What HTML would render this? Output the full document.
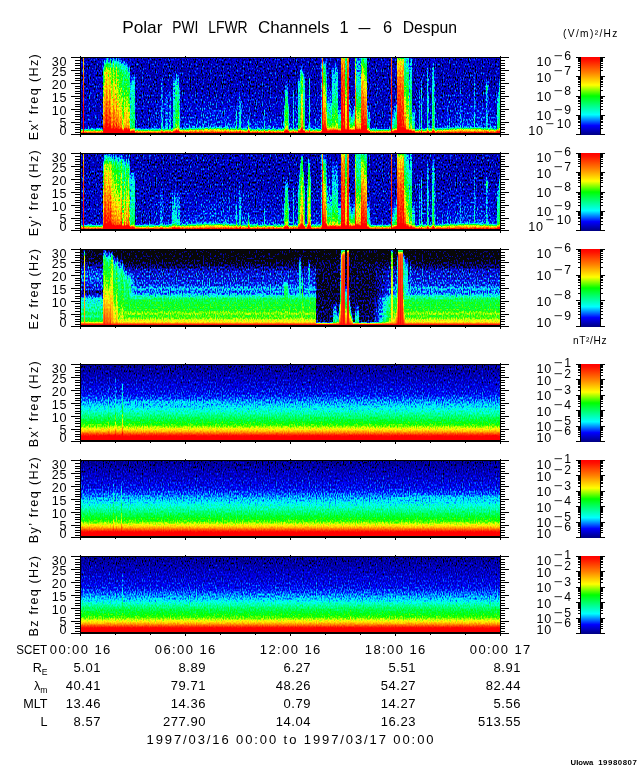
<!DOCTYPE html>
<html lang="en"><head><meta charset="utf-8">
<title>Polar PWI LFWR Channels 1 - 6 Despun</title>
<style>
html,body{margin:0;padding:0;background:#fff;}
body{width:640px;height:768px;overflow:hidden;position:relative;}
svg{display:block;position:absolute;left:0;top:0;font-family:"Liberation Sans", sans-serif;fill:#000;will-change:transform;}
.t13{font-size:12.6px;}
.sp{position:absolute;width:420px;height:77px;overflow:hidden;background:#000;}
.sp i{position:absolute;top:0;width:1px;height:77px;display:block;}
</style></head><body>
<div class="sp" style="left:80px;top:57px;filter:url(#f0)"><i style="left:0px;width:3px;background:linear-gradient(#3c3c3c 0px,#404040 69px,#484848 71px,#585858 72px,#c7c7c7 75px,#dfdfdf 76px)"></i><i style="left:3px;background:linear-gradient(#979797 0px,#9f9f9f 1px,#afafaf 2px,#b7b7b7 4px,#c7c7c7 14px,#dbdbdb 39px,#e7e7e7 68px,#ebebeb 70px,#fbfbfb 73px,#fbfbfb 76px)"></i><i style="left:4px;width:19px;background:linear-gradient(#3c3c3c 0px,#404040 69px,#484848 71px,#585858 72px,#c7c7c7 75px,#dfdfdf 76px)"></i><i style="left:23px;background:linear-gradient(#3c3c3c 0px,#3c3c3c 2px,#484848 6px,#7c7c7c 16px,#939393 30px,#c7c7c7 69px,#d3d3d3 71px,#f7f7f7 73px,#fbfbfb 76px)"></i><i style="left:24px;background:linear-gradient(#404040 0px,#545454 4px,#7c7c7c 9px,#979797 14px,#d3d3d3 66px,#e3e3e3 71px,#fbfbfb 73px,#fbfbfb 76px)"></i><i style="left:25px;background:linear-gradient(#444444 0px,#585858 4px,#8b8b8b 10px,#a3a3a3 15px,#dbdbdb 66px,#ebebeb 71px,#fbfbfb 73px,#fbfbfb 76px)"></i><i style="left:26px;background:linear-gradient(#484848 0px,#646464 4px,#a3a3a3 11px,#afafaf 14px,#e7e7e7 65px,#ebebeb 68px,#fbfbfb 72px,#fbfbfb 76px)"></i><i style="left:27px;background:linear-gradient(#545454 0px,#979797 9px,#9f9f9f 11px,#dfdfdf 68px,#fbfbfb 73px,#fbfbfb 76px)"></i><i style="left:28px;background:linear-gradient(#484848 0px,#505050 2px,#878787 9px,#9b9b9b 13px,#d7d7d7 66px,#e7e7e7 71px,#fbfbfb 73px,#fbfbfb 76px)"></i><i style="left:29px;background:linear-gradient(#444444 0px,#444444 1px,#505050 3px,#9b9b9b 12px,#ababab 16px,#d7d7d7 58px,#e3e3e3 67px,#e7e7e7 69px,#fbfbfb 73px,#fbfbfb 76px)"></i><i style="left:30px;background:linear-gradient(#545454 0px,#878787 7px,#9f9f9f 12px,#a3a3a3 19px,#dbdbdb 67px,#e3e3e3 70px,#fbfbfb 73px,#fbfbfb 76px)"></i><i style="left:31px;background:linear-gradient(#3c3c3c 0px,#4c4c4c 4px,#7c7c7c 11px,#8f8f8f 15px,#a7a7a7 41px,#c7c7c7 67px,#cfcfcf 70px,#d7d7d7 71px,#f7f7f7 73px,#fbfbfb 76px)"></i><i style="left:32px;background:linear-gradient(#484848 0px,#545454 3px,#7c7c7c 9px,#8b8b8b 13px,#a7a7a7 43px,#c3c3c3 66px,#d3d3d3 71px,#f7f7f7 73px,#fbfbfb 76px)"></i><i style="left:33px;background:linear-gradient(#5c5c5c 0px,#9b9b9b 9px,#d7d7d7 66px,#e7e7e7 71px,#fbfbfb 73px,#fbfbfb 76px)"></i><i style="left:34px;background:linear-gradient(#3c3c3c 0px,#4c4c4c 4px,#878787 12px,#979797 15px,#cfcfcf 67px,#d7d7d7 70px,#dfdfdf 71px,#fbfbfb 73px,#fbfbfb 76px)"></i><i style="left:35px;background:linear-gradient(#444444 0px,#4c4c4c 2px,#808080 10px,#8b8b8b 13px,#a3a3a3 39px,#c7c7c7 68px,#d3d3d3 71px,#f7f7f7 73px,#fbfbfb 76px)"></i><i style="left:36px;background:linear-gradient(#585858 0px,#8b8b8b 7px,#9f9f9f 11px,#bbbbbb 43px,#d7d7d7 66px,#e7e7e7 71px,#fbfbfb 73px,#fbfbfb 76px)"></i><i style="left:37px;background:linear-gradient(#404040 0px,#505050 4px,#878787 13px,#8f8f8f 17px,#a3a3a3 41px,#c7c7c7 67px,#cbcbcb 69px,#d7d7d7 71px,#f7f7f7 73px,#fbfbfb 76px)"></i><i style="left:38px;background:linear-gradient(#484848 0px,#5c5c5c 4px,#808080 9px,#8f8f8f 13px,#a3a3a3 37px,#c7c7c7 64px,#dbdbdb 71px,#fbfbfb 73px,#fbfbfb 76px)"></i><i style="left:39px;background:linear-gradient(#444444 0px,#545454 4px,#686868 7px,#808080 13px,#939393 36px,#bfbfbf 68px,#cfcfcf 71px,#f3f3f3 73px,#fbfbfb 74px,#fbfbfb 76px)"></i><i style="left:40px;background:linear-gradient(#484848 0px,#4c4c4c 2px,#7c7c7c 10px,#878787 14px,#8f8f8f 27px,#a3a3a3 45px,#c7c7c7 69px,#d3d3d3 71px,#f7f7f7 73px,#fbfbfb 76px)"></i><i style="left:41px;background:linear-gradient(#404040 0px,#4c4c4c 4px,#6c6c6c 9px,#878787 15px,#979797 35px,#bfbfbf 65px,#cbcbcb 70px,#d3d3d3 71px,#f3f3f3 73px,#fbfbfb 74px,#fbfbfb 76px)"></i><i style="left:42px;background:linear-gradient(#3c3c3c 0px,#484848 4px,#787878 12px,#7c7c7c 14px,#a7a7a7 69px,#afafaf 71px,#bfbfbf 72px,#dfdfdf 73px,#f3f3f3 74px,#fbfbfb 75px,#fbfbfb 76px)"></i><i style="left:43px;background:linear-gradient(#3c3c3c 0px,#3c3c3c 1px,#545454 7px,#6c6c6c 11px,#747474 14px,#9f9f9f 69px,#a7a7a7 71px,#b7b7b7 72px,#d7d7d7 73px,#efefef 74px,#fbfbfb 75px,#fbfbfb 76px)"></i><i style="left:44px;background:linear-gradient(#3c3c3c 0px,#4c4c4c 5px,#6c6c6c 10px,#7c7c7c 15px,#878787 28px,#bfbfbf 68px,#cbcbcb 71px,#f3f3f3 73px,#fbfbfb 74px,#fbfbfb 76px)"></i><i style="left:45px;background:linear-gradient(#3c3c3c 0px,#3c3c3c 2px,#4c4c4c 6px,#606060 9px,#787878 16px,#838383 29px,#b7b7b7 67px,#c7c7c7 71px,#d7d7d7 72px,#efefef 73px,#fbfbfb 74px,#fbfbfb 76px)"></i><i style="left:46px;background:linear-gradient(#3c3c3c 0px,#444444 4px,#6c6c6c 10px,#808080 15px,#9b9b9b 41px,#c3c3c3 68px,#cfcfcf 71px,#f3f3f3 73px,#fbfbfb 74px,#fbfbfb 76px)"></i><i style="left:47px;background:linear-gradient(#3c3c3c 0px,#3c3c3c 4px,#4c4c4c 8px,#787878 16px,#878787 32px,#bbbbbb 68px,#c7c7c7 71px,#efefef 73px,#fbfbfb 74px,#fbfbfb 76px)"></i><i style="left:48px;background:linear-gradient(#3c3c3c 0px,#3c3c3c 5px,#787878 18px,#b7b7b7 68px,#c7c7c7 71px,#d7d7d7 72px,#efefef 73px,#fbfbfb 74px,#fbfbfb 76px)"></i><i style="left:49px;background:linear-gradient(#3c3c3c 0px,#404040 6px,#686868 15px,#707070 19px,#7c7c7c 32px,#afafaf 68px,#bbbbbb 71px,#cfcfcf 72px,#ebebeb 73px,#fbfbfb 74px,#fbfbfb 76px)"></i><i style="left:50px;background:linear-gradient(#3c3c3c 0px,#3c3c3c 17px,#585858 27px,#707070 69px,#7c7c7c 71px,#8b8b8b 72px,#a7a7a7 73px,#ebebeb 75px,#fbfbfb 76px)"></i><i style="left:51px;width:2px;background:linear-gradient(#3c3c3c 0px,#3c3c3c 17px,#646464 25px,#808080 69px,#8b8b8b 71px,#9b9b9b 72px,#b7b7b7 73px,#dbdbdb 74px,#f3f3f3 75px,#fbfbfb 76px)"></i><i style="left:53px;background:linear-gradient(#3c3c3c 0px,#3c3c3c 17px,#646464 24px,#808080 68px,#8b8b8b 71px,#9b9b9b 72px,#dbdbdb 74px,#f3f3f3 75px,#fbfbfb 76px)"></i><i style="left:54px;background:linear-gradient(#3c3c3c 0px,#3c3c3c 17px,#545454 21px,#646464 25px,#7c7c7c 64px,#838383 70px,#8b8b8b 71px,#9b9b9b 72px,#b7b7b7 73px,#dbdbdb 74px,#f3f3f3 75px,#fbfbfb 76px)"></i><i style="left:55px;width:16px;background:linear-gradient(#3c3c3c 0px,#404040 69px,#484848 71px,#585858 72px,#c7c7c7 75px,#dfdfdf 76px)"></i><i style="left:71px;width:10px;background:linear-gradient(#3c3c3c 0px,#3c3c3c 41px,#404040 42px,#444444 69px,#4c4c4c 71px,#5c5c5c 72px,#7c7c7c 73px,#c7c7c7 75px,#e3e3e3 76px)"></i><i style="left:81px;background:linear-gradient(#3c3c3c 0px,#3c3c3c 19px,#4c4c4c 25px,#545454 31px,#585858 50px,#646464 69px,#6c6c6c 71px,#7c7c7c 72px,#e3e3e3 75px,#fbfbfb 76px)"></i><i style="left:82px;background:linear-gradient(#3c3c3c 0px,#3c3c3c 19px,#505050 29px,#505050 38px,#606060 69px,#6c6c6c 71px,#7c7c7c 72px,#979797 73px,#e3e3e3 75px,#f7f7f7 76px)"></i><i style="left:83px;width:2px;background:linear-gradient(#3c3c3c 0px,#3c3c3c 41px,#404040 42px,#444444 69px,#4c4c4c 71px,#5c5c5c 72px,#7c7c7c 73px,#c7c7c7 75px,#e3e3e3 76px)"></i><i style="left:85px;background:linear-gradient(#3c3c3c 0px,#3c3c3c 32px,#4c4c4c 42px,#545454 68px,#606060 71px,#707070 72px,#8b8b8b 73px,#d7d7d7 75px,#f3f3f3 76px)"></i><i style="left:86px;background:linear-gradient(#3c3c3c 0px,#3c3c3c 32px,#505050 42px,#585858 68px,#646464 71px,#747474 72px,#8f8f8f 73px,#dbdbdb 75px,#f7f7f7 76px)"></i><i style="left:87px;background:linear-gradient(#3c3c3c 0px,#3c3c3c 32px,#505050 44px,#585858 69px,#646464 71px,#747474 72px,#8f8f8f 73px,#dbdbdb 75px,#f3f3f3 76px)"></i><i style="left:88px;background:linear-gradient(#3c3c3c 0px,#3c3c3c 41px,#404040 42px,#444444 69px,#4c4c4c 71px,#646464 72px,#ababab 74px,#e3e3e3 76px)"></i><i style="left:89px;background:linear-gradient(#3c3c3c 0px,#3c3c3c 25px,#4c4c4c 32px,#505050 37px,#505050 47px,#5c5c5c 69px,#646464 71px,#747474 72px,#b3b3b3 74px,#dbdbdb 75px,#f7f7f7 76px)"></i><i style="left:90px;background:linear-gradient(#3c3c3c 0px,#3c3c3c 25px,#505050 34px,#585858 62px,#606060 70px,#686868 71px,#787878 72px,#939393 73px,#dfdfdf 75px,#f7f7f7 76px)"></i><i style="left:91px;width:2px;background:linear-gradient(#3c3c3c 0px,#3c3c3c 37px,#404040 38px,#404040 55px,#484848 69px,#505050 71px,#646464 72px,#ababab 74px,#ebebeb 76px)"></i><i style="left:93px;background:linear-gradient(#3c3c3c 0px,#3c3c3c 16px,#5c5c5c 25px,#6c6c6c 55px,#7c7c7c 70px,#838383 71px,#939393 72px,#efefef 75px,#fbfbfb 76px)"></i><i style="left:94px;background:linear-gradient(#3c3c3c 0px,#3c3c3c 16px,#545454 24px,#585858 27px,#585858 33px,#747474 69px,#808080 71px,#8f8f8f 72px,#ebebeb 75px,#fbfbfb 76px)"></i><i style="left:95px;background:linear-gradient(#3c3c3c 0px,#3c3c3c 14px,#484848 19px,#646464 26px,#6c6c6c 30px,#8b8b8b 68px,#979797 71px,#ababab 72px,#c7c7c7 73px,#ebebeb 74px,#fbfbfb 75px,#fbfbfb 76px)"></i><i style="left:96px;background:linear-gradient(#3c3c3c 0px,#3c3c3c 14px,#646464 25px,#707070 30px,#8f8f8f 68px,#9b9b9b 71px,#afafaf 72px,#ebebeb 74px,#fbfbfb 75px,#fbfbfb 76px)"></i><i style="left:97px;background:linear-gradient(#3c3c3c 0px,#3c3c3c 14px,#484848 19px,#686868 28px,#8b8b8b 68px,#979797 71px,#a7a7a7 72px,#ebebeb 74px,#fbfbfb 75px,#fbfbfb 76px)"></i><i style="left:98px;background:linear-gradient(#3c3c3c 0px,#3c3c3c 13px,#484848 18px,#5c5c5c 22px,#747474 29px,#979797 69px,#a3a3a3 71px,#b3b3b3 72px,#efefef 74px,#fbfbfb 75px,#fbfbfb 76px)"></i><i style="left:99px;background:linear-gradient(#3c3c3c 0px,#3c3c3c 25px,#585858 33px,#707070 69px,#7c7c7c 71px,#8b8b8b 72px,#a7a7a7 73px,#ebebeb 75px,#fbfbfb 76px)"></i><i style="left:100px;width:5px;background:linear-gradient(#3c3c3c 0px,#3c3c3c 37px,#404040 38px,#404040 55px,#484848 69px,#545454 71px,#6c6c6c 72px,#979797 73px,#afafaf 74px,#ebebeb 76px)"></i><i style="left:105px;width:3px;background:linear-gradient(#3c3c3c 0px,#3c3c3c 35px,#404040 36px,#444444 60px,#4c4c4c 69px,#545454 71px,#6c6c6c 72px,#979797 73px,#cbcbcb 75px,#efefef 76px)"></i><i style="left:108px;width:8px;background:linear-gradient(#3c3c3c 0px,#3c3c3c 35px,#404040 36px,#444444 60px,#4c4c4c 69px,#505050 70px,#5c5c5c 71px,#7c7c7c 72px,#a3a3a3 73px,#cbcbcb 75px,#efefef 76px)"></i><i style="left:116px;width:3px;background:linear-gradient(#3c3c3c 0px,#3c3c3c 35px,#404040 36px,#444444 60px,#4c4c4c 69px,#505050 70px,#646464 71px,#ababab 73px,#b7b7b7 74px,#cbcbcb 75px,#efefef 76px)"></i><i style="left:119px;width:6px;background:linear-gradient(#3c3c3c 0px,#3c3c3c 33px,#4c4c4c 68px,#545454 70px,#646464 71px,#ababab 73px,#b7b7b7 74px,#efefef 76px)"></i><i style="left:125px;width:15px;background:linear-gradient(#3c3c3c 0px,#3c3c3c 33px,#4c4c4c 68px,#545454 70px,#6c6c6c 71px,#979797 72px,#afafaf 73px,#b7b7b7 74px,#efefef 76px)"></i><i style="left:140px;width:5px;background:linear-gradient(#3c3c3c 0px,#3c3c3c 33px,#4c4c4c 68px,#545454 70px,#646464 71px,#ababab 73px,#b7b7b7 74px,#efefef 76px)"></i><i style="left:145px;background:linear-gradient(#3c3c3c 0px,#3c3c3c 33px,#404040 34px,#444444 56px,#4c4c4c 63px,#646464 69px,#747474 71px,#8b8b8b 72px,#ebebeb 75px,#fbfbfb 76px)"></i><i style="left:146px;width:3px;background:linear-gradient(#3c3c3c 0px,#3c3c3c 33px,#4c4c4c 68px,#545454 70px,#646464 71px,#ababab 73px,#b7b7b7 74px,#efefef 76px)"></i><i style="left:149px;width:3px;background:linear-gradient(#3c3c3c 0px,#3c3c3c 33px,#4c4c4c 68px,#5c5c5c 71px,#7c7c7c 72px,#a3a3a3 73px,#b7b7b7 74px,#efefef 76px)"></i><i style="left:152px;width:4px;background:linear-gradient(#3c3c3c 0px,#3c3c3c 35px,#404040 36px,#444444 60px,#4c4c4c 69px,#505050 70px,#5c5c5c 71px,#7c7c7c 72px,#a3a3a3 73px,#cbcbcb 75px,#efefef 76px)"></i><i style="left:156px;background:linear-gradient(#3c3c3c 0px,#404040 46px,#484848 49px,#6c6c6c 57px,#747474 61px,#787878 68px,#838383 71px,#979797 72px,#b3b3b3 73px,#d7d7d7 74px,#efefef 75px,#fbfbfb 76px)"></i><i style="left:157px;width:2px;background:linear-gradient(#3c3c3c 0px,#3c3c3c 35px,#404040 36px,#444444 60px,#4c4c4c 69px,#545454 71px,#6c6c6c 72px,#979797 73px,#cbcbcb 75px,#efefef 76px)"></i><i style="left:159px;background:linear-gradient(#3c3c3c 0px,#3c3c3c 25px,#545454 38px,#585858 51px,#686868 69px,#747474 71px,#838383 72px,#9f9f9f 73px,#e7e7e7 75px,#fbfbfb 76px)"></i><i style="left:160px;background:linear-gradient(#3c3c3c 0px,#3c3c3c 34px,#404040 38px,#606060 48px,#707070 68px,#7c7c7c 71px,#8b8b8b 72px,#cfcfcf 74px,#ebebeb 75px,#fbfbfb 76px)"></i><i style="left:161px;width:4px;background:linear-gradient(#3c3c3c 0px,#3c3c3c 35px,#404040 36px,#444444 60px,#4c4c4c 69px,#545454 71px,#6c6c6c 72px,#979797 73px,#cbcbcb 75px,#efefef 76px)"></i><i style="left:165px;width:3px;background:linear-gradient(#3c3c3c 0px,#3c3c3c 35px,#404040 36px,#444444 60px,#4c4c4c 69px,#545454 71px,#686868 72px,#efefef 76px)"></i><i style="left:168px;background:linear-gradient(#3c3c3c 0px,#3c3c3c 37px,#404040 38px,#444444 58px,#5c5c5c 63px,#979797 71px,#ababab 72px,#c7c7c7 73px,#ebebeb 74px,#fbfbfb 75px,#fbfbfb 76px)"></i><i style="left:169px;background:linear-gradient(#3c3c3c 0px,#3c3c3c 37px,#404040 38px,#404040 55px,#484848 64px,#606060 69px,#747474 71px,#878787 72px,#efefef 75px,#fbfbfb 76px)"></i><i style="left:170px;width:7px;background:linear-gradient(#3c3c3c 0px,#3c3c3c 37px,#404040 38px,#404040 55px,#484848 69px,#505050 71px,#646464 72px,#ababab 74px,#ebebeb 76px)"></i><i style="left:177px;background:linear-gradient(#3c3c3c 0px,#3c3c3c 37px,#404040 38px,#404040 55px,#484848 64px,#5c5c5c 69px,#6c6c6c 71px,#808080 72px,#e7e7e7 75px,#fbfbfb 76px)"></i><i style="left:178px;width:6px;background:linear-gradient(#3c3c3c 0px,#3c3c3c 37px,#404040 38px,#404040 55px,#484848 69px,#505050 71px,#606060 72px,#ebebeb 76px)"></i><i style="left:184px;background:linear-gradient(#3c3c3c 0px,#404040 48px,#606060 61px,#646464 69px,#707070 71px,#808080 72px,#9b9b9b 73px,#e3e3e3 75px,#fbfbfb 76px)"></i><i style="left:185px;width:4px;background:linear-gradient(#3c3c3c 0px,#3c3c3c 37px,#404040 38px,#404040 55px,#484848 69px,#505050 71px,#606060 72px,#ebebeb 76px)"></i><i style="left:189px;background:linear-gradient(#3c3c3c 0px,#3c3c3c 37px,#404040 38px,#404040 55px,#484848 67px,#505050 69px,#606060 71px,#747474 72px,#e3e3e3 75px,#fbfbfb 76px)"></i><i style="left:190px;width:3px;background:linear-gradient(#3c3c3c 0px,#3c3c3c 37px,#404040 38px,#404040 55px,#484848 69px,#505050 71px,#606060 72px,#ebebeb 76px)"></i><i style="left:193px;background:linear-gradient(#3c3c3c 0px,#3c3c3c 37px,#404040 38px,#404040 55px,#484848 67px,#505050 69px,#606060 71px,#747474 72px,#e3e3e3 75px,#fbfbfb 76px)"></i><i style="left:194px;width:10px;background:linear-gradient(#3c3c3c 0px,#3c3c3c 37px,#404040 38px,#404040 55px,#484848 69px,#505050 71px,#606060 72px,#ebebeb 76px)"></i><i style="left:204px;background:linear-gradient(#3c3c3c 0px,#3c3c3c 37px,#484848 44px,#6c6c6c 54px,#787878 69px,#808080 71px,#939393 72px,#efefef 75px,#fbfbfb 76px)"></i><i style="left:205px;background:linear-gradient(#3c3c3c 0px,#3c3c3c 22px,#444444 26px,#787878 40px,#979797 68px,#a3a3a3 71px,#b7b7b7 72px,#efefef 74px,#fbfbfb 75px,#fbfbfb 76px)"></i><i style="left:206px;background:linear-gradient(#3c3c3c 0px,#3c3c3c 22px,#444444 26px,#787878 40px,#979797 68px,#a3a3a3 71px,#b3b3b3 72px,#efefef 74px,#fbfbfb 75px,#fbfbfb 76px)"></i><i style="left:207px;background:linear-gradient(#3c3c3c 0px,#3c3c3c 22px,#4c4c4c 29px,#787878 41px,#939393 68px,#a3a3a3 71px,#b3b3b3 72px,#efefef 74px,#fbfbfb 75px,#fbfbfb 76px)"></i><i style="left:208px;background:linear-gradient(#3c3c3c 0px,#3c3c3c 37px,#484848 44px,#6c6c6c 54px,#787878 69px,#808080 71px,#939393 72px,#efefef 75px,#fbfbfb 76px)"></i><i style="left:209px;width:4px;background:linear-gradient(#3c3c3c 0px,#3c3c3c 37px,#404040 38px,#404040 55px,#484848 69px,#505050 71px,#606060 72px,#ebebeb 76px)"></i><i style="left:213px;background:linear-gradient(#3c3c3c 0px,#3c3c3c 25px,#585858 37px,#6c6c6c 68px,#787878 71px,#878787 72px,#ebebeb 75px,#fbfbfb 76px)"></i><i style="left:214px;background:linear-gradient(#3c3c3c 0px,#3c3c3c 37px,#404040 38px,#404040 55px,#484848 69px,#505050 71px,#606060 72px,#ebebeb 76px)"></i><i style="left:215px;width:3px;background:linear-gradient(#3c3c3c 0px,#3c3c3c 35px,#404040 36px,#444444 60px,#4c4c4c 69px,#545454 71px,#646464 72px,#efefef 76px)"></i><i style="left:218px;background:linear-gradient(#3c3c3c 0px,#3c3c3c 17px,#5c5c5c 24px,#646464 27px,#6c6c6c 43px,#838383 68px,#8f8f8f 71px,#9f9f9f 72px,#e3e3e3 74px,#f7f7f7 75px,#fbfbfb 76px)"></i><i style="left:219px;background:linear-gradient(#3c3c3c 0px,#3c3c3c 17px,#606060 28px,#646464 39px,#808080 69px,#8b8b8b 71px,#9b9b9b 72px,#dfdfdf 74px,#f3f3f3 75px,#fbfbfb 76px)"></i><i style="left:220px;background:linear-gradient(#3c3c3c 0px,#3c3c3c 9px,#6c6c6c 19px,#7c7c7c 40px,#9b9b9b 69px,#a7a7a7 71px,#b7b7b7 72px,#d7d7d7 73px,#efefef 74px,#fbfbfb 75px,#fbfbfb 76px)"></i><i style="left:221px;background:linear-gradient(#3c3c3c 0px,#3c3c3c 8px,#4c4c4c 11px,#838383 18px,#8b8b8b 20px,#a7a7a7 46px,#c7c7c7 69px,#d3d3d3 71px,#f7f7f7 73px,#fbfbfb 76px)"></i><i style="left:222px;background:linear-gradient(#3c3c3c 0px,#3c3c3c 8px,#4c4c4c 11px,#808080 17px,#8f8f8f 21px,#939393 28px,#c3c3c3 68px,#cfcfcf 71px,#f3f3f3 73px,#fbfbfb 74px,#fbfbfb 76px)"></i><i style="left:223px;background:linear-gradient(#3c3c3c 0px,#3c3c3c 13px,#646464 22px,#686868 25px,#707070 41px,#878787 68px,#939393 71px,#a3a3a3 72px,#e7e7e7 74px,#f7f7f7 75px,#fbfbfb 76px)"></i><i style="left:224px;background:linear-gradient(#3c3c3c 0px,#3c3c3c 13px,#404040 15px,#646464 23px,#6c6c6c 38px,#878787 69px,#939393 71px,#a3a3a3 72px,#bfbfbf 73px,#e3e3e3 74px,#f7f7f7 75px,#fbfbfb 76px)"></i><i style="left:225px;width:4px;background:linear-gradient(#3c3c3c 0px,#3c3c3c 37px,#404040 38px,#404040 55px,#484848 69px,#505050 71px,#606060 72px,#ebebeb 76px)"></i><i style="left:229px;background:linear-gradient(#3c3c3c 0px,#3c3c3c 13px,#5c5c5c 23px,#686868 49px,#787878 69px,#838383 71px,#939393 72px,#efefef 75px,#fbfbfb 76px)"></i><i style="left:230px;width:11px;background:linear-gradient(#3c3c3c 0px,#3c3c3c 37px,#404040 38px,#404040 55px,#484848 69px,#505050 71px,#606060 72px,#ebebeb 76px)"></i><i style="left:241px;background:linear-gradient(#545454 0px,#646464 52px,#707070 70px,#787878 71px,#878787 72px,#a3a3a3 73px,#e7e7e7 75px,#fbfbfb 76px)"></i><i style="left:242px;background:linear-gradient(#b3b3b3 0px,#b7b7b7 1px,#c3c3c3 2px,#d3d3d3 14px,#ebebeb 68px,#fbfbfb 72px,#fbfbfb 76px)"></i><i style="left:243px;background:linear-gradient(#3c3c3c 0px,#404040 3px,#4c4c4c 5px,#707070 9px,#808080 12px,#d3d3d3 65px,#dfdfdf 70px,#fbfbfb 73px,#fbfbfb 76px)"></i><i style="left:244px;background:linear-gradient(#3c3c3c 0px,#404040 3px,#747474 10px,#7c7c7c 12px,#d3d3d3 64px,#e3e3e3 70px,#fbfbfb 73px,#fbfbfb 76px)"></i><i style="left:245px;background:linear-gradient(#3c3c3c 0px,#3c3c3c 2px,#444444 4px,#747474 11px,#d7d7d7 67px,#e3e3e3 70px,#fbfbfb 73px,#fbfbfb 76px)"></i><i style="left:246px;background:linear-gradient(#4c4c4c 0px,#4c4c4c 11px,#585858 21px,#787878 39px,#a7a7a7 61px,#bbbbbb 69px,#cbcbcb 71px,#efefef 73px,#fbfbfb 74px,#fbfbfb 76px)"></i><i style="left:247px;background:linear-gradient(#3c3c3c 0px,#3c3c3c 20px,#444444 29px,#5c5c5c 45px,#878787 66px,#9f9f9f 71px,#afafaf 72px,#efefef 74px,#fbfbfb 75px,#fbfbfb 76px)"></i><i style="left:248px;background:linear-gradient(#3c3c3c 0px,#404040 28px,#505050 40px,#838383 65px,#8f8f8f 69px,#9f9f9f 71px,#afafaf 72px,#efefef 74px,#fbfbfb 75px,#fbfbfb 76px)"></i><i style="left:249px;background:linear-gradient(#3c3c3c 0px,#404040 29px,#545454 43px,#838383 65px,#8f8f8f 69px,#9f9f9f 71px,#afafaf 72px,#efefef 74px,#fbfbfb 75px,#fbfbfb 76px)"></i><i style="left:250px;background:linear-gradient(#3c3c3c 0px,#3c3c3c 25px,#444444 34px,#4c4c4c 40px,#808080 64px,#8f8f8f 69px,#9f9f9f 71px,#afafaf 72px,#efefef 74px,#fbfbfb 75px,#fbfbfb 76px)"></i><i style="left:251px;background:linear-gradient(#3c3c3c 0px,#404040 2px,#404040 31px,#505050 43px,#787878 61px,#8b8b8b 68px,#9f9f9f 71px,#afafaf 72px,#d3d3d3 73px,#efefef 74px,#fbfbfb 75px,#fbfbfb 76px)"></i><i style="left:252px;background:linear-gradient(#3c3c3c 0px,#3c3c3c 5px,#606060 17px,#646464 26px,#787878 45px,#9b9b9b 69px,#a7a7a7 71px,#b7b7b7 72px,#f3f3f3 74px,#fbfbfb 75px,#fbfbfb 76px)"></i><i style="left:253px;background:linear-gradient(#3c3c3c 0px,#3c3c3c 5px,#5c5c5c 17px,#747474 44px,#979797 68px,#a3a3a3 71px,#b7b7b7 72px,#d7d7d7 73px,#efefef 74px,#fbfbfb 75px,#fbfbfb 76px)"></i><i style="left:254px;background:linear-gradient(#3c3c3c 0px,#3c3c3c 5px,#5c5c5c 17px,#686868 34px,#939393 67px,#a3a3a3 71px,#b7b7b7 72px,#efefef 74px,#fbfbfb 75px,#fbfbfb 76px)"></i><i style="left:255px;background:linear-gradient(#3c3c3c 0px,#3c3c3c 5px,#5c5c5c 15px,#787878 45px,#9b9b9b 69px,#a7a7a7 71px,#b7b7b7 72px,#f3f3f3 74px,#fbfbfb 75px,#fbfbfb 76px)"></i><i style="left:256px;background:linear-gradient(#3c3c3c 0px,#3c3c3c 5px,#585858 13px,#606060 17px,#787878 44px,#9b9b9b 68px,#a7a7a7 71px,#bbbbbb 72px,#f3f3f3 74px,#fbfbfb 75px,#fbfbfb 76px)"></i><i style="left:257px;background:linear-gradient(#3c3c3c 0px,#3c3c3c 5px,#5c5c5c 16px,#787878 46px,#979797 68px,#a7a7a7 71px,#b7b7b7 72px,#f3f3f3 74px,#fbfbfb 75px,#fbfbfb 76px)"></i><i style="left:258px;width:3px;background:linear-gradient(#3c3c3c 0px,#404040 44px,#4c4c4c 50px,#707070 63px,#808080 68px,#8b8b8b 70px,#939393 71px,#a7a7a7 72px,#ebebeb 74px,#fbfbfb 75px,#fbfbfb 76px)"></i><i style="left:261px;background:linear-gradient(#979797 0px,#a3a3a3 1px,#b7b7b7 2px,#bfbfbf 4px,#cfcfcf 14px,#e3e3e3 42px,#ebebeb 67px,#fbfbfb 72px,#fbfbfb 76px)"></i><i style="left:262px;background:linear-gradient(#9b9b9b 0px,#b7b7b7 2px,#c3c3c3 5px,#d3d3d3 15px,#e3e3e3 37px,#efefef 68px,#fbfbfb 72px,#fbfbfb 76px)"></i><i style="left:263px;background:linear-gradient(#878787 0px,#a7a7a7 2px,#bbbbbb 9px,#cfcfcf 30px,#dfdfdf 68px,#e3e3e3 70px,#fbfbfb 73px,#fbfbfb 76px)"></i><i style="left:264px;background:linear-gradient(#979797 0px,#b7b7b7 2px,#c3c3c3 5px,#d3d3d3 16px,#e3e3e3 39px,#ebebeb 64px,#efefef 69px,#fbfbfb 72px,#fbfbfb 76px)"></i><i style="left:265px;background:linear-gradient(#707070 0px,#8b8b8b 21px,#b3b3b3 67px,#bfbfbf 71px,#ebebeb 73px,#fbfbfb 74px,#fbfbfb 76px)"></i><i style="left:266px;background:linear-gradient(#747474 0px,#838383 12px,#b7b7b7 68px,#bbbbbb 70px,#c3c3c3 71px,#fbfbfb 74px,#fbfbfb 76px)"></i><i style="left:267px;width:2px;background:linear-gradient(#b3b3b3 0px,#b7b7b7 1px,#c3c3c3 2px,#d3d3d3 14px,#e3e3e3 47px,#e7e7e7 68px,#fbfbfb 73px,#fbfbfb 76px)"></i><i style="left:269px;background:linear-gradient(#3c3c3c 0px,#3c3c3c 36px,#505050 47px,#747474 59px,#9b9b9b 69px,#ababab 71px,#bfbfbf 72px,#e3e3e3 73px,#f7f7f7 74px,#fbfbfb 76px)"></i><i style="left:270px;background:linear-gradient(#3c3c3c 0px,#3c3c3c 43px,#444444 48px,#585858 55px,#808080 65px,#9b9b9b 70px,#a7a7a7 71px,#bbbbbb 72px,#dfdfdf 73px,#f7f7f7 74px,#fbfbfb 76px)"></i><i style="left:271px;width:2px;background:linear-gradient(#3c3c3c 0px,#404040 53px,#505050 58px,#6c6c6c 64px,#939393 70px,#9f9f9f 71px,#b3b3b3 72px,#d7d7d7 73px,#f3f3f3 74px,#fbfbfb 75px,#fbfbfb 76px)"></i><i style="left:273px;background:linear-gradient(#3c3c3c 0px,#3c3c3c 44px,#484848 51px,#545454 55px,#8b8b8b 68px,#a7a7a7 71px,#bbbbbb 72px,#dfdfdf 73px,#f7f7f7 74px,#fbfbfb 76px)"></i><i style="left:274px;background:linear-gradient(#3c3c3c 0px,#3c3c3c 39px,#4c4c4c 48px,#646464 56px,#9f9f9f 70px,#ababab 71px,#bfbfbf 72px,#dfdfdf 73px,#f7f7f7 74px,#fbfbfb 76px)"></i><i style="left:275px;background:linear-gradient(#7c7c7c 0px,#939393 4px,#afafaf 17px,#cfcfcf 43px,#e3e3e3 68px,#fbfbfb 73px,#fbfbfb 76px)"></i><i style="left:276px;background:linear-gradient(#5c5c5c 0px,#5c5c5c 8px,#6c6c6c 25px,#838383 42px,#b3b3b3 67px,#c7c7c7 71px,#d7d7d7 72px,#efefef 73px,#fbfbfb 74px,#fbfbfb 76px)"></i><i style="left:277px;background:linear-gradient(#585858 0px,#5c5c5c 10px,#6c6c6c 26px,#878787 45px,#ababab 64px,#b7b7b7 69px,#c7c7c7 71px,#d7d7d7 72px,#efefef 73px,#fbfbfb 74px,#fbfbfb 76px)"></i><i style="left:278px;background:linear-gradient(#505050 0px,#606060 23px,#747474 38px,#a3a3a3 64px,#b7b7b7 70px,#bfbfbf 71px,#cfcfcf 72px,#ebebeb 73px,#fbfbfb 74px,#fbfbfb 76px)"></i><i style="left:279px;background:linear-gradient(#585858 0px,#5c5c5c 11px,#707070 30px,#8b8b8b 48px,#b3b3b3 68px,#c3c3c3 71px,#efefef 73px,#fbfbfb 74px,#fbfbfb 76px)"></i><i style="left:280px;background:linear-gradient(#505050 0px,#545454 12px,#707070 36px,#ababab 68px,#bbbbbb 71px,#cfcfcf 72px,#ebebeb 73px,#fbfbfb 74px,#fbfbfb 76px)"></i><i style="left:281px;background:linear-gradient(#686868 0px,#7c7c7c 2px,#878787 4px,#ababab 19px,#cbcbcb 43px,#e3e3e3 69px,#fbfbfb 73px,#fbfbfb 76px)"></i><i style="left:282px;background:linear-gradient(#6c6c6c 0px,#838383 2px,#979797 7px,#b3b3b3 20px,#dbdbdb 52px,#e7e7e7 68px,#fbfbfb 73px,#fbfbfb 76px)"></i><i style="left:283px;background:linear-gradient(#686868 0px,#838383 3px,#a3a3a3 14px,#cbcbcb 42px,#e3e3e3 68px,#e7e7e7 70px,#fbfbfb 73px,#fbfbfb 76px)"></i><i style="left:284px;width:2px;background:linear-gradient(#585858 0px,#5c5c5c 1px,#686868 2px,#808080 8px,#8f8f8f 14px,#bbbbbb 38px,#dfdfdf 67px,#e7e7e7 70px,#fbfbfb 73px,#fbfbfb 76px)"></i><i style="left:286px;background:linear-gradient(#686868 0px,#787878 5px,#979797 21px,#dbdbdb 66px,#ebebeb 71px,#f7f7f7 72px,#fbfbfb 73px,#fbfbfb 76px)"></i><i style="left:287px;background:linear-gradient(#3c3c3c 0px,#3c3c3c 45px,#707070 61px,#808080 68px,#8f8f8f 71px,#a3a3a3 72px,#e7e7e7 74px,#fbfbfb 75px,#fbfbfb 76px)"></i><i style="left:288px;background:linear-gradient(#3c3c3c 0px,#3c3c3c 45px,#545454 53px,#707070 67px,#838383 71px,#939393 72px,#d7d7d7 74px,#f3f3f3 75px,#fbfbfb 76px)"></i><i style="left:289px;background:linear-gradient(#3c3c3c 0px,#3c3c3c 45px,#585858 58px,#686868 69px,#747474 71px,#838383 72px,#e7e7e7 75px,#fbfbfb 76px)"></i><i style="left:290px;width:21px;background:linear-gradient(#3c3c3c 0px,#404040 69px,#484848 71px,#585858 72px,#c7c7c7 75px,#dfdfdf 76px)"></i><i style="left:311px;background:linear-gradient(#bbbbbb 0px,#cbcbcb 3px,#d3d3d3 9px,#e3e3e3 43px,#e7e7e7 68px,#fbfbfb 73px,#fbfbfb 76px)"></i><i style="left:312px;background:linear-gradient(#3c3c3c 0px,#3c3c3c 47px,#404040 54px,#505050 59px,#585858 64px,#707070 71px,#838383 72px,#e7e7e7 75px,#fbfbfb 76px)"></i><i style="left:313px;background:linear-gradient(#3c3c3c 0px,#3c3c3c 47px,#404040 51px,#606060 62px,#686868 67px,#747474 70px,#7c7c7c 71px,#8b8b8b 72px,#efefef 75px,#fbfbfb 76px)"></i><i style="left:314px;background:linear-gradient(#3c3c3c 0px,#3c3c3c 47px,#545454 54px,#787878 69px,#878787 71px,#979797 72px,#dbdbdb 74px,#f3f3f3 75px,#fbfbfb 76px)"></i><i style="left:315px;background:linear-gradient(#3c3c3c 0px,#3c3c3c 44px,#404040 46px,#545454 51px,#7c7c7c 67px,#878787 70px,#8f8f8f 71px,#a3a3a3 72px,#e7e7e7 74px,#f7f7f7 75px,#fbfbfb 76px)"></i><i style="left:316px;background:linear-gradient(#3c3c3c 0px,#3c3c3c 41px,#404040 43px,#6c6c6c 56px,#8b8b8b 69px,#9b9b9b 71px,#ababab 72px,#ebebeb 74px,#fbfbfb 75px,#fbfbfb 76px)"></i><i style="left:317px;background:linear-gradient(#808080 0px,#9b9b9b 2px,#ababab 6px,#b7b7b7 12px,#cfcfcf 32px,#e7e7e7 68px,#ebebeb 70px,#fbfbfb 73px,#fbfbfb 76px)"></i><i style="left:318px;background:linear-gradient(#838383 0px,#9b9b9b 2px,#afafaf 7px,#bbbbbb 13px,#d7d7d7 39px,#e7e7e7 67px,#fbfbfb 73px,#fbfbfb 76px)"></i><i style="left:319px;background:linear-gradient(#838383 0px,#9f9f9f 2px,#b3b3b3 8px,#bfbfbf 15px,#d3d3d3 33px,#e7e7e7 59px,#e7e7e7 65px,#ebebeb 69px,#fbfbfb 72px,#fbfbfb 76px)"></i><i style="left:320px;background:linear-gradient(#787878 0px,#a3a3a3 2px,#b7b7b7 7px,#bfbfbf 11px,#d7d7d7 32px,#ebebeb 68px,#efefef 70px,#fbfbfb 72px,#fbfbfb 76px)"></i><i style="left:321px;background:linear-gradient(#6c6c6c 0px,#939393 2px,#9b9b9b 3px,#a7a7a7 6px,#b7b7b7 14px,#cfcfcf 39px,#dfdfdf 69px,#fbfbfb 73px,#fbfbfb 76px)"></i><i style="left:322px;background:linear-gradient(#747474 0px,#838383 1px,#9b9b9b 2px,#a3a3a3 3px,#bbbbbb 12px,#d7d7d7 40px,#e3e3e3 66px,#e7e7e7 69px,#fbfbfb 73px,#fbfbfb 76px)"></i><i style="left:323px;background:linear-gradient(#747474 0px,#9b9b9b 2px,#a3a3a3 3px,#afafaf 6px,#bfbfbf 14px,#d7d7d7 39px,#e3e3e3 65px,#e7e7e7 69px,#fbfbfb 73px,#fbfbfb 76px)"></i><i style="left:324px;background:linear-gradient(#6c6c6c 0px,#787878 16px,#8f8f8f 34px,#c3c3c3 64px,#d3d3d3 70px,#dbdbdb 71px,#fbfbfb 73px,#fbfbfb 76px)"></i><i style="left:325px;background:linear-gradient(#747474 0px,#7c7c7c 15px,#979797 36px,#bbbbbb 57px,#cfcfcf 67px,#dfdfdf 71px,#fbfbfb 73px,#fbfbfb 76px)"></i><i style="left:326px;background:linear-gradient(#585858 0px,#7c7c7c 24px,#ababab 69px,#b7b7b7 71px,#c7c7c7 72px,#e3e3e3 73px,#f7f7f7 74px,#fbfbfb 76px)"></i><i style="left:327px;background:linear-gradient(#5c5c5c 0px,#787878 18px,#ababab 68px,#b7b7b7 71px,#fbfbfb 74px,#fbfbfb 76px)"></i><i style="left:328px;background:linear-gradient(#606060 0px,#7c7c7c 20px,#afafaf 69px,#bbbbbb 71px,#cbcbcb 72px,#e7e7e7 73px,#fbfbfb 74px,#fbfbfb 76px)"></i><i style="left:329px;background:linear-gradient(#404040 0px,#505050 11px,#808080 69px,#8b8b8b 71px,#9b9b9b 72px,#b7b7b7 73px,#dbdbdb 74px,#f3f3f3 75px,#fbfbfb 76px)"></i><i style="left:330px;background:linear-gradient(#545454 0px,#979797 70px,#9f9f9f 71px,#afafaf 72px,#ebebeb 74px,#fbfbfb 75px,#fbfbfb 76px)"></i><i style="left:331px;background:linear-gradient(#545454 0px,#747474 29px,#939393 68px,#9f9f9f 71px,#afafaf 72px,#ebebeb 74px,#fbfbfb 75px,#fbfbfb 76px)"></i><i style="left:332px;width:3px;background:linear-gradient(#3c3c3c 0px,#3c3c3c 47px,#505050 53px,#707070 68px,#787878 70px,#808080 71px,#8f8f8f 72px,#d3d3d3 74px,#efefef 75px,#fbfbfb 76px)"></i><i style="left:335px;width:4px;background:linear-gradient(#3c3c3c 0px,#404040 69px,#484848 71px,#585858 72px,#c7c7c7 75px,#dfdfdf 76px)"></i><i style="left:339px;background:linear-gradient(#3c3c3c 0px,#3c3c3c 22px,#545454 34px,#5c5c5c 68px,#686868 71px,#787878 72px,#939393 73px,#dfdfdf 75px,#f7f7f7 76px)"></i><i style="left:340px;background:linear-gradient(#3c3c3c 0px,#3c3c3c 41px,#404040 42px,#444444 69px,#4c4c4c 71px,#5c5c5c 72px,#7c7c7c 73px,#c7c7c7 75px,#e3e3e3 76px)"></i><i style="left:341px;background:linear-gradient(#3c3c3c 0px,#3c3c3c 18px,#5c5c5c 31px,#6c6c6c 68px,#787878 71px,#878787 72px,#e7e7e7 75px,#fbfbfb 76px)"></i><i style="left:342px;width:3px;background:linear-gradient(#3c3c3c 0px,#3c3c3c 41px,#404040 42px,#444444 69px,#4c4c4c 71px,#5c5c5c 72px,#7c7c7c 73px,#c7c7c7 75px,#e3e3e3 76px)"></i><i style="left:345px;width:2px;background:linear-gradient(#3c3c3c 0px,#3c3c3c 41px,#404040 42px,#444444 69px,#4c4c4c 71px,#646464 72px,#ababab 74px,#e3e3e3 76px)"></i><i style="left:347px;background:linear-gradient(#3c3c3c 0px,#3c3c3c 3px,#5c5c5c 16px,#787878 68px,#838383 71px,#939393 72px,#d7d7d7 74px,#efefef 75px,#fbfbfb 76px)"></i><i style="left:348px;background:linear-gradient(#3c3c3c 0px,#3c3c3c 12px,#4c4c4c 21px,#585858 62px,#606060 70px,#686868 71px,#787878 72px,#939393 73px,#dfdfdf 75px,#f7f7f7 76px)"></i><i style="left:349px;width:3px;background:linear-gradient(#3c3c3c 0px,#3c3c3c 41px,#404040 42px,#444444 69px,#4c4c4c 71px,#646464 72px,#ababab 74px,#e3e3e3 76px)"></i><i style="left:352px;background:linear-gradient(#3c3c3c 0px,#3c3c3c 3px,#5c5c5c 16px,#787878 68px,#838383 71px,#939393 72px,#d7d7d7 74px,#efefef 75px,#fbfbfb 76px)"></i><i style="left:353px;background:linear-gradient(#3c3c3c 0px,#404040 3px,#606060 11px,#686868 16px,#8f8f8f 69px,#9b9b9b 71px,#ababab 72px,#c7c7c7 73px,#ebebeb 74px,#fbfbfb 75px,#fbfbfb 76px)"></i><i style="left:354px;background:linear-gradient(#3c3c3c 0px,#3c3c3c 11px,#545454 25px,#545454 35px,#686868 70px,#707070 71px,#808080 72px,#9b9b9b 73px,#e3e3e3 75px,#fbfbfb 76px)"></i><i style="left:355px;background:linear-gradient(#3c3c3c 0px,#3c3c3c 41px,#404040 42px,#444444 69px,#4c4c4c 71px,#646464 72px,#ababab 74px,#e3e3e3 76px)"></i><i style="left:356px;background:linear-gradient(#3c3c3c 0px,#3c3c3c 37px,#404040 38px,#404040 55px,#484848 69px,#505050 71px,#646464 72px,#ababab 74px,#ebebeb 76px)"></i><i style="left:357px;width:7px;background:linear-gradient(#3c3c3c 0px,#3c3c3c 37px,#404040 38px,#404040 55px,#484848 69px,#545454 71px,#6c6c6c 72px,#979797 73px,#afafaf 74px,#ebebeb 76px)"></i><i style="left:364px;width:3px;background:linear-gradient(#3c3c3c 0px,#3c3c3c 37px,#404040 38px,#404040 55px,#484848 69px,#4c4c4c 70px,#5c5c5c 71px,#7c7c7c 72px,#a3a3a3 73px,#cbcbcb 75px,#ebebeb 76px)"></i><i style="left:367px;background:linear-gradient(#3c3c3c 0px,#3c3c3c 35px,#404040 43px,#505050 55px,#545454 68px,#606060 71px,#7c7c7c 72px,#a3a3a3 73px,#f3f3f3 76px)"></i><i style="left:368px;width:2px;background:linear-gradient(#3c3c3c 0px,#3c3c3c 35px,#404040 36px,#444444 60px,#4c4c4c 69px,#505050 70px,#5c5c5c 71px,#7c7c7c 72px,#a3a3a3 73px,#cbcbcb 75px,#efefef 76px)"></i><i style="left:370px;width:7px;background:linear-gradient(#3c3c3c 0px,#3c3c3c 35px,#404040 36px,#444444 60px,#4c4c4c 69px,#505050 70px,#646464 71px,#ababab 73px,#b7b7b7 74px,#cbcbcb 75px,#efefef 76px)"></i><i style="left:377px;background:linear-gradient(#3c3c3c 0px,#3c3c3c 35px,#404040 36px,#444444 60px,#4c4c4c 69px,#545454 70px,#6c6c6c 71px,#979797 72px,#afafaf 73px,#b7b7b7 74px,#cbcbcb 75px,#efefef 76px)"></i><i style="left:378px;width:2px;background:linear-gradient(#3c3c3c 0px,#3c3c3c 33px,#4c4c4c 68px,#545454 70px,#6c6c6c 71px,#979797 72px,#afafaf 73px,#b7b7b7 74px,#efefef 76px)"></i><i style="left:380px;background:linear-gradient(#3c3c3c 0px,#3c3c3c 16px,#4c4c4c 27px,#505050 48px,#606060 69px,#646464 70px,#747474 71px,#979797 72px,#c3c3c3 74px,#e3e3e3 75px,#fbfbfb 76px)"></i><i style="left:381px;width:13px;background:linear-gradient(#3c3c3c 0px,#3c3c3c 33px,#4c4c4c 68px,#545454 70px,#6c6c6c 71px,#979797 72px,#afafaf 73px,#b7b7b7 74px,#efefef 76px)"></i><i style="left:394px;background:linear-gradient(#3c3c3c 0px,#3c3c3c 13px,#545454 24px,#5c5c5c 51px,#6c6c6c 69px,#707070 70px,#7c7c7c 71px,#c7c7c7 74px,#ebebeb 75px,#fbfbfb 76px)"></i><i style="left:395px;width:5px;background:linear-gradient(#3c3c3c 0px,#3c3c3c 33px,#4c4c4c 68px,#545454 70px,#6c6c6c 71px,#979797 72px,#afafaf 73px,#b7b7b7 74px,#efefef 76px)"></i><i style="left:400px;width:3px;background:linear-gradient(#3c3c3c 0px,#3c3c3c 33px,#4c4c4c 68px,#545454 70px,#646464 71px,#ababab 73px,#b7b7b7 74px,#efefef 76px)"></i><i style="left:403px;background:linear-gradient(#3c3c3c 0px,#3c3c3c 35px,#404040 36px,#444444 60px,#4c4c4c 69px,#505050 70px,#646464 71px,#ababab 73px,#b7b7b7 74px,#cbcbcb 75px,#efefef 76px)"></i><i style="left:404px;background:linear-gradient(#3c3c3c 0px,#404040 50px,#4c4c4c 69px,#505050 70px,#646464 71px,#ababab 73px,#b7b7b7 74px,#cbcbcb 75px,#efefef 76px)"></i><i style="left:405px;background:linear-gradient(#3c3c3c 0px,#3c3c3c 25px,#505050 31px,#4c4c4c 34px,#404040 37px,#404040 50px,#4c4c4c 69px,#505050 70px,#646464 71px,#ababab 73px,#b7b7b7 74px,#cbcbcb 75px,#efefef 76px)"></i><i style="left:406px;background:linear-gradient(#3c3c3c 0px,#3c3c3c 18px,#444444 22px,#505050 25px,#606060 27px,#8b8b8b 31px,#8b8b8b 32px,#606060 37px,#585858 39px,#686868 69px,#747474 71px,#878787 72px,#ababab 73px,#e7e7e7 75px,#fbfbfb 76px)"></i><i style="left:407px;background:linear-gradient(#3c3c3c 0px,#3c3c3c 22px,#484848 26px,#6c6c6c 30px,#747474 32px,#585858 36px,#505050 38px,#505050 50px,#5c5c5c 69px,#686868 71px,#7c7c7c 72px,#a3a3a3 73px,#dfdfdf 75px,#f7f7f7 76px)"></i><i style="left:408px;background:linear-gradient(#3c3c3c 0px,#3c3c3c 26px,#444444 29px,#404040 50px,#4c4c4c 69px,#505050 70px,#5c5c5c 71px,#7c7c7c 72px,#a3a3a3 73px,#cbcbcb 75px,#efefef 76px)"></i><i style="left:409px;background:linear-gradient(#3c3c3c 0px,#3c3c3c 33px,#404040 34px,#444444 60px,#4c4c4c 69px,#505050 70px,#5c5c5c 71px,#7c7c7c 72px,#a3a3a3 73px,#cbcbcb 75px,#efefef 76px)"></i><i style="left:410px;width:3px;background:linear-gradient(#3c3c3c 0px,#3c3c3c 35px,#404040 36px,#444444 60px,#4c4c4c 69px,#505050 70px,#5c5c5c 71px,#7c7c7c 72px,#a3a3a3 73px,#cbcbcb 75px,#efefef 76px)"></i><i style="left:413px;background:linear-gradient(#3c3c3c 0px,#3c3c3c 35px,#404040 36px,#444444 60px,#4c4c4c 69px,#545454 71px,#6c6c6c 72px,#979797 73px,#cbcbcb 75px,#efefef 76px)"></i><i style="left:414px;width:3px;background:linear-gradient(#3c3c3c 0px,#3c3c3c 37px,#404040 38px,#404040 55px,#484848 69px,#545454 71px,#6c6c6c 72px,#979797 73px,#afafaf 74px,#ebebeb 76px)"></i><i style="left:417px;width:2px;background:linear-gradient(#3c3c3c 0px,#3c3c3c 28px,#404040 31px,#606060 41px,#787878 69px,#808080 71px,#939393 72px,#efefef 75px,#fbfbfb 76px)"></i><i style="left:419px;background:linear-gradient(#3c3c3c 0px,#3c3c3c 17px,#484848 22px,#545454 24px,#686868 30px,#787878 54px,#878787 69px,#939393 71px,#a3a3a3 72px,#bfbfbf 73px,#e3e3e3 74px,#f7f7f7 75px,#fbfbfb 76px)"></i></div>
<div class="sp" style="left:80px;top:153px;filter:url(#f1)"><i style="left:0px;width:3px;background:linear-gradient(#3c3c3c 0px,#404040 69px,#484848 71px,#585858 72px,#c7c7c7 75px,#dfdfdf 76px)"></i><i style="left:3px;background:linear-gradient(#979797 0px,#9f9f9f 1px,#afafaf 2px,#b7b7b7 4px,#c7c7c7 14px,#dbdbdb 39px,#e7e7e7 68px,#ebebeb 70px,#fbfbfb 73px,#fbfbfb 76px)"></i><i style="left:4px;width:19px;background:linear-gradient(#3c3c3c 0px,#404040 69px,#484848 71px,#585858 72px,#c7c7c7 75px,#dfdfdf 76px)"></i><i style="left:23px;background:linear-gradient(#3c3c3c 0px,#3c3c3c 2px,#484848 6px,#7c7c7c 16px,#939393 30px,#c7c7c7 69px,#d3d3d3 71px,#f7f7f7 73px,#fbfbfb 76px)"></i><i style="left:24px;background:linear-gradient(#404040 0px,#404040 1px,#4c4c4c 3px,#a3a3a3 13px,#afafaf 16px,#e3e3e3 64px,#ebebeb 69px,#fbfbfb 72px,#fbfbfb 76px)"></i><i style="left:25px;background:linear-gradient(#484848 0px,#4c4c4c 1px,#787878 6px,#ababab 13px,#e3e3e3 64px,#ebebeb 69px,#fbfbfb 72px,#fbfbfb 76px)"></i><i style="left:26px;background:linear-gradient(#545454 0px,#808080 6px,#9b9b9b 12px,#b3b3b3 37px,#dbdbdb 69px,#dfdfdf 70px,#fbfbfb 73px,#fbfbfb 76px)"></i><i style="left:27px;background:linear-gradient(#4c4c4c 0px,#545454 2px,#939393 10px,#9f9f9f 13px,#dbdbdb 66px,#ebebeb 71px,#fbfbfb 73px,#fbfbfb 76px)"></i><i style="left:28px;background:linear-gradient(#484848 0px,#9f9f9f 12px,#dfdfdf 67px,#e7e7e7 70px,#fbfbfb 73px,#fbfbfb 76px)"></i><i style="left:29px;background:linear-gradient(#484848 0px,#505050 2px,#8b8b8b 9px,#a3a3a3 13px,#dfdfdf 67px,#e7e7e7 70px,#fbfbfb 73px,#fbfbfb 76px)"></i><i style="left:30px;background:linear-gradient(#444444 0px,#4c4c4c 2px,#9f9f9f 12px,#ababab 15px,#dfdfdf 63px,#e7e7e7 68px,#fbfbfb 73px,#fbfbfb 76px)"></i><i style="left:31px;background:linear-gradient(#4c4c4c 0px,#4c4c4c 1px,#878787 9px,#979797 13px,#ababab 36px,#cfcfcf 66px,#dfdfdf 71px,#fbfbfb 73px,#fbfbfb 76px)"></i><i style="left:32px;background:linear-gradient(#3c3c3c 0px,#444444 3px,#808080 12px,#939393 17px,#a7a7a7 41px,#c7c7c7 67px,#cfcfcf 70px,#d7d7d7 71px,#f7f7f7 73px,#fbfbfb 76px)"></i><i style="left:33px;background:linear-gradient(#505050 0px,#585858 2px,#7c7c7c 7px,#8f8f8f 12px,#a7a7a7 40px,#c7c7c7 66px,#d7d7d7 71px,#f7f7f7 73px,#fbfbfb 76px)"></i><i style="left:34px;background:linear-gradient(#3c3c3c 0px,#4c4c4c 5px,#686868 9px,#878787 15px,#bfbfbf 66px,#cfcfcf 71px,#f3f3f3 73px,#fbfbfb 74px,#fbfbfb 76px)"></i><i style="left:35px;background:linear-gradient(#4c4c4c 0px,#4c4c4c 1px,#838383 10px,#8b8b8b 13px,#9f9f9f 38px,#c3c3c3 68px,#d3d3d3 71px,#f3f3f3 73px,#fbfbfb 74px,#fbfbfb 76px)"></i><i style="left:36px;background:linear-gradient(#4c4c4c 0px,#808080 9px,#878787 12px,#a3a3a3 43px,#c3c3c3 68px,#cfcfcf 71px,#f3f3f3 73px,#fbfbfb 74px,#fbfbfb 76px)"></i><i style="left:37px;background:linear-gradient(#3c3c3c 0px,#505050 5px,#7c7c7c 12px,#878787 15px,#9f9f9f 41px,#c3c3c3 67px,#c7c7c7 69px,#d3d3d3 71px,#f7f7f7 73px,#fbfbfb 76px)"></i><i style="left:38px;background:linear-gradient(#3c3c3c 0px,#4c4c4c 5px,#787878 12px,#878787 16px,#9b9b9b 39px,#c3c3c3 68px,#d3d3d3 71px,#f3f3f3 73px,#fbfbfb 74px,#fbfbfb 76px)"></i><i style="left:39px;background:linear-gradient(#484848 0px,#484848 1px,#686868 7px,#7c7c7c 13px,#808080 22px,#939393 41px,#bbbbbb 68px,#c7c7c7 71px,#efefef 73px,#fbfbfb 74px,#fbfbfb 76px)"></i><i style="left:40px;background:linear-gradient(#404040 0px,#484848 3px,#747474 10px,#878787 15px,#9b9b9b 38px,#c3c3c3 67px,#c7c7c7 69px,#d3d3d3 71px,#f7f7f7 73px,#fbfbfb 76px)"></i><i style="left:41px;background:linear-gradient(#505050 0px,#585858 2px,#8b8b8b 9px,#979797 12px,#ababab 36px,#cbcbcb 61px,#d7d7d7 68px,#e3e3e3 71px,#f3f3f3 72px,#fbfbfb 73px,#fbfbfb 76px)"></i><i style="left:42px;background:linear-gradient(#3c3c3c 0px,#3c3c3c 1px,#505050 6px,#646464 9px,#787878 15px,#a3a3a3 70px,#ababab 71px,#bbbbbb 72px,#f3f3f3 74px,#fbfbfb 75px,#fbfbfb 76px)"></i><i style="left:43px;background:linear-gradient(#3c3c3c 0px,#3c3c3c 1px,#747474 14px,#9b9b9b 68px,#a7a7a7 71px,#b7b7b7 72px,#d7d7d7 73px,#efefef 74px,#fbfbfb 75px,#fbfbfb 76px)"></i><i style="left:44px;background:linear-gradient(#3c3c3c 0px,#3c3c3c 3px,#484848 6px,#747474 12px,#838383 15px,#c7c7c7 68px,#d7d7d7 71px,#f7f7f7 73px,#fbfbfb 76px)"></i><i style="left:45px;background:linear-gradient(#3c3c3c 0px,#3c3c3c 4px,#484848 8px,#5c5c5c 12px,#686868 17px,#6c6c6c 23px,#a7a7a7 67px,#b7b7b7 71px,#c7c7c7 72px,#e7e7e7 73px,#fbfbfb 74px,#fbfbfb 76px)"></i><i style="left:46px;background:linear-gradient(#404040 0px,#4c4c4c 3px,#747474 9px,#838383 13px,#939393 30px,#c7c7c7 68px,#d7d7d7 71px,#f7f7f7 73px,#fbfbfb 76px)"></i><i style="left:47px;background:linear-gradient(#3c3c3c 0px,#3c3c3c 4px,#505050 9px,#646464 12px,#7c7c7c 19px,#878787 32px,#bbbbbb 68px,#c7c7c7 71px,#d7d7d7 72px,#efefef 73px,#fbfbfb 74px,#fbfbfb 76px)"></i><i style="left:48px;background:linear-gradient(#3c3c3c 0px,#3c3c3c 2px,#4c4c4c 6px,#7c7c7c 12px,#8b8b8b 15px,#cfcfcf 68px,#dfdfdf 71px,#fbfbfb 73px,#fbfbfb 76px)"></i><i style="left:49px;background:linear-gradient(#3c3c3c 0px,#3c3c3c 3px,#646464 15px,#6c6c6c 24px,#ababab 69px,#b7b7b7 71px,#c7c7c7 72px,#e7e7e7 73px,#fbfbfb 74px,#fbfbfb 76px)"></i><i style="left:50px;background:linear-gradient(#3c3c3c 0px,#3c3c3c 17px,#585858 27px,#707070 69px,#7c7c7c 71px,#8b8b8b 72px,#a7a7a7 73px,#ebebeb 75px,#fbfbfb 76px)"></i><i style="left:51px;background:linear-gradient(#3c3c3c 0px,#3c3c3c 17px,#5c5c5c 23px,#606060 25px,#7c7c7c 68px,#878787 71px,#979797 72px,#b3b3b3 73px,#d7d7d7 74px,#efefef 75px,#fbfbfb 76px)"></i><i style="left:52px;background:linear-gradient(#3c3c3c 0px,#3c3c3c 17px,#646464 24px,#808080 68px,#8b8b8b 71px,#9b9b9b 72px,#dbdbdb 74px,#f3f3f3 75px,#fbfbfb 76px)"></i><i style="left:53px;background:linear-gradient(#3c3c3c 0px,#3c3c3c 17px,#606060 24px,#7c7c7c 68px,#878787 71px,#979797 72px,#d7d7d7 74px,#efefef 75px,#fbfbfb 76px)"></i><i style="left:54px;background:linear-gradient(#3c3c3c 0px,#3c3c3c 17px,#5c5c5c 23px,#606060 25px,#787878 64px,#808080 70px,#878787 71px,#979797 72px,#b3b3b3 73px,#d7d7d7 74px,#efefef 75px,#fbfbfb 76px)"></i><i style="left:55px;width:16px;background:linear-gradient(#3c3c3c 0px,#404040 69px,#484848 71px,#585858 72px,#c7c7c7 75px,#dfdfdf 76px)"></i><i style="left:71px;width:9px;background:linear-gradient(#3c3c3c 0px,#3c3c3c 41px,#404040 42px,#444444 69px,#4c4c4c 71px,#5c5c5c 72px,#7c7c7c 73px,#c7c7c7 75px,#e3e3e3 76px)"></i><i style="left:80px;background:linear-gradient(#3c3c3c 0px,#3c3c3c 32px,#4c4c4c 41px,#585858 69px,#606060 71px,#707070 72px,#afafaf 74px,#d7d7d7 75px,#f3f3f3 76px)"></i><i style="left:81px;background:linear-gradient(#3c3c3c 0px,#3c3c3c 32px,#4c4c4c 40px,#585858 69px,#606060 71px,#707070 72px,#d7d7d7 75px,#f3f3f3 76px)"></i><i style="left:82px;background:linear-gradient(#3c3c3c 0px,#3c3c3c 32px,#4c4c4c 42px,#545454 68px,#606060 71px,#707070 72px,#8b8b8b 73px,#d7d7d7 75px,#f3f3f3 76px)"></i><i style="left:83px;width:4px;background:linear-gradient(#3c3c3c 0px,#3c3c3c 41px,#404040 42px,#444444 69px,#4c4c4c 71px,#5c5c5c 72px,#7c7c7c 73px,#c7c7c7 75px,#e3e3e3 76px)"></i><i style="left:87px;width:4px;background:linear-gradient(#3c3c3c 0px,#3c3c3c 41px,#404040 42px,#444444 69px,#4c4c4c 71px,#646464 72px,#ababab 74px,#e3e3e3 76px)"></i><i style="left:91px;background:linear-gradient(#3c3c3c 0px,#3c3c3c 37px,#404040 38px,#404040 55px,#484848 69px,#505050 71px,#646464 72px,#ababab 74px,#ebebeb 76px)"></i><i style="left:92px;background:linear-gradient(#3c3c3c 0px,#3c3c3c 30px,#585858 45px,#686868 69px,#707070 71px,#838383 72px,#9f9f9f 73px,#e7e7e7 75px,#fbfbfb 76px)"></i><i style="left:93px;background:linear-gradient(#3c3c3c 0px,#3c3c3c 37px,#404040 42px,#606060 55px,#686868 68px,#747474 71px,#838383 72px,#e7e7e7 75px,#fbfbfb 76px)"></i><i style="left:94px;background:linear-gradient(#3c3c3c 0px,#3c3c3c 32px,#606060 50px,#6c6c6c 69px,#787878 71px,#878787 72px,#a3a3a3 73px,#e7e7e7 75px,#fbfbfb 76px)"></i><i style="left:95px;background:linear-gradient(#3c3c3c 0px,#3c3c3c 35px,#5c5c5c 52px,#686868 69px,#747474 71px,#838383 72px,#9f9f9f 73px,#e7e7e7 75px,#fbfbfb 76px)"></i><i style="left:96px;background:linear-gradient(#3c3c3c 0px,#3c3c3c 33px,#585858 48px,#686868 69px,#707070 71px,#808080 72px,#e7e7e7 75px,#fbfbfb 76px)"></i><i style="left:97px;background:linear-gradient(#3c3c3c 0px,#3c3c3c 30px,#505050 43px,#585858 59px,#646464 70px,#6c6c6c 71px,#7c7c7c 72px,#bbbbbb 74px,#e3e3e3 75px,#fbfbfb 76px)"></i><i style="left:98px;background:linear-gradient(#3c3c3c 0px,#3c3c3c 33px,#585858 49px,#646464 68px,#707070 71px,#808080 72px,#e7e7e7 75px,#fbfbfb 76px)"></i><i style="left:99px;background:linear-gradient(#3c3c3c 0px,#3c3c3c 34px,#585858 51px,#646464 69px,#6c6c6c 71px,#808080 72px,#9b9b9b 73px,#e3e3e3 75px,#fbfbfb 76px)"></i><i style="left:100px;width:5px;background:linear-gradient(#3c3c3c 0px,#3c3c3c 37px,#404040 38px,#404040 55px,#484848 69px,#545454 71px,#6c6c6c 72px,#979797 73px,#afafaf 74px,#ebebeb 76px)"></i><i style="left:105px;width:3px;background:linear-gradient(#3c3c3c 0px,#3c3c3c 35px,#404040 36px,#444444 60px,#4c4c4c 69px,#545454 71px,#6c6c6c 72px,#979797 73px,#cbcbcb 75px,#efefef 76px)"></i><i style="left:108px;width:8px;background:linear-gradient(#3c3c3c 0px,#3c3c3c 35px,#404040 36px,#444444 60px,#4c4c4c 69px,#505050 70px,#5c5c5c 71px,#7c7c7c 72px,#a3a3a3 73px,#cbcbcb 75px,#efefef 76px)"></i><i style="left:116px;width:3px;background:linear-gradient(#3c3c3c 0px,#3c3c3c 35px,#404040 36px,#444444 60px,#4c4c4c 69px,#505050 70px,#646464 71px,#ababab 73px,#b7b7b7 74px,#cbcbcb 75px,#efefef 76px)"></i><i style="left:119px;width:6px;background:linear-gradient(#3c3c3c 0px,#3c3c3c 33px,#4c4c4c 68px,#545454 70px,#646464 71px,#ababab 73px,#b7b7b7 74px,#efefef 76px)"></i><i style="left:125px;width:15px;background:linear-gradient(#3c3c3c 0px,#3c3c3c 33px,#4c4c4c 68px,#545454 70px,#6c6c6c 71px,#979797 72px,#afafaf 73px,#b7b7b7 74px,#efefef 76px)"></i><i style="left:140px;width:5px;background:linear-gradient(#3c3c3c 0px,#3c3c3c 33px,#4c4c4c 68px,#545454 70px,#646464 71px,#ababab 73px,#b7b7b7 74px,#efefef 76px)"></i><i style="left:145px;background:linear-gradient(#3c3c3c 0px,#3c3c3c 33px,#404040 34px,#444444 56px,#4c4c4c 63px,#646464 69px,#747474 71px,#8b8b8b 72px,#ebebeb 75px,#fbfbfb 76px)"></i><i style="left:146px;width:3px;background:linear-gradient(#3c3c3c 0px,#3c3c3c 33px,#4c4c4c 68px,#545454 70px,#646464 71px,#ababab 73px,#b7b7b7 74px,#efefef 76px)"></i><i style="left:149px;width:3px;background:linear-gradient(#3c3c3c 0px,#3c3c3c 33px,#4c4c4c 68px,#5c5c5c 71px,#7c7c7c 72px,#a3a3a3 73px,#b7b7b7 74px,#efefef 76px)"></i><i style="left:152px;width:4px;background:linear-gradient(#3c3c3c 0px,#3c3c3c 35px,#404040 36px,#444444 60px,#4c4c4c 69px,#505050 70px,#5c5c5c 71px,#7c7c7c 72px,#a3a3a3 73px,#cbcbcb 75px,#efefef 76px)"></i><i style="left:156px;background:linear-gradient(#3c3c3c 0px,#404040 46px,#484848 49px,#6c6c6c 57px,#747474 61px,#787878 68px,#838383 71px,#979797 72px,#b3b3b3 73px,#d7d7d7 74px,#efefef 75px,#fbfbfb 76px)"></i><i style="left:157px;width:2px;background:linear-gradient(#3c3c3c 0px,#3c3c3c 35px,#404040 36px,#444444 60px,#4c4c4c 69px,#545454 71px,#6c6c6c 72px,#979797 73px,#cbcbcb 75px,#efefef 76px)"></i><i style="left:159px;background:linear-gradient(#3c3c3c 0px,#3c3c3c 25px,#545454 38px,#585858 51px,#686868 69px,#747474 71px,#838383 72px,#9f9f9f 73px,#e7e7e7 75px,#fbfbfb 76px)"></i><i style="left:160px;background:linear-gradient(#3c3c3c 0px,#3c3c3c 34px,#404040 38px,#606060 48px,#707070 68px,#7c7c7c 71px,#8b8b8b 72px,#cfcfcf 74px,#ebebeb 75px,#fbfbfb 76px)"></i><i style="left:161px;width:4px;background:linear-gradient(#3c3c3c 0px,#3c3c3c 35px,#404040 36px,#444444 60px,#4c4c4c 69px,#545454 71px,#6c6c6c 72px,#979797 73px,#cbcbcb 75px,#efefef 76px)"></i><i style="left:165px;width:3px;background:linear-gradient(#3c3c3c 0px,#3c3c3c 35px,#404040 36px,#444444 60px,#4c4c4c 69px,#545454 71px,#686868 72px,#efefef 76px)"></i><i style="left:168px;background:linear-gradient(#3c3c3c 0px,#3c3c3c 37px,#404040 38px,#444444 58px,#5c5c5c 63px,#979797 71px,#ababab 72px,#c7c7c7 73px,#ebebeb 74px,#fbfbfb 75px,#fbfbfb 76px)"></i><i style="left:169px;background:linear-gradient(#3c3c3c 0px,#3c3c3c 37px,#404040 38px,#404040 55px,#484848 64px,#606060 69px,#747474 71px,#878787 72px,#efefef 75px,#fbfbfb 76px)"></i><i style="left:170px;width:7px;background:linear-gradient(#3c3c3c 0px,#3c3c3c 37px,#404040 38px,#404040 55px,#484848 69px,#505050 71px,#646464 72px,#ababab 74px,#ebebeb 76px)"></i><i style="left:177px;background:linear-gradient(#3c3c3c 0px,#3c3c3c 37px,#404040 38px,#404040 55px,#484848 64px,#5c5c5c 69px,#6c6c6c 71px,#808080 72px,#e7e7e7 75px,#fbfbfb 76px)"></i><i style="left:178px;width:6px;background:linear-gradient(#3c3c3c 0px,#3c3c3c 37px,#404040 38px,#404040 55px,#484848 69px,#505050 71px,#606060 72px,#ebebeb 76px)"></i><i style="left:184px;background:linear-gradient(#3c3c3c 0px,#404040 48px,#606060 61px,#646464 69px,#707070 71px,#808080 72px,#9b9b9b 73px,#e3e3e3 75px,#fbfbfb 76px)"></i><i style="left:185px;width:4px;background:linear-gradient(#3c3c3c 0px,#3c3c3c 37px,#404040 38px,#404040 55px,#484848 69px,#505050 71px,#606060 72px,#ebebeb 76px)"></i><i style="left:189px;background:linear-gradient(#3c3c3c 0px,#3c3c3c 37px,#404040 38px,#404040 55px,#484848 67px,#505050 69px,#606060 71px,#747474 72px,#e3e3e3 75px,#fbfbfb 76px)"></i><i style="left:190px;width:3px;background:linear-gradient(#3c3c3c 0px,#3c3c3c 37px,#404040 38px,#404040 55px,#484848 69px,#505050 71px,#606060 72px,#ebebeb 76px)"></i><i style="left:193px;background:linear-gradient(#3c3c3c 0px,#3c3c3c 37px,#404040 38px,#404040 55px,#484848 67px,#505050 69px,#606060 71px,#747474 72px,#e3e3e3 75px,#fbfbfb 76px)"></i><i style="left:194px;width:10px;background:linear-gradient(#3c3c3c 0px,#3c3c3c 37px,#404040 38px,#404040 55px,#484848 69px,#505050 71px,#606060 72px,#ebebeb 76px)"></i><i style="left:204px;background:linear-gradient(#3c3c3c 0px,#3c3c3c 37px,#484848 44px,#6c6c6c 54px,#787878 69px,#808080 71px,#939393 72px,#efefef 75px,#fbfbfb 76px)"></i><i style="left:205px;background:linear-gradient(#3c3c3c 0px,#3c3c3c 22px,#4c4c4c 29px,#707070 38px,#787878 42px,#939393 68px,#9f9f9f 71px,#b3b3b3 72px,#efefef 74px,#fbfbfb 75px,#fbfbfb 76px)"></i><i style="left:206px;background:linear-gradient(#3c3c3c 0px,#3c3c3c 22px,#444444 26px,#787878 40px,#979797 68px,#a3a3a3 71px,#b3b3b3 72px,#efefef 74px,#fbfbfb 75px,#fbfbfb 76px)"></i><i style="left:207px;background:linear-gradient(#3c3c3c 0px,#3c3c3c 22px,#505050 30px,#787878 41px,#979797 69px,#a3a3a3 71px,#b3b3b3 72px,#efefef 74px,#fbfbfb 75px,#fbfbfb 76px)"></i><i style="left:208px;background:linear-gradient(#3c3c3c 0px,#3c3c3c 37px,#484848 44px,#6c6c6c 54px,#787878 69px,#808080 71px,#939393 72px,#efefef 75px,#fbfbfb 76px)"></i><i style="left:209px;width:4px;background:linear-gradient(#3c3c3c 0px,#3c3c3c 37px,#404040 38px,#404040 55px,#484848 69px,#505050 71px,#606060 72px,#ebebeb 76px)"></i><i style="left:213px;background:linear-gradient(#3c3c3c 0px,#3c3c3c 25px,#585858 37px,#6c6c6c 68px,#787878 71px,#878787 72px,#ebebeb 75px,#fbfbfb 76px)"></i><i style="left:214px;background:linear-gradient(#3c3c3c 0px,#3c3c3c 37px,#404040 38px,#404040 55px,#484848 69px,#505050 71px,#606060 72px,#ebebeb 76px)"></i><i style="left:215px;width:3px;background:linear-gradient(#3c3c3c 0px,#3c3c3c 35px,#404040 36px,#444444 60px,#4c4c4c 69px,#545454 71px,#646464 72px,#efefef 76px)"></i><i style="left:218px;background:linear-gradient(#3c3c3c 0px,#3c3c3c 28px,#707070 42px,#878787 68px,#979797 71px,#a7a7a7 72px,#c3c3c3 73px,#e7e7e7 74px,#fbfbfb 75px,#fbfbfb 76px)"></i><i style="left:219px;background:linear-gradient(#3c3c3c 0px,#3c3c3c 16px,#5c5c5c 23px,#747474 30px,#878787 54px,#9b9b9b 69px,#a7a7a7 71px,#b7b7b7 72px,#d7d7d7 73px,#efefef 74px,#fbfbfb 75px,#fbfbfb 76px)"></i><i style="left:220px;background:linear-gradient(#3c3c3c 0px,#3c3c3c 5px,#484848 8px,#6c6c6c 13px,#787878 16px,#939393 45px,#b3b3b3 69px,#bfbfbf 71px,#cfcfcf 72px,#ebebeb 73px,#fbfbfb 74px,#fbfbfb 76px)"></i><i style="left:221px;background:linear-gradient(#404040 0px,#545454 3px,#6c6c6c 5px,#7c7c7c 7px,#838383 9px,#afafaf 48px,#cbcbcb 68px,#dbdbdb 71px,#f7f7f7 73px,#fbfbfb 76px)"></i><i style="left:222px;background:linear-gradient(#404040 0px,#444444 1px,#747474 6px,#808080 8px,#c3c3c3 66px,#d3d3d3 71px,#f7f7f7 73px,#fbfbfb 76px)"></i><i style="left:223px;background:linear-gradient(#3c3c3c 0px,#3c3c3c 11px,#505050 16px,#747474 22px,#7c7c7c 25px,#a7a7a7 69px,#b3b3b3 71px,#c3c3c3 72px,#e3e3e3 73px,#f7f7f7 74px,#fbfbfb 76px)"></i><i style="left:224px;background:linear-gradient(#3c3c3c 0px,#3c3c3c 28px,#707070 42px,#878787 69px,#939393 71px,#a3a3a3 72px,#bfbfbf 73px,#e3e3e3 74px,#f7f7f7 75px,#fbfbfb 76px)"></i><i style="left:225px;width:2px;background:linear-gradient(#3c3c3c 0px,#3c3c3c 37px,#404040 38px,#404040 55px,#484848 69px,#505050 71px,#606060 72px,#ebebeb 76px)"></i><i style="left:227px;background:linear-gradient(#3c3c3c 0px,#3c3c3c 25px,#6c6c6c 38px,#878787 69px,#939393 71px,#a3a3a3 72px,#bfbfbf 73px,#e3e3e3 74px,#f7f7f7 75px,#fbfbfb 76px)"></i><i style="left:228px;background:linear-gradient(#3c3c3c 0px,#404040 5px,#4c4c4c 7px,#787878 12px,#838383 16px,#9f9f9f 44px,#bfbfbf 69px,#cbcbcb 71px,#dbdbdb 72px,#f3f3f3 73px,#fbfbfb 74px,#fbfbfb 76px)"></i><i style="left:229px;background:linear-gradient(#3c3c3c 0px,#404040 5px,#4c4c4c 7px,#707070 11px,#808080 14px,#bbbbbb 68px,#cbcbcb 71px,#efefef 73px,#fbfbfb 74px,#fbfbfb 76px)"></i><i style="left:230px;background:linear-gradient(#3c3c3c 0px,#3c3c3c 17px,#404040 19px,#646464 26px,#747474 31px,#979797 69px,#a3a3a3 71px,#b3b3b3 72px,#efefef 74px,#fbfbfb 75px,#fbfbfb 76px)"></i><i style="left:231px;width:10px;background:linear-gradient(#3c3c3c 0px,#3c3c3c 37px,#404040 38px,#404040 55px,#484848 69px,#505050 71px,#606060 72px,#ebebeb 76px)"></i><i style="left:241px;background:linear-gradient(#545454 0px,#646464 52px,#707070 70px,#787878 71px,#878787 72px,#a3a3a3 73px,#e7e7e7 75px,#fbfbfb 76px)"></i><i style="left:242px;background:linear-gradient(#b3b3b3 0px,#b7b7b7 1px,#c3c3c3 2px,#d3d3d3 14px,#ebebeb 68px,#fbfbfb 72px,#fbfbfb 76px)"></i><i style="left:243px;background:linear-gradient(#3c3c3c 0px,#3c3c3c 2px,#484848 4px,#808080 10px,#8b8b8b 13px,#dbdbdb 64px,#e3e3e3 68px,#fbfbfb 73px,#fbfbfb 76px)"></i><i style="left:244px;background:linear-gradient(#3c3c3c 0px,#3c3c3c 2px,#444444 4px,#787878 11px,#dbdbdb 69px,#e7e7e7 71px,#fbfbfb 73px,#fbfbfb 76px)"></i><i style="left:245px;background:linear-gradient(#3c3c3c 0px,#3c3c3c 2px,#444444 4px,#747474 11px,#d7d7d7 67px,#e7e7e7 71px,#fbfbfb 73px,#fbfbfb 76px)"></i><i style="left:246px;background:linear-gradient(#4c4c4c 0px,#4c4c4c 11px,#585858 21px,#787878 39px,#a7a7a7 61px,#bbbbbb 69px,#cbcbcb 71px,#efefef 73px,#fbfbfb 74px,#fbfbfb 76px)"></i><i style="left:247px;background:linear-gradient(#3c3c3c 0px,#3c3c3c 18px,#444444 28px,#646464 49px,#8b8b8b 67px,#9f9f9f 71px,#b3b3b3 72px,#efefef 74px,#fbfbfb 75px,#fbfbfb 76px)"></i><i style="left:248px;background:linear-gradient(#3c3c3c 0px,#3c3c3c 20px,#444444 30px,#606060 48px,#878787 66px,#9f9f9f 71px,#b3b3b3 72px,#efefef 74px,#fbfbfb 75px,#fbfbfb 76px)"></i><i style="left:249px;background:linear-gradient(#3c3c3c 0px,#3c3c3c 14px,#444444 31px,#606060 49px,#808080 63px,#878787 66px,#9f9f9f 71px,#b3b3b3 72px,#efefef 74px,#fbfbfb 75px,#fbfbfb 76px)"></i><i style="left:250px;background:linear-gradient(#404040 0px,#404040 28px,#505050 41px,#787878 60px,#878787 66px,#9f9f9f 71px,#b3b3b3 72px,#efefef 74px,#fbfbfb 75px,#fbfbfb 76px)"></i><i style="left:251px;background:linear-gradient(#3c3c3c 0px,#404040 32px,#4c4c4c 41px,#747474 60px,#878787 67px,#9b9b9b 71px,#afafaf 72px,#efefef 74px,#fbfbfb 75px,#fbfbfb 76px)"></i><i style="left:252px;background:linear-gradient(#3c3c3c 0px,#3c3c3c 5px,#545454 15px,#646464 33px,#838383 56px,#9b9b9b 69px,#a7a7a7 71px,#bbbbbb 72px,#f3f3f3 74px,#fbfbfb 75px,#fbfbfb 76px)"></i><i style="left:253px;background:linear-gradient(#3c3c3c 0px,#3c3c3c 6px,#545454 16px,#686868 38px,#979797 68px,#a7a7a7 71px,#b7b7b7 72px,#f3f3f3 74px,#fbfbfb 75px,#fbfbfb 76px)"></i><i style="left:254px;background:linear-gradient(#3c3c3c 0px,#3c3c3c 7px,#505050 18px,#5c5c5c 33px,#7c7c7c 56px,#939393 69px,#9f9f9f 71px,#b3b3b3 72px,#efefef 74px,#fbfbfb 75px,#fbfbfb 76px)"></i><i style="left:255px;background:linear-gradient(#3c3c3c 0px,#3c3c3c 6px,#545454 17px,#545454 21px,#686868 39px,#939393 67px,#a3a3a3 71px,#b7b7b7 72px,#d7d7d7 73px,#efefef 74px,#fbfbfb 75px,#fbfbfb 76px)"></i><i style="left:256px;background:linear-gradient(#3c3c3c 0px,#3c3c3c 6px,#505050 15px,#606060 33px,#808080 56px,#979797 69px,#a3a3a3 71px,#b7b7b7 72px,#efefef 74px,#fbfbfb 75px,#fbfbfb 76px)"></i><i style="left:257px;background:linear-gradient(#3c3c3c 0px,#3c3c3c 6px,#545454 16px,#606060 31px,#7c7c7c 52px,#979797 68px,#a7a7a7 71px,#b7b7b7 72px,#f3f3f3 74px,#fbfbfb 75px,#fbfbfb 76px)"></i><i style="left:258px;width:3px;background:linear-gradient(#3c3c3c 0px,#404040 44px,#4c4c4c 50px,#707070 63px,#808080 68px,#8b8b8b 70px,#939393 71px,#a7a7a7 72px,#ebebeb 74px,#fbfbfb 75px,#fbfbfb 76px)"></i><i style="left:261px;background:linear-gradient(#979797 0px,#a3a3a3 1px,#b7b7b7 2px,#cbcbcb 10px,#dfdfdf 34px,#ebebeb 67px,#fbfbfb 72px,#fbfbfb 76px)"></i><i style="left:262px;background:linear-gradient(#8f8f8f 0px,#ababab 2px,#b3b3b3 3px,#bfbfbf 8px,#d3d3d3 29px,#e3e3e3 68px,#fbfbfb 73px,#fbfbfb 76px)"></i><i style="left:263px;background:linear-gradient(#8b8b8b 0px,#979797 1px,#ababab 2px,#bfbfbf 10px,#cfcfcf 27px,#dfdfdf 57px,#dfdfdf 66px,#e3e3e3 69px,#ebebeb 71px,#fbfbfb 73px,#fbfbfb 76px)"></i><i style="left:264px;background:linear-gradient(#939393 0px,#b3b3b3 2px,#c3c3c3 7px,#d7d7d7 26px,#ebebeb 69px,#fbfbfb 73px,#fbfbfb 76px)"></i><i style="left:265px;background:linear-gradient(#707070 0px,#808080 12px,#b3b3b3 68px,#b7b7b7 70px,#bfbfbf 71px,#cfcfcf 72px,#ebebeb 73px,#fbfbfb 74px,#fbfbfb 76px)"></i><i style="left:266px;background:linear-gradient(#787878 0px,#9f9f9f 37px,#b7b7b7 67px,#bbbbbb 69px,#c7c7c7 71px,#d7d7d7 72px,#efefef 73px,#fbfbfb 74px,#fbfbfb 76px)"></i><i style="left:267px;width:2px;background:linear-gradient(#b3b3b3 0px,#b7b7b7 1px,#c3c3c3 2px,#d3d3d3 14px,#e3e3e3 47px,#e7e7e7 68px,#fbfbfb 73px,#fbfbfb 76px)"></i><i style="left:269px;background:linear-gradient(#3c3c3c 0px,#3c3c3c 36px,#505050 47px,#747474 59px,#9b9b9b 69px,#ababab 71px,#bfbfbf 72px,#e3e3e3 73px,#f7f7f7 74px,#fbfbfb 76px)"></i><i style="left:270px;background:linear-gradient(#3c3c3c 0px,#3c3c3c 43px,#444444 48px,#585858 55px,#808080 65px,#9b9b9b 70px,#a7a7a7 71px,#bbbbbb 72px,#dfdfdf 73px,#f7f7f7 74px,#fbfbfb 76px)"></i><i style="left:271px;width:2px;background:linear-gradient(#3c3c3c 0px,#404040 53px,#505050 58px,#6c6c6c 64px,#939393 70px,#9f9f9f 71px,#b3b3b3 72px,#d7d7d7 73px,#f3f3f3 74px,#fbfbfb 75px,#fbfbfb 76px)"></i><i style="left:273px;background:linear-gradient(#3c3c3c 0px,#3c3c3c 44px,#484848 51px,#545454 55px,#8b8b8b 68px,#a7a7a7 71px,#bbbbbb 72px,#dfdfdf 73px,#f7f7f7 74px,#fbfbfb 76px)"></i><i style="left:274px;background:linear-gradient(#3c3c3c 0px,#3c3c3c 39px,#4c4c4c 48px,#646464 56px,#9f9f9f 70px,#ababab 71px,#bfbfbf 72px,#dfdfdf 73px,#f7f7f7 74px,#fbfbfb 76px)"></i><i style="left:275px;background:linear-gradient(#7c7c7c 0px,#939393 4px,#afafaf 17px,#cfcfcf 43px,#e3e3e3 68px,#fbfbfb 73px,#fbfbfb 76px)"></i><i style="left:276px;background:linear-gradient(#686868 0px,#787878 26px,#ababab 63px,#b7b7b7 69px,#c3c3c3 71px,#efefef 73px,#fbfbfb 74px,#fbfbfb 76px)"></i><i style="left:277px;background:linear-gradient(#707070 0px,#747474 13px,#808080 27px,#b7b7b7 66px,#c3c3c3 70px,#cbcbcb 71px,#dbdbdb 72px,#f3f3f3 73px,#fbfbfb 74px,#fbfbfb 76px)"></i><i style="left:278px;background:linear-gradient(#707070 0px,#707070 7px,#808080 27px,#9b9b9b 49px,#b7b7b7 66px,#c3c3c3 70px,#cbcbcb 71px,#dbdbdb 72px,#f3f3f3 73px,#fbfbfb 74px,#fbfbfb 76px)"></i><i style="left:279px;background:linear-gradient(#646464 0px,#747474 26px,#a7a7a7 63px,#b3b3b3 69px,#bfbfbf 71px,#ebebeb 73px,#fbfbfb 74px,#fbfbfb 76px)"></i><i style="left:280px;background:linear-gradient(#6c6c6c 0px,#808080 29px,#b7b7b7 67px,#c7c7c7 71px,#efefef 73px,#fbfbfb 74px,#fbfbfb 76px)"></i><i style="left:281px;background:linear-gradient(#6c6c6c 0px,#838383 2px,#979797 7px,#b3b3b3 20px,#dbdbdb 52px,#e7e7e7 68px,#fbfbfb 73px,#fbfbfb 76px)"></i><i style="left:282px;background:linear-gradient(#646464 0px,#6c6c6c 1px,#7c7c7c 2px,#979797 10px,#bbbbbb 31px,#d7d7d7 56px,#dfdfdf 68px,#ebebeb 71px,#fbfbfb 73px,#fbfbfb 76px)"></i><i style="left:283px;background:linear-gradient(#6c6c6c 0px,#808080 2px,#8f8f8f 5px,#afafaf 19px,#cfcfcf 43px,#e7e7e7 69px,#fbfbfb 73px,#fbfbfb 76px)"></i><i style="left:284px;width:2px;background:linear-gradient(#585858 0px,#5c5c5c 1px,#686868 2px,#808080 8px,#8f8f8f 14px,#bbbbbb 38px,#dfdfdf 67px,#e7e7e7 70px,#fbfbfb 73px,#fbfbfb 76px)"></i><i style="left:286px;background:linear-gradient(#686868 0px,#787878 5px,#979797 21px,#dbdbdb 66px,#ebebeb 71px,#f7f7f7 72px,#fbfbfb 73px,#fbfbfb 76px)"></i><i style="left:287px;background:linear-gradient(#3c3c3c 0px,#3c3c3c 45px,#707070 61px,#808080 68px,#8f8f8f 71px,#a3a3a3 72px,#e7e7e7 74px,#fbfbfb 75px,#fbfbfb 76px)"></i><i style="left:288px;background:linear-gradient(#3c3c3c 0px,#3c3c3c 45px,#545454 53px,#707070 67px,#838383 71px,#939393 72px,#d7d7d7 74px,#f3f3f3 75px,#fbfbfb 76px)"></i><i style="left:289px;background:linear-gradient(#3c3c3c 0px,#3c3c3c 45px,#585858 58px,#686868 69px,#747474 71px,#838383 72px,#e7e7e7 75px,#fbfbfb 76px)"></i><i style="left:290px;width:21px;background:linear-gradient(#3c3c3c 0px,#404040 69px,#484848 71px,#585858 72px,#c7c7c7 75px,#dfdfdf 76px)"></i><i style="left:311px;background:linear-gradient(#bbbbbb 0px,#cbcbcb 3px,#d3d3d3 9px,#e3e3e3 43px,#e7e7e7 68px,#fbfbfb 73px,#fbfbfb 76px)"></i><i style="left:312px;background:linear-gradient(#3c3c3c 0px,#3c3c3c 47px,#404040 54px,#505050 59px,#585858 64px,#707070 71px,#838383 72px,#e7e7e7 75px,#fbfbfb 76px)"></i><i style="left:313px;background:linear-gradient(#3c3c3c 0px,#3c3c3c 47px,#404040 51px,#606060 62px,#686868 67px,#747474 70px,#7c7c7c 71px,#8b8b8b 72px,#efefef 75px,#fbfbfb 76px)"></i><i style="left:314px;background:linear-gradient(#3c3c3c 0px,#3c3c3c 47px,#545454 54px,#787878 69px,#878787 71px,#979797 72px,#dbdbdb 74px,#f3f3f3 75px,#fbfbfb 76px)"></i><i style="left:315px;background:linear-gradient(#3c3c3c 0px,#3c3c3c 44px,#404040 46px,#545454 51px,#7c7c7c 67px,#878787 70px,#8f8f8f 71px,#a3a3a3 72px,#e7e7e7 74px,#f7f7f7 75px,#fbfbfb 76px)"></i><i style="left:316px;background:linear-gradient(#3c3c3c 0px,#3c3c3c 41px,#404040 43px,#6c6c6c 56px,#8b8b8b 69px,#9b9b9b 71px,#ababab 72px,#ebebeb 74px,#fbfbfb 75px,#fbfbfb 76px)"></i><i style="left:317px;background:linear-gradient(#878787 0px,#8f8f8f 1px,#9f9f9f 2px,#b3b3b3 7px,#c3c3c3 16px,#e3e3e3 50px,#ebebeb 68px,#fbfbfb 72px,#fbfbfb 76px)"></i><i style="left:318px;background:linear-gradient(#838383 0px,#a3a3a3 3px,#bbbbbb 13px,#d3d3d3 34px,#e7e7e7 61px,#e7e7e7 67px,#fbfbfb 73px,#fbfbfb 76px)"></i><i style="left:319px;background:linear-gradient(#787878 0px,#939393 2px,#ababab 9px,#cbcbcb 35px,#dfdfdf 68px,#ebebeb 71px,#fbfbfb 73px,#fbfbfb 76px)"></i><i style="left:320px;background:linear-gradient(#747474 0px,#9f9f9f 2px,#bbbbbb 11px,#d7d7d7 38px,#e7e7e7 69px,#fbfbfb 73px,#fbfbfb 76px)"></i><i style="left:321px;background:linear-gradient(#747474 0px,#9b9b9b 2px,#a3a3a3 3px,#afafaf 6px,#bfbfbf 14px,#d7d7d7 39px,#e3e3e3 65px,#e7e7e7 69px,#fbfbfb 73px,#fbfbfb 76px)"></i><i style="left:322px;background:linear-gradient(#6c6c6c 0px,#939393 2px,#9b9b9b 3px,#a7a7a7 6px,#b7b7b7 14px,#cfcfcf 39px,#dfdfdf 69px,#fbfbfb 73px,#fbfbfb 76px)"></i><i style="left:323px;background:linear-gradient(#7c7c7c 0px,#a7a7a7 2px,#bbbbbb 7px,#c3c3c3 11px,#dbdbdb 32px,#ebebeb 56px,#ebebeb 63px,#efefef 68px,#fbfbfb 72px,#fbfbfb 76px)"></i><i style="left:324px;background:linear-gradient(#787878 0px,#787878 7px,#878787 22px,#b7b7b7 53px,#d7d7d7 69px,#e3e3e3 71px,#f3f3f3 72px,#fbfbfb 73px,#fbfbfb 76px)"></i><i style="left:325px;background:linear-gradient(#707070 0px,#707070 6px,#7c7c7c 18px,#8f8f8f 33px,#bfbfbf 61px,#cbcbcb 67px,#d7d7d7 70px,#dfdfdf 71px,#fbfbfb 73px,#fbfbfb 76px)"></i><i style="left:326px;background:linear-gradient(#585858 0px,#7c7c7c 24px,#ababab 69px,#b7b7b7 71px,#c7c7c7 72px,#e3e3e3 73px,#f7f7f7 74px,#fbfbfb 76px)"></i><i style="left:327px;background:linear-gradient(#585858 0px,#747474 19px,#a7a7a7 68px,#b3b3b3 71px,#c3c3c3 72px,#e3e3e3 73px,#f7f7f7 74px,#fbfbfb 76px)"></i><i style="left:328px;background:linear-gradient(#545454 0px,#707070 17px,#a7a7a7 69px,#b3b3b3 71px,#c3c3c3 72px,#e3e3e3 73px,#f7f7f7 74px,#fbfbfb 76px)"></i><i style="left:329px;background:linear-gradient(#404040 0px,#505050 11px,#808080 69px,#8b8b8b 71px,#9b9b9b 72px,#b7b7b7 73px,#dbdbdb 74px,#f3f3f3 75px,#fbfbfb 76px)"></i><i style="left:330px;background:linear-gradient(#585858 0px,#9b9b9b 70px,#a3a3a3 71px,#b3b3b3 72px,#efefef 74px,#fbfbfb 75px,#fbfbfb 76px)"></i><i style="left:331px;background:linear-gradient(#585858 0px,#747474 25px,#979797 68px,#a3a3a3 71px,#b3b3b3 72px,#efefef 74px,#fbfbfb 75px,#fbfbfb 76px)"></i><i style="left:332px;width:3px;background:linear-gradient(#3c3c3c 0px,#3c3c3c 47px,#505050 53px,#707070 68px,#787878 70px,#808080 71px,#8f8f8f 72px,#d3d3d3 74px,#efefef 75px,#fbfbfb 76px)"></i><i style="left:335px;width:4px;background:linear-gradient(#3c3c3c 0px,#404040 69px,#484848 71px,#585858 72px,#c7c7c7 75px,#dfdfdf 76px)"></i><i style="left:339px;background:linear-gradient(#3c3c3c 0px,#3c3c3c 22px,#545454 34px,#5c5c5c 68px,#686868 71px,#787878 72px,#939393 73px,#dfdfdf 75px,#f7f7f7 76px)"></i><i style="left:340px;background:linear-gradient(#3c3c3c 0px,#3c3c3c 41px,#404040 42px,#444444 69px,#4c4c4c 71px,#5c5c5c 72px,#7c7c7c 73px,#c7c7c7 75px,#e3e3e3 76px)"></i><i style="left:341px;background:linear-gradient(#3c3c3c 0px,#3c3c3c 18px,#5c5c5c 31px,#6c6c6c 68px,#787878 71px,#878787 72px,#e7e7e7 75px,#fbfbfb 76px)"></i><i style="left:342px;width:3px;background:linear-gradient(#3c3c3c 0px,#3c3c3c 41px,#404040 42px,#444444 69px,#4c4c4c 71px,#5c5c5c 72px,#7c7c7c 73px,#c7c7c7 75px,#e3e3e3 76px)"></i><i style="left:345px;width:2px;background:linear-gradient(#3c3c3c 0px,#3c3c3c 41px,#404040 42px,#444444 69px,#4c4c4c 71px,#646464 72px,#ababab 74px,#e3e3e3 76px)"></i><i style="left:347px;background:linear-gradient(#3c3c3c 0px,#3c3c3c 3px,#5c5c5c 16px,#787878 68px,#838383 71px,#939393 72px,#d7d7d7 74px,#efefef 75px,#fbfbfb 76px)"></i><i style="left:348px;background:linear-gradient(#3c3c3c 0px,#3c3c3c 12px,#4c4c4c 21px,#585858 62px,#606060 70px,#686868 71px,#787878 72px,#939393 73px,#dfdfdf 75px,#f7f7f7 76px)"></i><i style="left:349px;width:3px;background:linear-gradient(#3c3c3c 0px,#3c3c3c 41px,#404040 42px,#444444 69px,#4c4c4c 71px,#646464 72px,#ababab 74px,#e3e3e3 76px)"></i><i style="left:352px;background:linear-gradient(#3c3c3c 0px,#3c3c3c 3px,#5c5c5c 16px,#787878 68px,#838383 71px,#939393 72px,#d7d7d7 74px,#efefef 75px,#fbfbfb 76px)"></i><i style="left:353px;background:linear-gradient(#3c3c3c 0px,#404040 3px,#606060 11px,#686868 16px,#8f8f8f 69px,#9b9b9b 71px,#ababab 72px,#c7c7c7 73px,#ebebeb 74px,#fbfbfb 75px,#fbfbfb 76px)"></i><i style="left:354px;background:linear-gradient(#3c3c3c 0px,#3c3c3c 11px,#545454 25px,#545454 35px,#686868 70px,#707070 71px,#808080 72px,#9b9b9b 73px,#e3e3e3 75px,#fbfbfb 76px)"></i><i style="left:355px;background:linear-gradient(#3c3c3c 0px,#3c3c3c 41px,#404040 42px,#444444 69px,#4c4c4c 71px,#646464 72px,#ababab 74px,#e3e3e3 76px)"></i><i style="left:356px;background:linear-gradient(#3c3c3c 0px,#3c3c3c 37px,#404040 38px,#404040 55px,#484848 69px,#505050 71px,#646464 72px,#ababab 74px,#ebebeb 76px)"></i><i style="left:357px;width:7px;background:linear-gradient(#3c3c3c 0px,#3c3c3c 37px,#404040 38px,#404040 55px,#484848 69px,#545454 71px,#6c6c6c 72px,#979797 73px,#afafaf 74px,#ebebeb 76px)"></i><i style="left:364px;width:3px;background:linear-gradient(#3c3c3c 0px,#3c3c3c 37px,#404040 38px,#404040 55px,#484848 69px,#4c4c4c 70px,#5c5c5c 71px,#7c7c7c 72px,#a3a3a3 73px,#cbcbcb 75px,#ebebeb 76px)"></i><i style="left:367px;background:linear-gradient(#3c3c3c 0px,#3c3c3c 35px,#404040 43px,#505050 55px,#545454 68px,#606060 71px,#7c7c7c 72px,#a3a3a3 73px,#f3f3f3 76px)"></i><i style="left:368px;width:2px;background:linear-gradient(#3c3c3c 0px,#3c3c3c 35px,#404040 36px,#444444 60px,#4c4c4c 69px,#505050 70px,#5c5c5c 71px,#7c7c7c 72px,#a3a3a3 73px,#cbcbcb 75px,#efefef 76px)"></i><i style="left:370px;width:7px;background:linear-gradient(#3c3c3c 0px,#3c3c3c 35px,#404040 36px,#444444 60px,#4c4c4c 69px,#505050 70px,#646464 71px,#ababab 73px,#b7b7b7 74px,#cbcbcb 75px,#efefef 76px)"></i><i style="left:377px;background:linear-gradient(#3c3c3c 0px,#3c3c3c 35px,#404040 36px,#444444 60px,#4c4c4c 69px,#545454 70px,#6c6c6c 71px,#979797 72px,#afafaf 73px,#b7b7b7 74px,#cbcbcb 75px,#efefef 76px)"></i><i style="left:378px;width:2px;background:linear-gradient(#3c3c3c 0px,#3c3c3c 33px,#4c4c4c 68px,#545454 70px,#6c6c6c 71px,#979797 72px,#afafaf 73px,#b7b7b7 74px,#efefef 76px)"></i><i style="left:380px;background:linear-gradient(#3c3c3c 0px,#3c3c3c 16px,#4c4c4c 27px,#505050 48px,#606060 69px,#646464 70px,#747474 71px,#979797 72px,#c3c3c3 74px,#e3e3e3 75px,#fbfbfb 76px)"></i><i style="left:381px;width:13px;background:linear-gradient(#3c3c3c 0px,#3c3c3c 33px,#4c4c4c 68px,#545454 70px,#6c6c6c 71px,#979797 72px,#afafaf 73px,#b7b7b7 74px,#efefef 76px)"></i><i style="left:394px;background:linear-gradient(#3c3c3c 0px,#3c3c3c 13px,#545454 24px,#5c5c5c 51px,#6c6c6c 69px,#707070 70px,#7c7c7c 71px,#c7c7c7 74px,#ebebeb 75px,#fbfbfb 76px)"></i><i style="left:395px;width:5px;background:linear-gradient(#3c3c3c 0px,#3c3c3c 33px,#4c4c4c 68px,#545454 70px,#6c6c6c 71px,#979797 72px,#afafaf 73px,#b7b7b7 74px,#efefef 76px)"></i><i style="left:400px;width:3px;background:linear-gradient(#3c3c3c 0px,#3c3c3c 33px,#4c4c4c 68px,#545454 70px,#646464 71px,#ababab 73px,#b7b7b7 74px,#efefef 76px)"></i><i style="left:403px;background:linear-gradient(#3c3c3c 0px,#3c3c3c 35px,#404040 36px,#444444 60px,#4c4c4c 69px,#505050 70px,#646464 71px,#ababab 73px,#b7b7b7 74px,#cbcbcb 75px,#efefef 76px)"></i><i style="left:404px;background:linear-gradient(#3c3c3c 0px,#404040 50px,#4c4c4c 69px,#505050 70px,#646464 71px,#ababab 73px,#b7b7b7 74px,#cbcbcb 75px,#efefef 76px)"></i><i style="left:405px;background:linear-gradient(#3c3c3c 0px,#3c3c3c 25px,#505050 31px,#4c4c4c 34px,#404040 37px,#404040 50px,#4c4c4c 69px,#505050 70px,#646464 71px,#ababab 73px,#b7b7b7 74px,#cbcbcb 75px,#efefef 76px)"></i><i style="left:406px;background:linear-gradient(#3c3c3c 0px,#3c3c3c 18px,#444444 22px,#505050 25px,#606060 27px,#8b8b8b 31px,#8b8b8b 32px,#606060 37px,#585858 39px,#686868 69px,#747474 71px,#878787 72px,#ababab 73px,#e7e7e7 75px,#fbfbfb 76px)"></i><i style="left:407px;background:linear-gradient(#3c3c3c 0px,#3c3c3c 22px,#484848 26px,#6c6c6c 30px,#747474 32px,#585858 36px,#505050 38px,#505050 50px,#5c5c5c 69px,#686868 71px,#7c7c7c 72px,#a3a3a3 73px,#dfdfdf 75px,#f7f7f7 76px)"></i><i style="left:408px;background:linear-gradient(#3c3c3c 0px,#3c3c3c 26px,#444444 29px,#404040 50px,#4c4c4c 69px,#505050 70px,#5c5c5c 71px,#7c7c7c 72px,#a3a3a3 73px,#cbcbcb 75px,#efefef 76px)"></i><i style="left:409px;background:linear-gradient(#3c3c3c 0px,#3c3c3c 33px,#404040 34px,#444444 60px,#4c4c4c 69px,#505050 70px,#5c5c5c 71px,#7c7c7c 72px,#a3a3a3 73px,#cbcbcb 75px,#efefef 76px)"></i><i style="left:410px;width:3px;background:linear-gradient(#3c3c3c 0px,#3c3c3c 35px,#404040 36px,#444444 60px,#4c4c4c 69px,#505050 70px,#5c5c5c 71px,#7c7c7c 72px,#a3a3a3 73px,#cbcbcb 75px,#efefef 76px)"></i><i style="left:413px;background:linear-gradient(#3c3c3c 0px,#3c3c3c 35px,#404040 36px,#444444 60px,#4c4c4c 69px,#545454 71px,#6c6c6c 72px,#979797 73px,#cbcbcb 75px,#efefef 76px)"></i><i style="left:414px;width:3px;background:linear-gradient(#3c3c3c 0px,#3c3c3c 37px,#404040 38px,#404040 55px,#484848 69px,#545454 71px,#6c6c6c 72px,#979797 73px,#afafaf 74px,#ebebeb 76px)"></i><i style="left:417px;width:2px;background:linear-gradient(#3c3c3c 0px,#3c3c3c 28px,#404040 31px,#606060 41px,#787878 69px,#808080 71px,#939393 72px,#efefef 75px,#fbfbfb 76px)"></i><i style="left:419px;background:linear-gradient(#3c3c3c 0px,#3c3c3c 17px,#484848 22px,#545454 24px,#686868 30px,#787878 54px,#878787 69px,#939393 71px,#a3a3a3 72px,#bfbfbf 73px,#e3e3e3 74px,#f7f7f7 75px,#fbfbfb 76px)"></i></div>
<div class="sp" style="left:80px;top:249px;filter:url(#f2)"><i style="left:0px;width:4px;background:linear-gradient(#202020 0px,#242424 11px,#484848 22px,#505050 30px,#444444 36px,#484848 40px,#343434 42px,#343434 44px,#606060 50px,#686868 53px,#707070 62px,#808080 64px,#747474 67px,#7c7c7c 70px,#878787 71px,#878787 72px,#979797 73px,#d3d3d3 75px,#e7e7e7 76px)"></i><i style="left:4px;background:linear-gradient(#404040 0px,#545454 2px,#838383 5px,#a3a3a3 8px,#bbbbbb 73px,#bfbfbf 74px,#e7e7e7 76px)"></i><i style="left:5px;width:18px;background:linear-gradient(#202020 0px,#242424 11px,#484848 22px,#505050 30px,#444444 36px,#484848 40px,#343434 42px,#343434 44px,#606060 50px,#686868 53px,#707070 62px,#808080 64px,#747474 67px,#7c7c7c 70px,#878787 71px,#878787 72px,#979797 73px,#d3d3d3 75px,#e7e7e7 76px)"></i><i style="left:23px;background:linear-gradient(#383838 0px,#3c3c3c 2px,#585858 6px,#787878 12px,#939393 39px,#c3c3c3 72px,#c7c7c7 74px,#e7e7e7 76px)"></i><i style="left:24px;background:linear-gradient(#404040 0px,#484848 2px,#808080 9px,#878787 11px,#9f9f9f 35px,#bbbbbb 56px,#d7d7d7 74px,#e7e7e7 76px)"></i><i style="left:25px;background:linear-gradient(#3c3c3c 0px,#444444 2px,#686868 7px,#7c7c7c 11px,#979797 39px,#c7c7c7 72px,#cbcbcb 74px,#e7e7e7 76px)"></i><i style="left:26px;background:linear-gradient(#181818 0px,#181818 1px,#3c3c3c 3px,#4c4c4c 6px,#6c6c6c 10px,#808080 14px,#979797 37px,#cbcbcb 73px,#d7d7d7 75px,#e7e7e7 76px)"></i><i style="left:27px;background:linear-gradient(#181818 0px,#383838 2px,#484848 5px,#686868 9px,#808080 14px,#979797 37px,#cbcbcb 73px,#d7d7d7 75px,#e7e7e7 76px)"></i><i style="left:28px;background:linear-gradient(#181818 0px,#181818 2px,#3c3c3c 4px,#444444 6px,#686868 11px,#7c7c7c 15px,#8b8b8b 32px,#c7c7c7 74px,#e7e7e7 76px)"></i><i style="left:29px;background:linear-gradient(#383838 0px,#404040 2px,#787878 11px,#8f8f8f 34px,#c7c7c7 73px,#cbcbcb 74px,#e7e7e7 76px)"></i><i style="left:30px;background:linear-gradient(#181818 0px,#181818 2px,#3c3c3c 4px,#838383 14px,#979797 33px,#cbcbcb 70px,#d3d3d3 74px,#e7e7e7 76px)"></i><i style="left:31px;background:linear-gradient(#181818 0px,#181818 1px,#282828 2px,#404040 3px,#838383 9px,#939393 12px,#b7b7b7 73px,#bfbfbf 74px,#e7e7e7 76px)"></i><i style="left:32px;background:linear-gradient(#181818 0px,#181818 1px,#282828 2px,#404040 3px,#484848 4px,#7c7c7c 8px,#8f8f8f 10px,#979797 12px,#bbbbbb 73px,#bfbfbf 74px,#e7e7e7 76px)"></i><i style="left:33px;background:linear-gradient(#181818 0px,#181818 5px,#3c3c3c 7px,#707070 15px,#7c7c7c 18px,#838383 30px,#afafaf 71px,#b3b3b3 73px,#bbbbbb 74px,#e7e7e7 76px)"></i><i style="left:34px;background:linear-gradient(#181818 0px,#181818 7px,#3c3c3c 9px,#484848 12px,#646464 16px,#747474 20px,#878787 43px,#ababab 73px,#b7b7b7 74px,#d3d3d3 75px,#e7e7e7 76px)"></i><i style="left:35px;background:linear-gradient(#181818 0px,#1c1c1c 8px,#282828 9px,#3c3c3c 10px,#484848 13px,#686868 18px,#747474 22px,#8b8b8b 50px,#a7a7a7 73px,#b7b7b7 74px,#d3d3d3 75px,#e7e7e7 76px)"></i><i style="left:36px;background:linear-gradient(#181818 0px,#181818 7px,#3c3c3c 9px,#4c4c4c 12px,#6c6c6c 16px,#808080 20px,#b3b3b3 71px,#b7b7b7 73px,#bfbfbf 74px,#e7e7e7 76px)"></i><i style="left:37px;background:linear-gradient(#181818 0px,#181818 4px,#3c3c3c 6px,#747474 16px,#808080 32px,#ababab 72px,#afafaf 73px,#bbbbbb 74px,#e7e7e7 76px)"></i><i style="left:38px;background:linear-gradient(#181818 0px,#1c1c1c 9px,#383838 11px,#606060 19px,#6c6c6c 24px,#6c6c6c 29px,#808080 51px,#8b8b8b 58px,#8b8b8b 62px,#979797 64px,#939393 69px,#979797 70px,#a3a3a3 71px,#a3a3a3 73px,#e7e7e7 76px)"></i><i style="left:39px;background:linear-gradient(#181818 0px,#1c1c1c 11px,#3c3c3c 13px,#6c6c6c 24px,#8b8b8b 62px,#979797 64px,#939393 69px,#979797 70px,#a3a3a3 71px,#a3a3a3 73px,#e7e7e7 76px)"></i><i style="left:40px;background:linear-gradient(#181818 0px,#1c1c1c 9px,#3c3c3c 11px,#585858 16px,#707070 22px,#838383 49px,#8f8f8f 61px,#979797 63px,#979797 69px,#a3a3a3 71px,#a3a3a3 73px,#e7e7e7 76px)"></i><i style="left:41px;background:linear-gradient(#181818 0px,#1c1c1c 11px,#242424 13px,#3c3c3c 15px,#444444 17px,#6c6c6c 23px,#787878 26px,#939393 59px,#9b9b9b 63px,#9f9f9f 70px,#a7a7a7 73px,#b7b7b7 74px,#d3d3d3 75px,#e7e7e7 76px)"></i><i style="left:42px;background:linear-gradient(#181818 0px,#1c1c1c 9px,#3c3c3c 11px,#444444 13px,#6c6c6c 19px,#787878 23px,#878787 45px,#a7a7a7 73px,#b7b7b7 74px,#d3d3d3 75px,#e7e7e7 76px)"></i><i style="left:43px;background:linear-gradient(#181818 0px,#1c1c1c 11px,#202020 12px,#383838 14px,#6c6c6c 23px,#747474 26px,#979797 67px,#9b9b9b 70px,#a3a3a3 71px,#a3a3a3 73px,#e7e7e7 76px)"></i><i style="left:44px;background:linear-gradient(#181818 0px,#181818 7px,#242424 14px,#606060 26px,#686868 29px,#707070 48px,#7c7c7c 50px,#838383 53px,#878787 60px,#8b8b8b 62px,#979797 64px,#979797 65px,#8b8b8b 67px,#979797 70px,#a3a3a3 71px,#a3a3a3 73px,#e7e7e7 76px)"></i><i style="left:45px;background:linear-gradient(#181818 0px,#1c1c1c 11px,#2c2c2c 17px,#484848 23px,#646464 27px,#787878 33px,#7c7c7c 48px,#878787 56px,#838383 57px,#8b8b8b 62px,#979797 64px,#979797 65px,#8b8b8b 67px,#979797 70px,#a3a3a3 71px,#a3a3a3 73px,#e7e7e7 76px)"></i><i style="left:46px;background:linear-gradient(#181818 0px,#1c1c1c 11px,#2c2c2c 17px,#6c6c6c 27px,#787878 30px,#808080 51px,#878787 55px,#838383 57px,#8b8b8b 62px,#979797 64px,#979797 65px,#8b8b8b 67px,#979797 70px,#a3a3a3 71px,#a3a3a3 73px,#e7e7e7 76px)"></i><i style="left:47px;background:linear-gradient(#181818 0px,#1c1c1c 11px,#2c2c2c 17px,#404040 22px,#404040 24px,#484848 26px,#707070 32px,#787878 35px,#7c7c7c 47px,#878787 55px,#838383 57px,#8b8b8b 62px,#979797 64px,#979797 65px,#8b8b8b 67px,#979797 70px,#a3a3a3 71px,#a3a3a3 73px,#e7e7e7 76px)"></i><i style="left:48px;background:linear-gradient(#181818 0px,#1c1c1c 11px,#2c2c2c 17px,#404040 22px,#404040 24px,#4c4c4c 27px,#686868 31px,#787878 35px,#7c7c7c 49px,#878787 56px,#838383 57px,#8b8b8b 62px,#979797 64px,#979797 65px,#8b8b8b 67px,#979797 70px,#a3a3a3 71px,#a3a3a3 73px,#e7e7e7 76px)"></i><i style="left:49px;background:linear-gradient(#181818 0px,#1c1c1c 11px,#2c2c2c 17px,#646464 26px,#747474 31px,#787878 47px,#878787 56px,#838383 57px,#878787 60px,#8b8b8b 62px,#979797 64px,#979797 65px,#8b8b8b 67px,#979797 70px,#a3a3a3 71px,#a3a3a3 73px,#e7e7e7 76px)"></i><i style="left:50px;background:linear-gradient(#181818 0px,#1c1c1c 11px,#2c2c2c 17px,#404040 22px,#404040 24px,#5c5c5c 30px,#686868 34px,#707070 48px,#7c7c7c 50px,#838383 53px,#878787 60px,#8b8b8b 62px,#979797 64px,#979797 65px,#8b8b8b 67px,#979797 70px,#a3a3a3 71px,#a3a3a3 73px,#e7e7e7 76px)"></i><i style="left:51px;background:linear-gradient(#181818 0px,#1c1c1c 11px,#545454 30px,#545454 35px,#5c5c5c 40px,#585858 44px,#5c5c5c 46px,#707070 48px,#7c7c7c 50px,#878787 56px,#838383 57px,#878787 60px,#8b8b8b 62px,#979797 64px,#979797 65px,#8b8b8b 67px,#979797 70px,#a3a3a3 71px,#a3a3a3 73px,#e7e7e7 76px)"></i><i style="left:52px;background:linear-gradient(#181818 0px,#1c1c1c 11px,#2c2c2c 17px,#404040 22px,#404040 24px,#585858 30px,#5c5c5c 46px,#707070 48px,#7c7c7c 50px,#878787 56px,#838383 57px,#878787 60px,#8b8b8b 62px,#979797 64px,#979797 65px,#8b8b8b 67px,#979797 70px,#a3a3a3 71px,#a3a3a3 73px,#e7e7e7 76px)"></i><i style="left:53px;background:linear-gradient(#181818 0px,#1c1c1c 11px,#2c2c2c 17px,#404040 22px,#404040 24px,#545454 29px,#5c5c5c 39px,#585858 44px,#5c5c5c 46px,#707070 48px,#7c7c7c 50px,#878787 56px,#838383 57px,#878787 60px,#8b8b8b 62px,#979797 64px,#979797 65px,#8b8b8b 67px,#979797 70px,#a3a3a3 71px,#a3a3a3 73px,#e7e7e7 76px)"></i><i style="left:54px;width:150px;background:linear-gradient(#181818 0px,#1c1c1c 11px,#2c2c2c 17px,#404040 22px,#484848 36px,#5c5c5c 40px,#505050 42px,#505050 44px,#7c7c7c 50px,#838383 53px,#878787 60px,#8b8b8b 62px,#979797 64px,#979797 65px,#8b8b8b 67px,#979797 70px,#a3a3a3 71px,#a3a3a3 73px,#e7e7e7 76px)"></i><i style="left:204px;background:linear-gradient(#181818 0px,#1c1c1c 11px,#2c2c2c 17px,#404040 22px,#444444 30px,#4c4c4c 32px,#747474 37px,#787878 39px,#8b8b8b 62px,#979797 64px,#939393 69px,#979797 70px,#a3a3a3 71px,#a3a3a3 73px,#e7e7e7 76px)"></i><i style="left:205px;background:linear-gradient(#181818 0px,#1c1c1c 11px,#2c2c2c 17px,#404040 22px,#444444 30px,#4c4c4c 32px,#707070 36px,#7c7c7c 40px,#8b8b8b 60px,#979797 64px,#939393 69px,#a3a3a3 71px,#a3a3a3 73px,#e7e7e7 76px)"></i><i style="left:206px;background:linear-gradient(#181818 0px,#1c1c1c 11px,#2c2c2c 17px,#404040 22px,#444444 30px,#4c4c4c 32px,#6c6c6c 36px,#787878 40px,#808080 51px,#8b8b8b 58px,#8b8b8b 62px,#979797 64px,#8f8f8f 67px,#939393 69px,#979797 70px,#a3a3a3 71px,#a3a3a3 73px,#e7e7e7 76px)"></i><i style="left:207px;background:linear-gradient(#181818 0px,#1c1c1c 11px,#2c2c2c 17px,#404040 22px,#444444 30px,#4c4c4c 32px,#686868 35px,#747474 37px,#7c7c7c 40px,#8b8b8b 60px,#979797 64px,#939393 69px,#979797 70px,#a3a3a3 71px,#a3a3a3 73px,#e7e7e7 76px)"></i><i style="left:208px;width:11px;background:linear-gradient(#181818 0px,#1c1c1c 11px,#2c2c2c 17px,#404040 22px,#484848 36px,#5c5c5c 40px,#505050 42px,#505050 44px,#7c7c7c 50px,#838383 53px,#878787 60px,#8b8b8b 62px,#979797 64px,#979797 65px,#8b8b8b 67px,#979797 70px,#a3a3a3 71px,#a3a3a3 73px,#e7e7e7 76px)"></i><i style="left:219px;background:linear-gradient(#181818 0px,#181818 5px,#383838 7px,#646464 17px,#707070 48px,#7c7c7c 50px,#838383 53px,#878787 60px,#8b8b8b 62px,#979797 64px,#979797 65px,#8b8b8b 67px,#979797 70px,#a3a3a3 71px,#a3a3a3 73px,#e7e7e7 76px)"></i><i style="left:220px;background:linear-gradient(#181818 0px,#181818 5px,#383838 7px,#505050 12px,#646464 18px,#707070 48px,#7c7c7c 50px,#838383 53px,#878787 60px,#8b8b8b 62px,#979797 64px,#979797 65px,#8b8b8b 67px,#979797 70px,#a3a3a3 71px,#a3a3a3 73px,#e7e7e7 76px)"></i><i style="left:221px;background:linear-gradient(#181818 0px,#1c1c1c 11px,#2c2c2c 17px,#404040 22px,#484848 36px,#5c5c5c 40px,#505050 42px,#505050 44px,#7c7c7c 50px,#838383 53px,#878787 60px,#8b8b8b 62px,#979797 64px,#979797 65px,#8b8b8b 67px,#979797 70px,#a3a3a3 71px,#a3a3a3 73px,#e7e7e7 76px)"></i><i style="left:222px;background:linear-gradient(#181818 0px,#1c1c1c 11px,#2c2c2c 17px,#404040 22px,#404040 26px,#747474 33px,#7c7c7c 35px,#9b9b9b 69px,#a3a3a3 71px,#a3a3a3 73px,#e7e7e7 76px)"></i><i style="left:223px;width:5px;background:linear-gradient(#181818 0px,#1c1c1c 11px,#2c2c2c 17px,#404040 22px,#484848 36px,#5c5c5c 40px,#505050 42px,#505050 44px,#7c7c7c 50px,#838383 53px,#878787 60px,#8b8b8b 62px,#979797 64px,#979797 65px,#8b8b8b 67px,#979797 70px,#a3a3a3 71px,#a3a3a3 73px,#e7e7e7 76px)"></i><i style="left:228px;background:linear-gradient(#181818 0px,#1c1c1c 10px,#383838 12px,#585858 21px,#5c5c5c 44px,#606060 46px,#7c7c7c 50px,#838383 53px,#878787 60px,#8b8b8b 62px,#979797 64px,#979797 65px,#8b8b8b 67px,#979797 70px,#a3a3a3 71px,#a3a3a3 73px,#e7e7e7 76px)"></i><i style="left:229px;background:linear-gradient(#181818 0px,#1c1c1c 10px,#383838 12px,#5c5c5c 21px,#606060 44px,#646464 46px,#7c7c7c 50px,#838383 53px,#878787 60px,#8b8b8b 62px,#979797 64px,#979797 65px,#8b8b8b 67px,#979797 70px,#a3a3a3 71px,#a3a3a3 73px,#e7e7e7 76px)"></i><i style="left:230px;width:6px;background:linear-gradient(#181818 0px,#1c1c1c 11px,#2c2c2c 17px,#404040 22px,#484848 36px,#5c5c5c 40px,#505050 42px,#505050 44px,#7c7c7c 50px,#838383 53px,#878787 60px,#8b8b8b 62px,#979797 64px,#979797 65px,#8b8b8b 67px,#979797 70px,#a3a3a3 71px,#a3a3a3 73px,#e7e7e7 76px)"></i><i style="left:236px;width:17px;background:linear-gradient(#181818 0px,#1c1c1c 11px,#282828 15px,#242424 45px,#282828 46px,#2c2c2c 72px,#303030 73px,#787878 74px,#d3d3d3 75px,#e7e7e7 76px)"></i><i style="left:253px;background:linear-gradient(#181818 0px,#1c1c1c 11px,#282828 15px,#282828 40px,#242424 41px,#282828 53px,#3c3c3c 55px,#484848 58px,#747474 73px,#9b9b9b 74px,#d3d3d3 75px,#e7e7e7 76px)"></i><i style="left:254px;background:linear-gradient(#181818 0px,#1c1c1c 11px,#282828 15px,#282828 40px,#242424 41px,#282828 53px,#3c3c3c 55px,#505050 60px,#747474 73px,#9b9b9b 74px,#d3d3d3 75px,#e7e7e7 76px)"></i><i style="left:255px;background:linear-gradient(#181818 0px,#1c1c1c 11px,#282828 15px,#282828 40px,#242424 41px,#282828 53px,#3c3c3c 55px,#484848 58px,#747474 73px,#9b9b9b 74px,#d3d3d3 75px,#e7e7e7 76px)"></i><i style="left:256px;background:linear-gradient(#181818 0px,#1c1c1c 11px,#282828 15px,#282828 40px,#242424 41px,#282828 53px,#3c3c3c 55px,#545454 61px,#747474 73px,#9b9b9b 74px,#d3d3d3 75px,#e7e7e7 76px)"></i><i style="left:257px;width:2px;background:linear-gradient(#181818 0px,#1c1c1c 11px,#282828 15px,#242424 45px,#2c2c2c 62px,#404040 64px,#838383 73px,#a7a7a7 74px,#d3d3d3 75px,#e7e7e7 76px)"></i><i style="left:259px;background:linear-gradient(#181818 0px,#1c1c1c 11px,#282828 15px,#282828 40px,#242424 41px,#282828 53px,#444444 55px,#8b8b8b 64px,#bfbfbf 72px,#cfcfcf 74px,#e7e7e7 76px)"></i><i style="left:260px;background:linear-gradient(#181818 0px,#181818 3px,#383838 5px,#505050 11px,#545454 28px,#646464 36px,#8b8b8b 51px,#c3c3c3 69px,#dbdbdb 75px,#e7e7e7 76px)"></i><i style="left:261px;background:linear-gradient(#484848 0px,#505050 1px,#9f9f9f 6px,#afafaf 8px,#c7c7c7 33px,#dbdbdb 74px,#e7e7e7 76px)"></i><i style="left:262px;background:linear-gradient(#545454 0px,#646464 1px,#939393 3px,#bbbbbb 5px,#c3c3c3 6px,#cbcbcb 9px,#cfcfcf 30px,#d3d3d3 31px,#d3d3d3 49px,#d7d7d7 50px,#d7d7d7 74px,#e7e7e7 76px)"></i><i style="left:263px;background:linear-gradient(#585858 0px,#646464 1px,#808080 2px,#c3c3c3 5px,#cfcfcf 6px,#d3d3d3 7px,#dbdbdb 26px,#dbdbdb 42px,#dfdfdf 43px,#dfdfdf 66px,#e7e7e7 76px)"></i><i style="left:264px;background:linear-gradient(#585858 0px,#646464 1px,#ababab 4px,#c7c7c7 6px,#cbcbcb 7px,#d3d3d3 22px,#d3d3d3 36px,#d7d7d7 37px,#dbdbdb 74px,#e7e7e7 76px)"></i><i style="left:265px;width:2px;background:linear-gradient(#181818 0px,#1c1c1c 11px,#282828 15px,#282828 34px,#404040 37px,#6c6c6c 48px,#c3c3c3 74px,#e7e7e7 76px)"></i><i style="left:267px;width:2px;background:linear-gradient(#606060 0px,#747474 1px,#9b9b9b 2px,#bbbbbb 3px,#cbcbcb 4px,#d3d3d3 7px,#d7d7d7 37px,#dbdbdb 38px,#dbdbdb 70px,#dfdfdf 75px,#e7e7e7 76px)"></i><i style="left:269px;background:linear-gradient(#181818 0px,#1c1c1c 11px,#282828 15px,#242424 43px,#3c3c3c 45px,#5c5c5c 53px,#c7c7c7 73px,#e7e7e7 76px)"></i><i style="left:270px;background:linear-gradient(#181818 0px,#1c1c1c 11px,#282828 15px,#282828 40px,#242424 41px,#282828 56px,#505050 59px,#cbcbcb 74px,#e7e7e7 76px)"></i><i style="left:271px;background:linear-gradient(#181818 0px,#1c1c1c 11px,#282828 15px,#242424 45px,#2c2c2c 61px,#343434 62px,#545454 64px,#9b9b9b 70px,#c3c3c3 74px,#e7e7e7 76px)"></i><i style="left:272px;background:linear-gradient(#181818 0px,#1c1c1c 11px,#282828 15px,#242424 45px,#282828 46px,#2c2c2c 66px,#303030 67px,#707070 70px,#b7b7b7 74px,#d3d3d3 75px,#e7e7e7 76px)"></i><i style="left:273px;width:2px;background:linear-gradient(#181818 0px,#1c1c1c 11px,#282828 15px,#242424 45px,#282828 46px,#2c2c2c 72px,#303030 73px,#787878 74px,#d3d3d3 75px,#e7e7e7 76px)"></i><i style="left:275px;background:linear-gradient(#181818 0px,#1c1c1c 11px,#282828 15px,#282828 40px,#242424 41px,#282828 55px,#3c3c3c 57px,#585858 64px,#707070 73px,#9b9b9b 74px,#d3d3d3 75px,#e7e7e7 76px)"></i><i style="left:276px;background:linear-gradient(#181818 0px,#1c1c1c 11px,#282828 15px,#282828 40px,#242424 41px,#282828 55px,#3c3c3c 57px,#545454 63px,#707070 73px,#9b9b9b 74px,#d3d3d3 75px,#e7e7e7 76px)"></i><i style="left:277px;background:linear-gradient(#181818 0px,#1c1c1c 11px,#282828 15px,#282828 40px,#242424 41px,#282828 55px,#444444 58px,#747474 73px,#9b9b9b 74px,#d3d3d3 75px,#e7e7e7 76px)"></i><i style="left:278px;background:linear-gradient(#181818 0px,#1c1c1c 11px,#282828 15px,#282828 40px,#242424 41px,#282828 54px,#404040 57px,#747474 73px,#9b9b9b 74px,#d3d3d3 75px,#e7e7e7 76px)"></i><i style="left:279px;width:15px;background:linear-gradient(#181818 0px,#1c1c1c 11px,#282828 15px,#242424 45px,#282828 46px,#2c2c2c 72px,#303030 73px,#787878 74px,#d3d3d3 75px,#e7e7e7 76px)"></i><i style="left:294px;background:linear-gradient(#181818 0px,#1c1c1c 11px,#2c2c2c 17px,#2c2c2c 38px,#303030 39px,#282828 41px,#282828 44px,#343434 56px,#383838 73px,#808080 74px,#d3d3d3 75px,#e7e7e7 76px)"></i><i style="left:295px;width:3px;background:linear-gradient(#181818 0px,#1c1c1c 11px,#2c2c2c 17px,#303030 22px,#303030 38px,#343434 39px,#2c2c2c 41px,#2c2c2c 44px,#3c3c3c 53px,#444444 73px,#878787 74px,#d3d3d3 75px,#e7e7e7 76px)"></i><i style="left:298px;background:linear-gradient(#181818 0px,#1c1c1c 11px,#303030 20px,#303030 29px,#383838 39px,#303030 44px,#444444 53px,#4c4c4c 63px,#484848 67px,#505050 73px,#8b8b8b 74px,#d3d3d3 75px,#e7e7e7 76px)"></i><i style="left:299px;background:linear-gradient(#181818 0px,#1c1c1c 11px,#242424 13px,#343434 22px,#343434 33px,#383838 34px,#343434 36px,#3c3c3c 39px,#343434 44px,#444444 48px,#4c4c4c 52px,#505050 62px,#585858 64px,#545454 68px,#5c5c5c 73px,#939393 74px,#d3d3d3 75px,#e7e7e7 76px)"></i><i style="left:300px;background:linear-gradient(#181818 0px,#1c1c1c 11px,#242424 13px,#343434 22px,#343434 33px,#383838 34px,#343434 36px,#3c3c3c 39px,#343434 44px,#444444 48px,#4c4c4c 52px,#505050 62px,#585858 64px,#545454 68px,#5c5c5c 72px,#606060 73px,#d3d3d3 75px,#e7e7e7 76px)"></i><i style="left:301px;background:linear-gradient(#181818 0px,#1c1c1c 11px,#242424 13px,#343434 22px,#343434 33px,#383838 34px,#343434 36px,#3c3c3c 39px,#343434 44px,#444444 48px,#4c4c4c 52px,#505050 62px,#585858 64px,#545454 66px,#585858 70px,#606060 72px,#6c6c6c 73px,#9b9b9b 74px,#d3d3d3 75px,#e7e7e7 76px)"></i><i style="left:302px;background:linear-gradient(#181818 0px,#1c1c1c 11px,#343434 21px,#383838 36px,#404040 39px,#383838 44px,#4c4c4c 48px,#585858 53px,#545454 54px,#585858 60px,#646464 64px,#5c5c5c 68px,#747474 73px,#9f9f9f 74px,#d3d3d3 75px,#e7e7e7 76px)"></i><i style="left:303px;background:linear-gradient(#181818 0px,#1c1c1c 11px,#383838 22px,#3c3c3c 37px,#484848 40px,#404040 41px,#3c3c3c 44px,#545454 48px,#606060 53px,#646464 62px,#6c6c6c 64px,#686868 68px,#7c7c7c 73px,#a3a3a3 74px,#d3d3d3 75px,#e7e7e7 76px)"></i><i style="left:304px;background:linear-gradient(#181818 0px,#1c1c1c 11px,#383838 22px,#3c3c3c 37px,#484848 40px,#404040 41px,#3c3c3c 44px,#545454 48px,#606060 53px,#646464 62px,#6c6c6c 64px,#686868 68px,#808080 73px,#a3a3a3 74px,#d3d3d3 75px,#e7e7e7 76px)"></i><i style="left:305px;background:linear-gradient(#181818 0px,#1c1c1c 11px,#383838 22px,#3c3c3c 37px,#484848 40px,#404040 41px,#3c3c3c 44px,#545454 48px,#606060 53px,#646464 62px,#6c6c6c 64px,#686868 68px,#747474 71px,#878787 73px,#a7a7a7 74px,#d3d3d3 75px,#e7e7e7 76px)"></i><i style="left:306px;background:linear-gradient(#181818 0px,#1c1c1c 11px,#383838 21px,#404040 37px,#4c4c4c 40px,#444444 41px,#444444 44px,#646464 51px,#6c6c6c 60px,#787878 64px,#707070 68px,#8b8b8b 73px,#ababab 74px,#d3d3d3 75px,#e7e7e7 76px)"></i><i style="left:307px;background:linear-gradient(#181818 0px,#1c1c1c 11px,#3c3c3c 22px,#444444 34px,#404040 36px,#505050 40px,#484848 42px,#484848 44px,#505050 46px,#606060 48px,#6c6c6c 52px,#747474 53px,#707070 54px,#787878 58px,#747474 60px,#787878 62px,#838383 64px,#7c7c7c 68px,#939393 73px,#afafaf 74px,#d3d3d3 75px,#e7e7e7 76px)"></i><i style="left:308px;background:linear-gradient(#181818 0px,#1c1c1c 11px,#3c3c3c 22px,#444444 34px,#404040 36px,#505050 40px,#484848 42px,#484848 44px,#505050 46px,#606060 48px,#6c6c6c 52px,#747474 53px,#707070 54px,#787878 58px,#747474 60px,#787878 62px,#838383 64px,#7c7c7c 68px,#979797 73px,#afafaf 74px,#d3d3d3 75px,#e7e7e7 76px)"></i><i style="left:309px;background:linear-gradient(#181818 0px,#1c1c1c 11px,#3c3c3c 22px,#444444 34px,#404040 36px,#505050 40px,#484848 42px,#484848 44px,#505050 46px,#606060 48px,#6c6c6c 52px,#747474 53px,#707070 54px,#787878 58px,#747474 60px,#787878 62px,#838383 64px,#7c7c7c 68px,#9f9f9f 73px,#b3b3b3 74px,#d3d3d3 75px,#e7e7e7 76px)"></i><i style="left:310px;background:linear-gradient(#181818 0px,#1c1c1c 11px,#3c3c3c 21px,#484848 35px,#444444 36px,#585858 40px,#4c4c4c 42px,#4c4c4c 44px,#747474 50px,#7c7c7c 53px,#787878 54px,#838383 61px,#808080 62px,#8f8f8f 64px,#838383 68px,#a3a3a3 73px,#e7e7e7 76px)"></i><i style="left:311px;width:2px;background:linear-gradient(#3c3c3c 0px,#444444 1px,#878787 5px,#939393 7px,#ababab 73px,#b7b7b7 74px,#d3d3d3 75px,#e7e7e7 76px)"></i><i style="left:313px;background:linear-gradient(#181818 0px,#1c1c1c 11px,#2c2c2c 17px,#404040 22px,#484848 36px,#5c5c5c 40px,#505050 42px,#505050 44px,#7c7c7c 50px,#838383 53px,#878787 60px,#8b8b8b 62px,#979797 64px,#979797 65px,#8b8b8b 67px,#979797 70px,#a3a3a3 71px,#a7a7a7 73px,#b7b7b7 74px,#d3d3d3 75px,#e7e7e7 76px)"></i><i style="left:314px;background:linear-gradient(#181818 0px,#1c1c1c 11px,#2c2c2c 17px,#404040 22px,#484848 36px,#5c5c5c 40px,#505050 42px,#505050 44px,#7c7c7c 50px,#878787 56px,#838383 57px,#878787 60px,#8b8b8b 62px,#979797 64px,#939393 66px,#979797 68px,#ababab 72px,#bbbbbb 74px,#e7e7e7 76px)"></i><i style="left:315px;background:linear-gradient(#181818 0px,#1c1c1c 11px,#2c2c2c 17px,#404040 22px,#484848 36px,#5c5c5c 40px,#505050 42px,#505050 44px,#7c7c7c 50px,#838383 53px,#8b8b8b 62px,#939393 63px,#979797 65px,#bbbbbb 73px,#c3c3c3 74px,#e7e7e7 76px)"></i><i style="left:316px;background:linear-gradient(#181818 0px,#1c1c1c 11px,#2c2c2c 17px,#404040 22px,#484848 36px,#5c5c5c 40px,#505050 42px,#505050 44px,#7c7c7c 50px,#878787 56px,#838383 57px,#cbcbcb 74px,#e7e7e7 76px)"></i><i style="left:317px;background:linear-gradient(#181818 0px,#181818 4px,#3c3c3c 6px,#606060 13px,#606060 23px,#686868 28px,#cbcbcb 70px,#d7d7d7 74px,#e7e7e7 76px)"></i><i style="left:318px;background:linear-gradient(#585858 0px,#686868 1px,#b3b3b3 4px,#cfcfcf 6px,#d3d3d3 7px,#dbdbdb 19px,#e3e3e3 75px,#e7e7e7 76px)"></i><i style="left:319px;background:linear-gradient(#545454 0px,#606060 1px,#7c7c7c 2px,#a7a7a7 4px,#c3c3c3 6px,#c7c7c7 7px,#d3d3d3 34px,#d7d7d7 74px,#dbdbdb 75px,#e7e7e7 76px)"></i><i style="left:320px;background:linear-gradient(#585858 0px,#646464 1px,#9b9b9b 3px,#c3c3c3 5px,#cfcfcf 6px,#d3d3d3 7px,#dbdbdb 21px,#dfdfdf 57px,#e7e7e7 76px)"></i><i style="left:321px;background:linear-gradient(#545454 0px,#606060 1px,#7c7c7c 2px,#a7a7a7 4px,#c3c3c3 6px,#c7c7c7 7px,#cfcfcf 21px,#cfcfcf 35px,#d3d3d3 36px,#d7d7d7 74px,#dbdbdb 75px,#e7e7e7 76px)"></i><i style="left:322px;background:linear-gradient(#585858 0px,#646464 1px,#ababab 4px,#c7c7c7 6px,#cbcbcb 7px,#d3d3d3 23px,#d3d3d3 37px,#d7d7d7 38px,#dbdbdb 74px,#e7e7e7 76px)"></i><i style="left:323px;background:linear-gradient(#181818 0px,#181818 3px,#282828 4px,#404040 5px,#444444 6px,#606060 9px,#747474 13px,#747474 32px,#cbcbcb 70px,#d7d7d7 74px,#e7e7e7 76px)"></i><i style="left:324px;background:linear-gradient(#181818 0px,#181818 4px,#383838 6px,#404040 7px,#646464 14px,#646464 46px,#7c7c7c 50px,#878787 56px,#838383 57px,#8f8f8f 62px,#979797 63px,#c3c3c3 74px,#e7e7e7 76px)"></i><i style="left:325px;background:linear-gradient(#181818 0px,#181818 7px,#1c1c1c 8px,#383838 10px,#545454 16px,#606060 20px,#646464 46px,#7c7c7c 50px,#838383 53px,#878787 60px,#8b8b8b 62px,#979797 64px,#979797 65px,#8b8b8b 67px,#979797 70px,#a3a3a3 71px,#a3a3a3 73px,#e7e7e7 76px)"></i><i style="left:326px;background:linear-gradient(#181818 0px,#181818 7px,#1c1c1c 8px,#383838 10px,#646464 20px,#646464 46px,#7c7c7c 50px,#838383 53px,#878787 60px,#8b8b8b 62px,#979797 64px,#979797 65px,#8b8b8b 67px,#979797 70px,#a3a3a3 71px,#a3a3a3 73px,#e7e7e7 76px)"></i><i style="left:327px;background:linear-gradient(#181818 0px,#181818 7px,#1c1c1c 8px,#383838 10px,#4c4c4c 14px,#646464 21px,#646464 46px,#7c7c7c 50px,#838383 53px,#878787 60px,#8b8b8b 62px,#979797 64px,#979797 65px,#8b8b8b 67px,#979797 70px,#a3a3a3 71px,#a3a3a3 73px,#e7e7e7 76px)"></i><i style="left:328px;width:2px;background:linear-gradient(#181818 0px,#1c1c1c 11px,#2c2c2c 17px,#404040 22px,#484848 36px,#5c5c5c 40px,#505050 42px,#505050 44px,#7c7c7c 50px,#838383 53px,#878787 60px,#8b8b8b 62px,#979797 64px,#979797 65px,#8b8b8b 67px,#979797 70px,#a3a3a3 71px,#a3a3a3 73px,#e7e7e7 76px)"></i><i style="left:330px;background:linear-gradient(#181818 0px,#1c1c1c 11px,#3c3c3c 13px,#585858 20px,#585858 39px,#5c5c5c 40px,#585858 44px,#5c5c5c 46px,#707070 48px,#7c7c7c 50px,#838383 53px,#878787 60px,#8b8b8b 62px,#979797 64px,#979797 65px,#8b8b8b 67px,#979797 70px,#a3a3a3 71px,#a3a3a3 73px,#e7e7e7 76px)"></i><i style="left:331px;width:75px;background:linear-gradient(#181818 0px,#1c1c1c 11px,#2c2c2c 17px,#404040 22px,#484848 36px,#5c5c5c 40px,#505050 42px,#505050 44px,#7c7c7c 50px,#838383 53px,#878787 60px,#8b8b8b 62px,#979797 64px,#979797 65px,#8b8b8b 67px,#979797 70px,#a3a3a3 71px,#a3a3a3 73px,#e7e7e7 76px)"></i><i style="left:406px;width:2px;background:linear-gradient(#181818 0px,#1c1c1c 11px,#2c2c2c 17px,#404040 22px,#404040 26px,#484848 29px,#484848 36px,#5c5c5c 40px,#505050 42px,#505050 44px,#7c7c7c 50px,#838383 53px,#878787 60px,#8b8b8b 62px,#979797 64px,#979797 65px,#8b8b8b 67px,#979797 70px,#a3a3a3 71px,#a3a3a3 73px,#e7e7e7 76px)"></i><i style="left:408px;width:12px;background:linear-gradient(#181818 0px,#1c1c1c 11px,#2c2c2c 17px,#404040 22px,#484848 36px,#5c5c5c 40px,#505050 42px,#505050 44px,#7c7c7c 50px,#838383 53px,#878787 60px,#8b8b8b 62px,#979797 64px,#979797 65px,#8b8b8b 67px,#979797 70px,#a3a3a3 71px,#a3a3a3 73px,#e7e7e7 76px)"></i></div>
<div class="sp" style="left:80px;top:364px;filter:url(#f3)"><i style="left:0px;width:28px;background:linear-gradient(#343434 0px,#484848 30px,#686868 46px,#939393 61px,#afafaf 66px,#bfbfbf 68px,#ebebeb 72px,#f3f3f3 76px)"></i><i style="left:28px;background:linear-gradient(#343434 0px,#404040 20px,#4c4c4c 22px,#545454 32px,#646464 38px,#6c6c6c 44px,#8b8b8b 54px,#8f8f8f 57px,#ababab 64px,#c7c7c7 68px,#ebebeb 71px,#f3f3f3 76px)"></i><i style="left:29px;width:6px;background:linear-gradient(#343434 0px,#484848 30px,#686868 46px,#939393 61px,#afafaf 66px,#bfbfbf 68px,#ebebeb 72px,#f3f3f3 76px)"></i><i style="left:35px;background:linear-gradient(#343434 0px,#3c3c3c 14px,#505050 16px,#585858 30px,#787878 46px,#8f8f8f 53px,#979797 57px,#b3b3b3 64px,#cfcfcf 68px,#f3f3f3 71px,#efefef 73px,#f3f3f3 76px)"></i><i style="left:36px;width:6px;background:linear-gradient(#343434 0px,#484848 30px,#686868 46px,#939393 61px,#afafaf 66px,#bfbfbf 68px,#ebebeb 72px,#f3f3f3 76px)"></i><i style="left:42px;background:linear-gradient(#343434 0px,#3c3c3c 16px,#404040 18px,#606060 20px,#686868 32px,#878787 47px,#9f9f9f 54px,#a7a7a7 58px,#bbbbbb 63px,#cbcbcb 66px,#fbfbfb 71px,#efefef 73px,#f3f3f3 76px)"></i><i style="left:43px;width:8px;background:linear-gradient(#343434 0px,#484848 30px,#686868 46px,#939393 61px,#afafaf 66px,#bfbfbf 68px,#ebebeb 72px,#f3f3f3 76px)"></i><i style="left:51px;width:89px;background:linear-gradient(#343434 0px,#484848 30px,#505050 35px,#606060 38px,#5c5c5c 41px,#686868 46px,#939393 61px,#afafaf 66px,#bfbfbf 68px,#ebebeb 72px,#f3f3f3 76px)"></i><i style="left:140px;width:280px;background:linear-gradient(#343434 0px,#484848 30px,#686868 46px,#939393 61px,#afafaf 66px,#bfbfbf 68px,#ebebeb 72px,#f3f3f3 76px)"></i></div>
<div class="sp" style="left:80px;top:460px;filter:url(#f4)"><i style="left:0px;width:33px;background:linear-gradient(#343434 0px,#484848 29px,#6c6c6c 47px,#939393 61px,#afafaf 66px,#bfbfbf 68px,#ebebeb 72px,#f3f3f3 76px)"></i><i style="left:33px;background:linear-gradient(#343434 0px,#404040 20px,#545454 23px,#585858 30px,#686868 36px,#747474 44px,#9b9b9b 59px,#c3c3c3 67px,#cfcfcf 68px,#ebebeb 72px,#f3f3f3 76px)"></i><i style="left:34px;width:2px;background:linear-gradient(#343434 0px,#484848 29px,#6c6c6c 47px,#939393 61px,#afafaf 66px,#bfbfbf 68px,#ebebeb 72px,#f3f3f3 76px)"></i><i style="left:36px;background:linear-gradient(#343434 0px,#444444 25px,#545454 29px,#545454 31px,#787878 48px,#838383 51px,#8f8f8f 57px,#ababab 64px,#b7b7b7 66px,#ebebeb 72px,#f3f3f3 76px)"></i><i style="left:37px;width:4px;background:linear-gradient(#343434 0px,#484848 29px,#6c6c6c 47px,#939393 61px,#afafaf 66px,#bfbfbf 68px,#ebebeb 72px,#f3f3f3 76px)"></i><i style="left:41px;background:linear-gradient(#343434 0px,#404040 21px,#444444 22px,#585858 24px,#5c5c5c 30px,#6c6c6c 36px,#7c7c7c 46px,#9b9b9b 58px,#afafaf 63px,#c7c7c7 67px,#dbdbdb 69px,#ebebeb 72px,#f3f3f3 76px)"></i><i style="left:42px;width:269px;background:linear-gradient(#343434 0px,#484848 29px,#6c6c6c 47px,#939393 61px,#afafaf 66px,#bfbfbf 68px,#ebebeb 72px,#f3f3f3 76px)"></i><i style="left:311px;width:109px;background:linear-gradient(#343434 0px,#484848 29px,#545454 35px,#606060 38px,#606060 41px,#6c6c6c 47px,#939393 61px,#afafaf 66px,#bfbfbf 68px,#ebebeb 72px,#f3f3f3 76px)"></i></div>
<div class="sp" style="left:80px;top:556px;filter:url(#f5)"><i style="left:0px;width:42px;background:linear-gradient(#343434 0px,#484848 32px,#606060 44px,#808080 53px,#939393 61px,#afafaf 66px,#bfbfbf 68px,#ebebeb 72px,#f3f3f3 76px)"></i><i style="left:42px;background:linear-gradient(#343434 0px,#3c3c3c 16px,#505050 19px,#585858 33px,#747474 46px,#9b9b9b 58px,#939393 61px,#afafaf 66px,#bfbfbf 68px,#ebebeb 72px,#f3f3f3 76px)"></i><i style="left:43px;width:227px;background:linear-gradient(#343434 0px,#484848 32px,#606060 44px,#808080 53px,#939393 61px,#afafaf 66px,#bfbfbf 68px,#ebebeb 72px,#f3f3f3 76px)"></i><i style="left:270px;background:linear-gradient(#343434 0px,#484848 32px,#606060 44px,#747474 50px,#878787 52px,#979797 59px,#a3a3a3 62px,#bfbfbf 67px,#ebebeb 72px,#f3f3f3 76px)"></i><i style="left:271px;width:149px;background:linear-gradient(#343434 0px,#484848 32px,#606060 44px,#808080 53px,#939393 61px,#afafaf 66px,#bfbfbf 68px,#ebebeb 72px,#f3f3f3 76px)"></i></div>
<svg width="640" height="768" viewBox="0 0 640 768">
<defs>
<linearGradient id="cb" x1="0" y1="0" x2="0" y2="1"><stop offset="0.000" stop-color="#ff0000"/><stop offset="0.040" stop-color="#ff1000"/><stop offset="0.200" stop-color="#ff8000"/><stop offset="0.360" stop-color="#ffff00"/><stop offset="0.430" stop-color="#80ff00"/><stop offset="0.500" stop-color="#00ff00"/><stop offset="0.620" stop-color="#00ff80"/><stop offset="0.740" stop-color="#00ffff"/><stop offset="0.880" stop-color="#0000ff"/><stop offset="1.000" stop-color="#000080"/></linearGradient>
<filter id="f0" filterUnits="userSpaceOnUse" x="0" y="0" width="420" height="77" color-interpolation-filters="sRGB"><feTurbulence type="fractalNoise" baseFrequency="0.85 0.45" numOctaves="1" seed="3" result="n"/><feColorMatrix in="n" type="matrix" values="1 0 0 0 0 1 0 0 0 0 1 0 0 0 0 0 0 0 0 1" result="ng"/><feComposite in="SourceGraphic" in2="ng" operator="arithmetic" k1="-0.26" k2="1.130" k3="0.49" k4="-0.245" result="s"/><feComponentTransfer in="s"><feFuncR type="table" tableValues="0 0 0 0 0 0 0 0 0 0 0 0 0 0 0 0 0 0 0 0 0 0 0 0 0 0 0 0 0 0 0 0 0 0 0 0 0 0 0 0 0 0 0 0 0 0 0 0 0 0 0 0 0 0 0 0 0 0 0 0 0 0 0 0 0 0 0 0 0 0 0 0.08 0.159 0.239 0.319 0.398 0.478 0.557 0.636 0.715 0.794 0.874 0.953 1 1 1 1 1 1 1 1 1 1 1 1 1 1 1 1 1 1 1 1 1 1 1 1 1 1 1 1 1 1 1 1 1 1 1 1 1 1 1 1 1 1 1"/><feFuncG type="table" tableValues="0 0 0 0 0 0 0 0 0 0 0 0 0 0 0 0 0 0 0 0 0 0 0 0 0 0 0 0 0 0 0 0 0 0 0 0 0.016 0.095 0.175 0.254 0.333 0.413 0.492 0.571 0.651 0.73 0.81 0.889 0.968 1 1 1 1 1 1 1 1 1 1 1 1 1 1 1 1 1 1 1 1 1 1 1 1 1 1 1 1 1 1 1 1 1 1 0.986 0.952 0.917 0.882 0.848 0.813 0.779 0.744 0.709 0.675 0.64 0.606 0.571 0.537 0.502 0.471 0.441 0.41 0.38 0.349 0.319 0.288 0.258 0.227 0.197 0.166 0.136 0.105 0.075 0.052 0.035 0.017 0 0 0 0 0 0 0 0 0 0 0"/><feFuncB type="table" tableValues="0 0 0 0 0 0 0 0 0 0 0 0 0 0 0 0 0 0 0 0 0 0 0.502 0.502 0.502 0.502 0.548 0.594 0.64 0.686 0.733 0.779 0.825 0.871 0.917 0.963 1 1 1 1 1 1 1 1 1 1 1 1 1 0.972 0.926 0.88 0.834 0.788 0.742 0.696 0.65 0.603 0.557 0.511 0.465 0.418 0.372 0.325 0.279 0.232 0.186 0.139 0.093 0.046 0 0 0 0 0 0 0 0 0 0 0 0 0 0 0 0 0 0 0 0 0 0 0 0 0 0 0 0 0 0 0 0 0 0 0 0 0 0 0 0 0 0 0 0 0 0 0 0 0 0 0 0 0 0 0 0"/></feComponentTransfer></filter><filter id="f1" filterUnits="userSpaceOnUse" x="0" y="0" width="420" height="77" color-interpolation-filters="sRGB"><feTurbulence type="fractalNoise" baseFrequency="0.85 0.45" numOctaves="1" seed="11" result="n"/><feColorMatrix in="n" type="matrix" values="1 0 0 0 0 1 0 0 0 0 1 0 0 0 0 0 0 0 0 1" result="ng"/><feComposite in="SourceGraphic" in2="ng" operator="arithmetic" k1="-0.26" k2="1.130" k3="0.49" k4="-0.245" result="s"/><feComponentTransfer in="s"><feFuncR type="table" tableValues="0 0 0 0 0 0 0 0 0 0 0 0 0 0 0 0 0 0 0 0 0 0 0 0 0 0 0 0 0 0 0 0 0 0 0 0 0 0 0 0 0 0 0 0 0 0 0 0 0 0 0 0 0 0 0 0 0 0 0 0 0 0 0 0 0 0 0 0 0 0 0 0.08 0.159 0.239 0.319 0.398 0.478 0.557 0.636 0.715 0.794 0.874 0.953 1 1 1 1 1 1 1 1 1 1 1 1 1 1 1 1 1 1 1 1 1 1 1 1 1 1 1 1 1 1 1 1 1 1 1 1 1 1 1 1 1 1 1"/><feFuncG type="table" tableValues="0 0 0 0 0 0 0 0 0 0 0 0 0 0 0 0 0 0 0 0 0 0 0 0 0 0 0 0 0 0 0 0 0 0 0 0 0.016 0.095 0.175 0.254 0.333 0.413 0.492 0.571 0.651 0.73 0.81 0.889 0.968 1 1 1 1 1 1 1 1 1 1 1 1 1 1 1 1 1 1 1 1 1 1 1 1 1 1 1 1 1 1 1 1 1 1 0.986 0.952 0.917 0.882 0.848 0.813 0.779 0.744 0.709 0.675 0.64 0.606 0.571 0.537 0.502 0.471 0.441 0.41 0.38 0.349 0.319 0.288 0.258 0.227 0.197 0.166 0.136 0.105 0.075 0.052 0.035 0.017 0 0 0 0 0 0 0 0 0 0 0"/><feFuncB type="table" tableValues="0 0 0 0 0 0 0 0 0 0 0 0 0 0 0 0 0 0 0 0 0 0 0.502 0.502 0.502 0.502 0.548 0.594 0.64 0.686 0.733 0.779 0.825 0.871 0.917 0.963 1 1 1 1 1 1 1 1 1 1 1 1 1 0.972 0.926 0.88 0.834 0.788 0.742 0.696 0.65 0.603 0.557 0.511 0.465 0.418 0.372 0.325 0.279 0.232 0.186 0.139 0.093 0.046 0 0 0 0 0 0 0 0 0 0 0 0 0 0 0 0 0 0 0 0 0 0 0 0 0 0 0 0 0 0 0 0 0 0 0 0 0 0 0 0 0 0 0 0 0 0 0 0 0 0 0 0 0 0 0 0"/></feComponentTransfer></filter><filter id="f2" filterUnits="userSpaceOnUse" x="0" y="0" width="420" height="77" color-interpolation-filters="sRGB"><feTurbulence type="fractalNoise" baseFrequency="0.85 0.45" numOctaves="1" seed="23" result="n"/><feColorMatrix in="n" type="matrix" values="1 0 0 0 0 1 0 0 0 0 1 0 0 0 0 0 0 0 0 1" result="ng"/><feComposite in="SourceGraphic" in2="ng" operator="arithmetic" k1="-0.66" k2="1.330" k3="0.6" k4="-0.300" result="s"/><feComponentTransfer in="s"><feFuncR type="table" tableValues="0 0 0 0 0 0 0 0 0 0 0 0 0 0 0 0 0 0 0 0 0 0 0 0 0 0 0 0 0 0 0 0 0 0 0 0 0 0 0 0 0 0 0 0 0 0 0 0 0 0 0 0 0 0 0 0 0 0 0 0 0 0 0 0 0 0 0 0 0 0 0 0.08 0.159 0.239 0.319 0.398 0.478 0.557 0.636 0.715 0.794 0.874 0.953 1 1 1 1 1 1 1 1 1 1 1 1 1 1 1 1 1 1 1 1 1 1 1 1 1 1 1 1 1 1 1 1 1 1 1 1 1 1 1 1 1 1 1"/><feFuncG type="table" tableValues="0 0 0 0 0 0 0 0 0 0 0 0 0 0 0 0 0 0 0 0 0 0 0 0 0 0 0 0 0 0 0 0 0 0 0 0 0.016 0.095 0.175 0.254 0.333 0.413 0.492 0.571 0.651 0.73 0.81 0.889 0.968 1 1 1 1 1 1 1 1 1 1 1 1 1 1 1 1 1 1 1 1 1 1 1 1 1 1 1 1 1 1 1 1 1 1 0.986 0.952 0.917 0.882 0.848 0.813 0.779 0.744 0.709 0.675 0.64 0.606 0.571 0.537 0.502 0.471 0.441 0.41 0.38 0.349 0.319 0.288 0.258 0.227 0.197 0.166 0.136 0.105 0.075 0.052 0.035 0.017 0 0 0 0 0 0 0 0 0 0 0"/><feFuncB type="table" tableValues="0 0 0 0 0 0 0 0 0 0 0 0 0 0 0 0 0 0 0 0 0 0 0.502 0.502 0.502 0.502 0.548 0.594 0.64 0.686 0.733 0.779 0.825 0.871 0.917 0.963 1 1 1 1 1 1 1 1 1 1 1 1 1 0.972 0.926 0.88 0.834 0.788 0.742 0.696 0.65 0.603 0.557 0.511 0.465 0.418 0.372 0.325 0.279 0.232 0.186 0.139 0.093 0.046 0 0 0 0 0 0 0 0 0 0 0 0 0 0 0 0 0 0 0 0 0 0 0 0 0 0 0 0 0 0 0 0 0 0 0 0 0 0 0 0 0 0 0 0 0 0 0 0 0 0 0 0 0 0 0 0"/></feComponentTransfer></filter><filter id="f3" filterUnits="userSpaceOnUse" x="0" y="0" width="420" height="77" color-interpolation-filters="sRGB"><feTurbulence type="fractalNoise" baseFrequency="0.85 0.45" numOctaves="1" seed="5" result="n"/><feColorMatrix in="n" type="matrix" values="1 0 0 0 0 1 0 0 0 0 1 0 0 0 0 0 0 0 0 1" result="ng"/><feComposite in="SourceGraphic" in2="ng" operator="arithmetic" k1="-0.28" k2="1.140" k3="0.36" k4="-0.180" result="s"/><feComponentTransfer in="s"><feFuncR type="table" tableValues="0 0 0 0 0 0 0 0 0 0 0 0 0 0 0 0 0 0 0 0 0 0 0 0 0 0 0 0 0 0 0 0 0 0 0 0 0 0 0 0 0 0 0 0 0 0 0 0 0 0 0 0 0 0 0 0 0 0 0 0 0 0 0 0 0 0 0 0 0 0 0 0.08 0.159 0.239 0.319 0.398 0.478 0.557 0.636 0.715 0.794 0.874 0.953 1 1 1 1 1 1 1 1 1 1 1 1 1 1 1 1 1 1 1 1 1 1 1 1 1 1 1 1 1 1 1 1 1 1 1 1 1 1 1 1 1 1 1"/><feFuncG type="table" tableValues="0 0 0 0 0 0 0 0 0 0 0 0 0 0 0 0 0 0 0 0 0 0 0 0 0 0 0 0 0 0 0 0 0 0 0 0 0.016 0.095 0.175 0.254 0.333 0.413 0.492 0.571 0.651 0.73 0.81 0.889 0.968 1 1 1 1 1 1 1 1 1 1 1 1 1 1 1 1 1 1 1 1 1 1 1 1 1 1 1 1 1 1 1 1 1 1 0.986 0.952 0.917 0.882 0.848 0.813 0.779 0.744 0.709 0.675 0.64 0.606 0.571 0.537 0.502 0.471 0.441 0.41 0.38 0.349 0.319 0.288 0.258 0.227 0.197 0.166 0.136 0.105 0.075 0.052 0.035 0.017 0 0 0 0 0 0 0 0 0 0 0"/><feFuncB type="table" tableValues="0 0 0 0 0 0 0 0 0 0 0 0 0 0 0 0 0 0 0 0 0 0 0.502 0.502 0.502 0.502 0.548 0.594 0.64 0.686 0.733 0.779 0.825 0.871 0.917 0.963 1 1 1 1 1 1 1 1 1 1 1 1 1 0.972 0.926 0.88 0.834 0.788 0.742 0.696 0.65 0.603 0.557 0.511 0.465 0.418 0.372 0.325 0.279 0.232 0.186 0.139 0.093 0.046 0 0 0 0 0 0 0 0 0 0 0 0 0 0 0 0 0 0 0 0 0 0 0 0 0 0 0 0 0 0 0 0 0 0 0 0 0 0 0 0 0 0 0 0 0 0 0 0 0 0 0 0 0 0 0 0"/></feComponentTransfer></filter><filter id="f4" filterUnits="userSpaceOnUse" x="0" y="0" width="420" height="77" color-interpolation-filters="sRGB"><feTurbulence type="fractalNoise" baseFrequency="0.85 0.45" numOctaves="1" seed="17" result="n"/><feColorMatrix in="n" type="matrix" values="1 0 0 0 0 1 0 0 0 0 1 0 0 0 0 0 0 0 0 1" result="ng"/><feComposite in="SourceGraphic" in2="ng" operator="arithmetic" k1="-0.28" k2="1.140" k3="0.36" k4="-0.180" result="s"/><feComponentTransfer in="s"><feFuncR type="table" tableValues="0 0 0 0 0 0 0 0 0 0 0 0 0 0 0 0 0 0 0 0 0 0 0 0 0 0 0 0 0 0 0 0 0 0 0 0 0 0 0 0 0 0 0 0 0 0 0 0 0 0 0 0 0 0 0 0 0 0 0 0 0 0 0 0 0 0 0 0 0 0 0 0.08 0.159 0.239 0.319 0.398 0.478 0.557 0.636 0.715 0.794 0.874 0.953 1 1 1 1 1 1 1 1 1 1 1 1 1 1 1 1 1 1 1 1 1 1 1 1 1 1 1 1 1 1 1 1 1 1 1 1 1 1 1 1 1 1 1"/><feFuncG type="table" tableValues="0 0 0 0 0 0 0 0 0 0 0 0 0 0 0 0 0 0 0 0 0 0 0 0 0 0 0 0 0 0 0 0 0 0 0 0 0.016 0.095 0.175 0.254 0.333 0.413 0.492 0.571 0.651 0.73 0.81 0.889 0.968 1 1 1 1 1 1 1 1 1 1 1 1 1 1 1 1 1 1 1 1 1 1 1 1 1 1 1 1 1 1 1 1 1 1 0.986 0.952 0.917 0.882 0.848 0.813 0.779 0.744 0.709 0.675 0.64 0.606 0.571 0.537 0.502 0.471 0.441 0.41 0.38 0.349 0.319 0.288 0.258 0.227 0.197 0.166 0.136 0.105 0.075 0.052 0.035 0.017 0 0 0 0 0 0 0 0 0 0 0"/><feFuncB type="table" tableValues="0 0 0 0 0 0 0 0 0 0 0 0 0 0 0 0 0 0 0 0 0 0 0.502 0.502 0.502 0.502 0.548 0.594 0.64 0.686 0.733 0.779 0.825 0.871 0.917 0.963 1 1 1 1 1 1 1 1 1 1 1 1 1 0.972 0.926 0.88 0.834 0.788 0.742 0.696 0.65 0.603 0.557 0.511 0.465 0.418 0.372 0.325 0.279 0.232 0.186 0.139 0.093 0.046 0 0 0 0 0 0 0 0 0 0 0 0 0 0 0 0 0 0 0 0 0 0 0 0 0 0 0 0 0 0 0 0 0 0 0 0 0 0 0 0 0 0 0 0 0 0 0 0 0 0 0 0 0 0 0 0"/></feComponentTransfer></filter><filter id="f5" filterUnits="userSpaceOnUse" x="0" y="0" width="420" height="77" color-interpolation-filters="sRGB"><feTurbulence type="fractalNoise" baseFrequency="0.85 0.45" numOctaves="1" seed="31" result="n"/><feColorMatrix in="n" type="matrix" values="1 0 0 0 0 1 0 0 0 0 1 0 0 0 0 0 0 0 0 1" result="ng"/><feComposite in="SourceGraphic" in2="ng" operator="arithmetic" k1="-0.28" k2="1.140" k3="0.36" k4="-0.180" result="s"/><feComponentTransfer in="s"><feFuncR type="table" tableValues="0 0 0 0 0 0 0 0 0 0 0 0 0 0 0 0 0 0 0 0 0 0 0 0 0 0 0 0 0 0 0 0 0 0 0 0 0 0 0 0 0 0 0 0 0 0 0 0 0 0 0 0 0 0 0 0 0 0 0 0 0 0 0 0 0 0 0 0 0 0 0 0.08 0.159 0.239 0.319 0.398 0.478 0.557 0.636 0.715 0.794 0.874 0.953 1 1 1 1 1 1 1 1 1 1 1 1 1 1 1 1 1 1 1 1 1 1 1 1 1 1 1 1 1 1 1 1 1 1 1 1 1 1 1 1 1 1 1"/><feFuncG type="table" tableValues="0 0 0 0 0 0 0 0 0 0 0 0 0 0 0 0 0 0 0 0 0 0 0 0 0 0 0 0 0 0 0 0 0 0 0 0 0.016 0.095 0.175 0.254 0.333 0.413 0.492 0.571 0.651 0.73 0.81 0.889 0.968 1 1 1 1 1 1 1 1 1 1 1 1 1 1 1 1 1 1 1 1 1 1 1 1 1 1 1 1 1 1 1 1 1 1 0.986 0.952 0.917 0.882 0.848 0.813 0.779 0.744 0.709 0.675 0.64 0.606 0.571 0.537 0.502 0.471 0.441 0.41 0.38 0.349 0.319 0.288 0.258 0.227 0.197 0.166 0.136 0.105 0.075 0.052 0.035 0.017 0 0 0 0 0 0 0 0 0 0 0"/><feFuncB type="table" tableValues="0 0 0 0 0 0 0 0 0 0 0 0 0 0 0 0 0 0 0 0 0 0 0.502 0.502 0.502 0.502 0.548 0.594 0.64 0.686 0.733 0.779 0.825 0.871 0.917 0.963 1 1 1 1 1 1 1 1 1 1 1 1 1 0.972 0.926 0.88 0.834 0.788 0.742 0.696 0.65 0.603 0.557 0.511 0.465 0.418 0.372 0.325 0.279 0.232 0.186 0.139 0.093 0.046 0 0 0 0 0 0 0 0 0 0 0 0 0 0 0 0 0 0 0 0 0 0 0 0 0 0 0 0 0 0 0 0 0 0 0 0 0 0 0 0 0 0 0 0 0 0 0 0 0 0 0 0 0 0 0 0"/></feComponentTransfer></filter>
</defs>
<g font-size="16.4">
<text x="122.2" y="33" textLength="40.2" lengthAdjust="spacingAndGlyphs">Polar</text>
<text x="172.2" y="33" textLength="26.2" lengthAdjust="spacingAndGlyphs">PWI</text>
<text x="208.2" y="33" textLength="39.4" lengthAdjust="spacingAndGlyphs">LFWR</text>
<text x="258.0" y="33" textLength="71.6" lengthAdjust="spacingAndGlyphs">Channels</text>
<text x="344.0" y="33" text-anchor="middle">1</text>
<text x="358.5" y="33" textLength="11.9" lengthAdjust="spacingAndGlyphs">–</text>
<text x="387.6" y="33" text-anchor="middle">6</text>
<text x="402.7" y="33" textLength="54.3" lengthAdjust="spacingAndGlyphs">Despun</text>
</g>
<text x="563" y="37.2" font-size="10.2" textLength="54.4" lengthAdjust="spacing">(V/m)²/Hz</text>
<text x="573" y="344" font-size="10.2" textLength="33.6" lengthAdjust="spacing">nT²/Hz</text>
<rect x="80" y="57" width="421" height="1"/>
<rect x="80" y="133" width="421" height="2"/>
<rect x="80" y="57" width="1" height="78"/>
<rect x="500" y="57" width="1" height="78"/>
<path d="M71 134h9v1h-9zM501 134h8v1h-8zM75 132h5v1h-5zM501 132h4v1h-4zM75 129h5v1h-5zM501 129h4v1h-4zM75 127h5v1h-5zM501 127h4v1h-4zM75 124h5v1h-5zM501 124h4v1h-4zM71 122h9v1h-9zM501 122h8v1h-8zM75 119h5v1h-5zM501 119h4v1h-4zM75 116h5v1h-5zM501 116h4v1h-4zM75 114h5v1h-5zM501 114h4v1h-4zM75 111h5v1h-5zM501 111h4v1h-4zM71 109h9v1h-9zM501 109h8v1h-8zM75 106h5v1h-5zM501 106h4v1h-4zM75 104h5v1h-5zM501 104h4v1h-4zM75 101h5v1h-5zM501 101h4v1h-4zM75 98h5v1h-5zM501 98h4v1h-4zM71 96h9v1h-9zM501 96h8v1h-8zM75 93h5v1h-5zM501 93h4v1h-4zM75 91h5v1h-5zM501 91h4v1h-4zM75 88h5v1h-5zM501 88h4v1h-4zM75 86h5v1h-5zM501 86h4v1h-4zM71 83h9v1h-9zM501 83h8v1h-8zM75 80h5v1h-5zM501 80h4v1h-4zM75 78h5v1h-5zM501 78h4v1h-4zM75 75h5v1h-5zM501 75h4v1h-4zM75 73h5v1h-5zM501 73h4v1h-4zM71 70h9v1h-9zM501 70h8v1h-8zM75 68h5v1h-5zM501 68h4v1h-4zM75 65h5v1h-5zM501 65h4v1h-4zM75 63h5v1h-5zM501 63h4v1h-4zM75 60h5v1h-5zM501 60h4v1h-4zM71 57h9v1h-9zM501 57h8v1h-8zM80 135h1v2h-1zM80 56h1v1h-1zM115 135h1v1h-1zM150 135h1v1h-1zM185 135h1v2h-1zM185 56h1v1h-1zM220 135h1v1h-1zM255 135h1v1h-1zM290 135h1v2h-1zM290 56h1v1h-1zM325 135h1v1h-1zM360 135h1v1h-1zM395 135h1v2h-1zM395 56h1v1h-1zM430 135h1v1h-1zM465 135h1v1h-1zM500 135h1v2h-1zM500 56h1v1h-1z" shape-rendering="crispEdges"/>
<text class="t13" x="67" y="66.0" text-anchor="end" letter-spacing="0.6">30</text>
<text class="t13" x="67" y="75.6" text-anchor="end" letter-spacing="0.6">25</text>
<text class="t13" x="67" y="88.6" text-anchor="end" letter-spacing="0.6">20</text>
<text class="t13" x="67" y="101.7" text-anchor="end" letter-spacing="0.6">15</text>
<text class="t13" x="67" y="114.7" text-anchor="end" letter-spacing="0.6">10</text>
<text class="t13" x="67" y="127.2" text-anchor="end" letter-spacing="0.6">5</text>
<text class="t13" x="67" y="134.6" text-anchor="end" letter-spacing="0.6">0</text>
<text class="t13" transform="translate(37.6 97.2) rotate(-90)" text-anchor="middle" textLength="86" lengthAdjust="spacing">Ex’ freq (Hz)</text>
<rect x="580" y="57" width="21" height="78" fill="url(#cb)"/>
<rect x="580" y="57" width="1" height="78"/><rect x="600" y="57" width="1" height="78"/>
<path d="M576 57h4v1h-4zM601 57h4v1h-4zM578 70h2v1h-2zM601 70h2v1h-2zM578 67h2v1h-2zM601 67h2v1h-2zM578 65h2v1h-2zM601 65h2v1h-2zM578 63h2v1h-2zM601 63h2v1h-2zM578 61h2v1h-2zM601 61h2v1h-2zM578 60h2v1h-2zM601 60h2v1h-2zM578 59h2v1h-2zM601 59h2v1h-2zM578 58h2v1h-2zM601 58h2v1h-2zM576 76h4v1h-4zM601 76h4v1h-4zM578 90h2v1h-2zM601 90h2v1h-2zM578 86h2v1h-2zM601 86h2v1h-2zM578 84h2v1h-2zM601 84h2v1h-2zM578 82h2v1h-2zM601 82h2v1h-2zM578 81h2v1h-2zM601 81h2v1h-2zM578 79h2v1h-2zM601 79h2v1h-2zM578 78h2v1h-2zM601 78h2v1h-2zM578 77h2v1h-2zM601 77h2v1h-2zM576 96h4v1h-4zM601 96h4v1h-4zM578 109h2v1h-2zM601 109h2v1h-2zM578 106h2v1h-2zM601 106h2v1h-2zM578 103h2v1h-2zM601 103h2v1h-2zM578 101h2v1h-2zM601 101h2v1h-2zM578 100h2v1h-2zM601 100h2v1h-2zM578 98h2v1h-2zM601 98h2v1h-2zM578 97h2v1h-2zM601 97h2v1h-2zM578 96h2v1h-2zM601 96h2v1h-2zM576 115h4v1h-4zM601 115h4v1h-4zM578 128h2v1h-2zM601 128h2v1h-2zM578 125h2v1h-2zM601 125h2v1h-2zM578 122h2v1h-2zM601 122h2v1h-2zM578 121h2v1h-2zM601 121h2v1h-2zM578 119h2v1h-2zM601 119h2v1h-2zM578 118h2v1h-2zM601 118h2v1h-2zM578 117h2v1h-2zM601 117h2v1h-2zM578 116h2v1h-2zM601 116h2v1h-2zM576 134h4v1h-4zM601 134h4v1h-4z" shape-rendering="crispEdges"/>
<text class="t13" x="551.9" y="66.2" text-anchor="end" letter-spacing="0.7">10</text><text font-size="12.2" x="553.5" y="59.9" textLength="9.0" lengthAdjust="spacingAndGlyphs">−</text><text font-size="12.2" x="571.6" y="59.9" text-anchor="end" letter-spacing="0.6">6</text>
<text class="t13" x="551.9" y="81.5" text-anchor="end" letter-spacing="0.7">10</text><text font-size="12.2" x="553.5" y="75.2" textLength="9.0" lengthAdjust="spacingAndGlyphs">−</text><text font-size="12.2" x="571.6" y="75.2" text-anchor="end" letter-spacing="0.6">7</text>
<text class="t13" x="551.9" y="100.8" text-anchor="end" letter-spacing="0.7">10</text><text font-size="12.2" x="553.5" y="94.5" textLength="9.0" lengthAdjust="spacingAndGlyphs">−</text><text font-size="12.2" x="571.6" y="94.5" text-anchor="end" letter-spacing="0.6">8</text>
<text class="t13" x="551.9" y="120.0" text-anchor="end" letter-spacing="0.7">10</text><text font-size="12.2" x="553.5" y="113.8" textLength="9.0" lengthAdjust="spacingAndGlyphs">−</text><text font-size="12.2" x="571.6" y="113.8" text-anchor="end" letter-spacing="0.6">9</text>
<text class="t13" x="543.6" y="134.6" text-anchor="end" letter-spacing="0.7">10</text><text font-size="12.2" x="545.2" y="128.3" textLength="8.6" lengthAdjust="spacingAndGlyphs">−</text><text font-size="12.2" x="571.6" y="128.3" text-anchor="end" letter-spacing="0.6">10</text>
<rect x="80" y="153" width="421" height="1"/>
<rect x="80" y="229" width="421" height="2"/>
<rect x="80" y="153" width="1" height="78"/>
<rect x="500" y="153" width="1" height="78"/>
<path d="M71 230h9v1h-9zM501 230h8v1h-8zM75 228h5v1h-5zM501 228h4v1h-4zM75 225h5v1h-5zM501 225h4v1h-4zM75 223h5v1h-5zM501 223h4v1h-4zM75 220h5v1h-5zM501 220h4v1h-4zM71 218h9v1h-9zM501 218h8v1h-8zM75 215h5v1h-5zM501 215h4v1h-4zM75 212h5v1h-5zM501 212h4v1h-4zM75 210h5v1h-5zM501 210h4v1h-4zM75 207h5v1h-5zM501 207h4v1h-4zM71 205h9v1h-9zM501 205h8v1h-8zM75 202h5v1h-5zM501 202h4v1h-4zM75 200h5v1h-5zM501 200h4v1h-4zM75 197h5v1h-5zM501 197h4v1h-4zM75 194h5v1h-5zM501 194h4v1h-4zM71 192h9v1h-9zM501 192h8v1h-8zM75 189h5v1h-5zM501 189h4v1h-4zM75 187h5v1h-5zM501 187h4v1h-4zM75 184h5v1h-5zM501 184h4v1h-4zM75 182h5v1h-5zM501 182h4v1h-4zM71 179h9v1h-9zM501 179h8v1h-8zM75 176h5v1h-5zM501 176h4v1h-4zM75 174h5v1h-5zM501 174h4v1h-4zM75 171h5v1h-5zM501 171h4v1h-4zM75 169h5v1h-5zM501 169h4v1h-4zM71 166h9v1h-9zM501 166h8v1h-8zM75 164h5v1h-5zM501 164h4v1h-4zM75 161h5v1h-5zM501 161h4v1h-4zM75 159h5v1h-5zM501 159h4v1h-4zM75 156h5v1h-5zM501 156h4v1h-4zM71 153h9v1h-9zM501 153h8v1h-8zM80 231h1v2h-1zM80 152h1v1h-1zM115 231h1v1h-1zM150 231h1v1h-1zM185 231h1v2h-1zM185 152h1v1h-1zM220 231h1v1h-1zM255 231h1v1h-1zM290 231h1v2h-1zM290 152h1v1h-1zM325 231h1v1h-1zM360 231h1v1h-1zM395 231h1v2h-1zM395 152h1v1h-1zM430 231h1v1h-1zM465 231h1v1h-1zM500 231h1v2h-1zM500 152h1v1h-1z" shape-rendering="crispEdges"/>
<text class="t13" x="67" y="162.0" text-anchor="end" letter-spacing="0.6">30</text>
<text class="t13" x="67" y="171.6" text-anchor="end" letter-spacing="0.6">25</text>
<text class="t13" x="67" y="184.6" text-anchor="end" letter-spacing="0.6">20</text>
<text class="t13" x="67" y="197.7" text-anchor="end" letter-spacing="0.6">15</text>
<text class="t13" x="67" y="210.7" text-anchor="end" letter-spacing="0.6">10</text>
<text class="t13" x="67" y="223.2" text-anchor="end" letter-spacing="0.6">5</text>
<text class="t13" x="67" y="230.6" text-anchor="end" letter-spacing="0.6">0</text>
<text class="t13" transform="translate(37.6 193.2) rotate(-90)" text-anchor="middle" textLength="86" lengthAdjust="spacing">Ey’ freq (Hz)</text>
<rect x="580" y="153" width="21" height="78" fill="url(#cb)"/>
<rect x="580" y="153" width="1" height="78"/><rect x="600" y="153" width="1" height="78"/>
<path d="M576 153h4v1h-4zM601 153h4v1h-4zM578 166h2v1h-2zM601 166h2v1h-2zM578 163h2v1h-2zM601 163h2v1h-2zM578 161h2v1h-2zM601 161h2v1h-2zM578 159h2v1h-2zM601 159h2v1h-2zM578 157h2v1h-2zM601 157h2v1h-2zM578 156h2v1h-2zM601 156h2v1h-2zM578 155h2v1h-2zM601 155h2v1h-2zM578 154h2v1h-2zM601 154h2v1h-2zM576 172h4v1h-4zM601 172h4v1h-4zM578 186h2v1h-2zM601 186h2v1h-2zM578 182h2v1h-2zM601 182h2v1h-2zM578 180h2v1h-2zM601 180h2v1h-2zM578 178h2v1h-2zM601 178h2v1h-2zM578 177h2v1h-2zM601 177h2v1h-2zM578 175h2v1h-2zM601 175h2v1h-2zM578 174h2v1h-2zM601 174h2v1h-2zM578 173h2v1h-2zM601 173h2v1h-2zM576 192h4v1h-4zM601 192h4v1h-4zM578 205h2v1h-2zM601 205h2v1h-2zM578 202h2v1h-2zM601 202h2v1h-2zM578 199h2v1h-2zM601 199h2v1h-2zM578 197h2v1h-2zM601 197h2v1h-2zM578 196h2v1h-2zM601 196h2v1h-2zM578 194h2v1h-2zM601 194h2v1h-2zM578 193h2v1h-2zM601 193h2v1h-2zM578 192h2v1h-2zM601 192h2v1h-2zM576 211h4v1h-4zM601 211h4v1h-4zM578 224h2v1h-2zM601 224h2v1h-2zM578 221h2v1h-2zM601 221h2v1h-2zM578 218h2v1h-2zM601 218h2v1h-2zM578 217h2v1h-2zM601 217h2v1h-2zM578 215h2v1h-2zM601 215h2v1h-2zM578 214h2v1h-2zM601 214h2v1h-2zM578 213h2v1h-2zM601 213h2v1h-2zM578 212h2v1h-2zM601 212h2v1h-2zM576 230h4v1h-4zM601 230h4v1h-4z" shape-rendering="crispEdges"/>
<text class="t13" x="551.9" y="162.2" text-anchor="end" letter-spacing="0.7">10</text><text font-size="12.2" x="553.5" y="155.9" textLength="9.0" lengthAdjust="spacingAndGlyphs">−</text><text font-size="12.2" x="571.6" y="155.9" text-anchor="end" letter-spacing="0.6">6</text>
<text class="t13" x="551.9" y="177.6" text-anchor="end" letter-spacing="0.7">10</text><text font-size="12.2" x="553.5" y="171.2" textLength="9.0" lengthAdjust="spacingAndGlyphs">−</text><text font-size="12.2" x="571.6" y="171.2" text-anchor="end" letter-spacing="0.6">7</text>
<text class="t13" x="551.9" y="196.8" text-anchor="end" letter-spacing="0.7">10</text><text font-size="12.2" x="553.5" y="190.5" textLength="9.0" lengthAdjust="spacingAndGlyphs">−</text><text font-size="12.2" x="571.6" y="190.5" text-anchor="end" letter-spacing="0.6">8</text>
<text class="t13" x="551.9" y="216.1" text-anchor="end" letter-spacing="0.7">10</text><text font-size="12.2" x="553.5" y="209.8" textLength="9.0" lengthAdjust="spacingAndGlyphs">−</text><text font-size="12.2" x="571.6" y="209.8" text-anchor="end" letter-spacing="0.6">9</text>
<text class="t13" x="543.6" y="230.6" text-anchor="end" letter-spacing="0.7">10</text><text font-size="12.2" x="545.2" y="224.3" textLength="8.6" lengthAdjust="spacingAndGlyphs">−</text><text font-size="12.2" x="571.6" y="224.3" text-anchor="end" letter-spacing="0.6">10</text>
<rect x="80" y="249" width="421" height="1"/>
<rect x="80" y="325" width="421" height="2"/>
<rect x="80" y="249" width="1" height="78"/>
<rect x="500" y="249" width="1" height="78"/>
<path d="M71 326h9v1h-9zM501 326h8v1h-8zM75 324h5v1h-5zM501 324h4v1h-4zM75 321h5v1h-5zM501 321h4v1h-4zM75 319h5v1h-5zM501 319h4v1h-4zM75 316h5v1h-5zM501 316h4v1h-4zM71 314h9v1h-9zM501 314h8v1h-8zM75 311h5v1h-5zM501 311h4v1h-4zM75 308h5v1h-5zM501 308h4v1h-4zM75 306h5v1h-5zM501 306h4v1h-4zM75 303h5v1h-5zM501 303h4v1h-4zM71 301h9v1h-9zM501 301h8v1h-8zM75 298h5v1h-5zM501 298h4v1h-4zM75 296h5v1h-5zM501 296h4v1h-4zM75 293h5v1h-5zM501 293h4v1h-4zM75 290h5v1h-5zM501 290h4v1h-4zM71 288h9v1h-9zM501 288h8v1h-8zM75 285h5v1h-5zM501 285h4v1h-4zM75 283h5v1h-5zM501 283h4v1h-4zM75 280h5v1h-5zM501 280h4v1h-4zM75 278h5v1h-5zM501 278h4v1h-4zM71 275h9v1h-9zM501 275h8v1h-8zM75 272h5v1h-5zM501 272h4v1h-4zM75 270h5v1h-5zM501 270h4v1h-4zM75 267h5v1h-5zM501 267h4v1h-4zM75 265h5v1h-5zM501 265h4v1h-4zM71 262h9v1h-9zM501 262h8v1h-8zM75 260h5v1h-5zM501 260h4v1h-4zM75 257h5v1h-5zM501 257h4v1h-4zM75 255h5v1h-5zM501 255h4v1h-4zM75 252h5v1h-5zM501 252h4v1h-4zM71 249h9v1h-9zM501 249h8v1h-8zM80 327h1v2h-1zM80 248h1v1h-1zM115 327h1v1h-1zM150 327h1v1h-1zM185 327h1v2h-1zM185 248h1v1h-1zM220 327h1v1h-1zM255 327h1v1h-1zM290 327h1v2h-1zM290 248h1v1h-1zM325 327h1v1h-1zM360 327h1v1h-1zM395 327h1v2h-1zM395 248h1v1h-1zM430 327h1v1h-1zM465 327h1v1h-1zM500 327h1v2h-1zM500 248h1v1h-1z" shape-rendering="crispEdges"/>
<text class="t13" x="67" y="258.0" text-anchor="end" letter-spacing="0.6">30</text>
<text class="t13" x="67" y="267.6" text-anchor="end" letter-spacing="0.6">25</text>
<text class="t13" x="67" y="280.6" text-anchor="end" letter-spacing="0.6">20</text>
<text class="t13" x="67" y="293.7" text-anchor="end" letter-spacing="0.6">15</text>
<text class="t13" x="67" y="306.7" text-anchor="end" letter-spacing="0.6">10</text>
<text class="t13" x="67" y="319.2" text-anchor="end" letter-spacing="0.6">5</text>
<text class="t13" x="67" y="326.6" text-anchor="end" letter-spacing="0.6">0</text>
<text class="t13" transform="translate(37.6 289.2) rotate(-90)" text-anchor="middle" textLength="80.5" lengthAdjust="spacing">Ez freq (Hz)</text>
<rect x="580" y="249" width="21" height="78" fill="url(#cb)"/>
<rect x="580" y="249" width="1" height="78"/><rect x="600" y="249" width="1" height="78"/>
<path d="M576 249h4v1h-4zM601 249h4v1h-4zM578 267h2v1h-2zM601 267h2v1h-2zM578 262h2v1h-2zM601 262h2v1h-2zM578 259h2v1h-2zM601 259h2v1h-2zM578 257h2v1h-2zM601 257h2v1h-2zM578 255h2v1h-2zM601 255h2v1h-2zM578 253h2v1h-2zM601 253h2v1h-2zM578 251h2v1h-2zM601 251h2v1h-2zM578 250h2v1h-2zM601 250h2v1h-2zM576 275h4v1h-4zM601 275h4v1h-4zM578 293h2v1h-2zM601 293h2v1h-2zM578 288h2v1h-2zM601 288h2v1h-2zM578 285h2v1h-2zM601 285h2v1h-2zM578 282h2v1h-2zM601 282h2v1h-2zM578 280h2v1h-2zM601 280h2v1h-2zM578 279h2v1h-2zM601 279h2v1h-2zM578 277h2v1h-2zM601 277h2v1h-2zM578 276h2v1h-2zM601 276h2v1h-2zM576 300h4v1h-4zM601 300h4v1h-4zM578 318h2v1h-2zM601 318h2v1h-2zM578 314h2v1h-2zM601 314h2v1h-2zM578 311h2v1h-2zM601 311h2v1h-2zM578 308h2v1h-2zM601 308h2v1h-2zM578 306h2v1h-2zM601 306h2v1h-2zM578 304h2v1h-2zM601 304h2v1h-2zM578 303h2v1h-2zM601 303h2v1h-2zM578 302h2v1h-2zM601 302h2v1h-2zM576 326h4v1h-4zM601 326h4v1h-4z" shape-rendering="crispEdges"/>
<text class="t13" x="551.9" y="258.2" text-anchor="end" letter-spacing="0.7">10</text><text font-size="12.2" x="553.5" y="251.9" textLength="9.0" lengthAdjust="spacingAndGlyphs">−</text><text font-size="12.2" x="571.6" y="251.9" text-anchor="end" letter-spacing="0.6">6</text>
<text class="t13" x="551.9" y="280.0" text-anchor="end" letter-spacing="0.7">10</text><text font-size="12.2" x="553.5" y="273.7" textLength="9.0" lengthAdjust="spacingAndGlyphs">−</text><text font-size="12.2" x="571.6" y="273.7" text-anchor="end" letter-spacing="0.6">7</text>
<text class="t13" x="551.9" y="305.6" text-anchor="end" letter-spacing="0.7">10</text><text font-size="12.2" x="553.5" y="299.3" textLength="9.0" lengthAdjust="spacingAndGlyphs">−</text><text font-size="12.2" x="571.6" y="299.3" text-anchor="end" letter-spacing="0.6">8</text>
<text class="t13" x="551.9" y="326.6" text-anchor="end" letter-spacing="0.7">10</text><text font-size="12.2" x="553.5" y="320.3" textLength="9.0" lengthAdjust="spacingAndGlyphs">−</text><text font-size="12.2" x="571.6" y="320.3" text-anchor="end" letter-spacing="0.6">9</text>
<rect x="80" y="364" width="421" height="1"/>
<rect x="80" y="440" width="421" height="2"/>
<rect x="80" y="364" width="1" height="78"/>
<rect x="500" y="364" width="1" height="78"/>
<path d="M71 441h9v1h-9zM501 441h8v1h-8zM75 439h5v1h-5zM501 439h4v1h-4zM75 436h5v1h-5zM501 436h4v1h-4zM75 434h5v1h-5zM501 434h4v1h-4zM75 431h5v1h-5zM501 431h4v1h-4zM71 429h9v1h-9zM501 429h8v1h-8zM75 426h5v1h-5zM501 426h4v1h-4zM75 423h5v1h-5zM501 423h4v1h-4zM75 421h5v1h-5zM501 421h4v1h-4zM75 418h5v1h-5zM501 418h4v1h-4zM71 416h9v1h-9zM501 416h8v1h-8zM75 413h5v1h-5zM501 413h4v1h-4zM75 411h5v1h-5zM501 411h4v1h-4zM75 408h5v1h-5zM501 408h4v1h-4zM75 405h5v1h-5zM501 405h4v1h-4zM71 403h9v1h-9zM501 403h8v1h-8zM75 400h5v1h-5zM501 400h4v1h-4zM75 398h5v1h-5zM501 398h4v1h-4zM75 395h5v1h-5zM501 395h4v1h-4zM75 393h5v1h-5zM501 393h4v1h-4zM71 390h9v1h-9zM501 390h8v1h-8zM75 388h5v1h-5zM501 388h4v1h-4zM75 385h5v1h-5zM501 385h4v1h-4zM75 382h5v1h-5zM501 382h4v1h-4zM75 380h5v1h-5zM501 380h4v1h-4zM71 377h9v1h-9zM501 377h8v1h-8zM75 375h5v1h-5zM501 375h4v1h-4zM75 372h5v1h-5zM501 372h4v1h-4zM75 370h5v1h-5zM501 370h4v1h-4zM75 367h5v1h-5zM501 367h4v1h-4zM71 364h9v1h-9zM501 364h8v1h-8zM80 442h1v2h-1zM80 363h1v1h-1zM115 442h1v1h-1zM150 442h1v1h-1zM185 442h1v2h-1zM185 363h1v1h-1zM220 442h1v1h-1zM255 442h1v1h-1zM290 442h1v2h-1zM290 363h1v1h-1zM325 442h1v1h-1zM360 442h1v1h-1zM395 442h1v2h-1zM395 363h1v1h-1zM430 442h1v1h-1zM465 442h1v1h-1zM500 442h1v2h-1zM500 363h1v1h-1z" shape-rendering="crispEdges"/>
<text class="t13" x="67" y="373.0" text-anchor="end" letter-spacing="0.6">30</text>
<text class="t13" x="67" y="382.6" text-anchor="end" letter-spacing="0.6">25</text>
<text class="t13" x="67" y="395.6" text-anchor="end" letter-spacing="0.6">20</text>
<text class="t13" x="67" y="408.7" text-anchor="end" letter-spacing="0.6">15</text>
<text class="t13" x="67" y="421.7" text-anchor="end" letter-spacing="0.6">10</text>
<text class="t13" x="67" y="434.2" text-anchor="end" letter-spacing="0.6">5</text>
<text class="t13" x="67" y="441.6" text-anchor="end" letter-spacing="0.6">0</text>
<text class="t13" transform="translate(37.6 404.2) rotate(-90)" text-anchor="middle" textLength="86" lengthAdjust="spacing">Bx’ freq (Hz)</text>
<rect x="580" y="364" width="21" height="78" fill="url(#cb)"/>
<rect x="580" y="364" width="1" height="78"/><rect x="600" y="364" width="1" height="78"/>
<path d="M576 364h4v1h-4zM601 364h4v1h-4zM578 375h2v1h-2zM601 375h2v1h-2zM578 372h2v1h-2zM601 372h2v1h-2zM578 370h2v1h-2zM601 370h2v1h-2zM578 369h2v1h-2zM601 369h2v1h-2zM578 367h2v1h-2zM601 367h2v1h-2zM578 366h2v1h-2zM601 366h2v1h-2zM578 365h2v1h-2zM601 365h2v1h-2zM578 365h2v1h-2zM601 365h2v1h-2zM576 379h4v1h-4zM601 379h4v1h-4zM578 390h2v1h-2zM601 390h2v1h-2zM578 387h2v1h-2zM601 387h2v1h-2zM578 386h2v1h-2zM601 386h2v1h-2zM578 384h2v1h-2zM601 384h2v1h-2zM578 383h2v1h-2zM601 383h2v1h-2zM578 382h2v1h-2zM601 382h2v1h-2zM578 381h2v1h-2zM601 381h2v1h-2zM578 380h2v1h-2zM601 380h2v1h-2zM576 395h4v1h-4zM601 395h4v1h-4zM578 406h2v1h-2zM601 406h2v1h-2zM578 403h2v1h-2zM601 403h2v1h-2zM578 401h2v1h-2zM601 401h2v1h-2zM578 399h2v1h-2zM601 399h2v1h-2zM578 398h2v1h-2zM601 398h2v1h-2zM578 397h2v1h-2zM601 397h2v1h-2zM578 396h2v1h-2zM601 396h2v1h-2zM578 396h2v1h-2zM601 396h2v1h-2zM576 410h4v1h-4zM601 410h4v1h-4zM578 421h2v1h-2zM601 421h2v1h-2zM578 418h2v1h-2zM601 418h2v1h-2zM578 416h2v1h-2zM601 416h2v1h-2zM578 415h2v1h-2zM601 415h2v1h-2zM578 414h2v1h-2zM601 414h2v1h-2zM578 413h2v1h-2zM601 413h2v1h-2zM578 412h2v1h-2zM601 412h2v1h-2zM578 411h2v1h-2zM601 411h2v1h-2zM576 426h4v1h-4zM601 426h4v1h-4zM578 436h2v1h-2zM601 436h2v1h-2zM578 434h2v1h-2zM601 434h2v1h-2zM578 432h2v1h-2zM601 432h2v1h-2zM578 430h2v1h-2zM601 430h2v1h-2zM578 429h2v1h-2zM601 429h2v1h-2zM578 428h2v1h-2zM601 428h2v1h-2zM578 427h2v1h-2zM601 427h2v1h-2zM578 426h2v1h-2zM601 426h2v1h-2zM576 441h4v1h-4zM601 441h4v1h-4z" shape-rendering="crispEdges"/>
<text class="t13" x="551.9" y="373.2" text-anchor="end" letter-spacing="0.7">10</text><text font-size="12.2" x="553.5" y="366.9" textLength="9.0" lengthAdjust="spacingAndGlyphs">−</text><text font-size="12.2" x="571.6" y="366.9" text-anchor="end" letter-spacing="0.6">1</text>
<text class="t13" x="551.9" y="384.7" text-anchor="end" letter-spacing="0.7">10</text><text font-size="12.2" x="553.5" y="378.4" textLength="9.0" lengthAdjust="spacingAndGlyphs">−</text><text font-size="12.2" x="571.6" y="378.4" text-anchor="end" letter-spacing="0.6">2</text>
<text class="t13" x="551.9" y="400.1" text-anchor="end" letter-spacing="0.7">10</text><text font-size="12.2" x="553.5" y="393.8" textLength="9.0" lengthAdjust="spacingAndGlyphs">−</text><text font-size="12.2" x="571.6" y="393.8" text-anchor="end" letter-spacing="0.6">3</text>
<text class="t13" x="551.9" y="415.5" text-anchor="end" letter-spacing="0.7">10</text><text font-size="12.2" x="553.5" y="409.2" textLength="9.0" lengthAdjust="spacingAndGlyphs">−</text><text font-size="12.2" x="571.6" y="409.2" text-anchor="end" letter-spacing="0.6">4</text>
<text class="t13" x="551.9" y="430.9" text-anchor="end" letter-spacing="0.7">10</text><text font-size="12.2" x="553.5" y="424.6" textLength="9.0" lengthAdjust="spacingAndGlyphs">−</text><text font-size="12.2" x="571.6" y="424.6" text-anchor="end" letter-spacing="0.6">5</text>
<text class="t13" x="551.9" y="441.6" text-anchor="end" letter-spacing="0.7">10</text><text font-size="12.2" x="553.5" y="435.3" textLength="9.0" lengthAdjust="spacingAndGlyphs">−</text><text font-size="12.2" x="571.6" y="435.3" text-anchor="end" letter-spacing="0.6">6</text>
<rect x="80" y="460" width="421" height="1"/>
<rect x="80" y="536" width="421" height="2"/>
<rect x="80" y="460" width="1" height="78"/>
<rect x="500" y="460" width="1" height="78"/>
<path d="M71 537h9v1h-9zM501 537h8v1h-8zM75 535h5v1h-5zM501 535h4v1h-4zM75 532h5v1h-5zM501 532h4v1h-4zM75 530h5v1h-5zM501 530h4v1h-4zM75 527h5v1h-5zM501 527h4v1h-4zM71 525h9v1h-9zM501 525h8v1h-8zM75 522h5v1h-5zM501 522h4v1h-4zM75 519h5v1h-5zM501 519h4v1h-4zM75 517h5v1h-5zM501 517h4v1h-4zM75 514h5v1h-5zM501 514h4v1h-4zM71 512h9v1h-9zM501 512h8v1h-8zM75 509h5v1h-5zM501 509h4v1h-4zM75 507h5v1h-5zM501 507h4v1h-4zM75 504h5v1h-5zM501 504h4v1h-4zM75 501h5v1h-5zM501 501h4v1h-4zM71 499h9v1h-9zM501 499h8v1h-8zM75 496h5v1h-5zM501 496h4v1h-4zM75 494h5v1h-5zM501 494h4v1h-4zM75 491h5v1h-5zM501 491h4v1h-4zM75 489h5v1h-5zM501 489h4v1h-4zM71 486h9v1h-9zM501 486h8v1h-8zM75 484h5v1h-5zM501 484h4v1h-4zM75 481h5v1h-5zM501 481h4v1h-4zM75 478h5v1h-5zM501 478h4v1h-4zM75 476h5v1h-5zM501 476h4v1h-4zM71 473h9v1h-9zM501 473h8v1h-8zM75 471h5v1h-5zM501 471h4v1h-4zM75 468h5v1h-5zM501 468h4v1h-4zM75 466h5v1h-5zM501 466h4v1h-4zM75 463h5v1h-5zM501 463h4v1h-4zM71 460h9v1h-9zM501 460h8v1h-8zM80 538h1v2h-1zM80 459h1v1h-1zM115 538h1v1h-1zM150 538h1v1h-1zM185 538h1v2h-1zM185 459h1v1h-1zM220 538h1v1h-1zM255 538h1v1h-1zM290 538h1v2h-1zM290 459h1v1h-1zM325 538h1v1h-1zM360 538h1v1h-1zM395 538h1v2h-1zM395 459h1v1h-1zM430 538h1v1h-1zM465 538h1v1h-1zM500 538h1v2h-1zM500 459h1v1h-1z" shape-rendering="crispEdges"/>
<text class="t13" x="67" y="469.0" text-anchor="end" letter-spacing="0.6">30</text>
<text class="t13" x="67" y="478.6" text-anchor="end" letter-spacing="0.6">25</text>
<text class="t13" x="67" y="491.6" text-anchor="end" letter-spacing="0.6">20</text>
<text class="t13" x="67" y="504.7" text-anchor="end" letter-spacing="0.6">15</text>
<text class="t13" x="67" y="517.7" text-anchor="end" letter-spacing="0.6">10</text>
<text class="t13" x="67" y="530.2" text-anchor="end" letter-spacing="0.6">5</text>
<text class="t13" x="67" y="537.6" text-anchor="end" letter-spacing="0.6">0</text>
<text class="t13" transform="translate(37.6 500.2) rotate(-90)" text-anchor="middle" textLength="86" lengthAdjust="spacing">By’ freq (Hz)</text>
<rect x="580" y="460" width="21" height="78" fill="url(#cb)"/>
<rect x="580" y="460" width="1" height="78"/><rect x="600" y="460" width="1" height="78"/>
<path d="M576 460h4v1h-4zM601 460h4v1h-4zM578 471h2v1h-2zM601 471h2v1h-2zM578 468h2v1h-2zM601 468h2v1h-2zM578 466h2v1h-2zM601 466h2v1h-2zM578 465h2v1h-2zM601 465h2v1h-2zM578 463h2v1h-2zM601 463h2v1h-2zM578 462h2v1h-2zM601 462h2v1h-2zM578 461h2v1h-2zM601 461h2v1h-2zM578 461h2v1h-2zM601 461h2v1h-2zM576 475h4v1h-4zM601 475h4v1h-4zM578 486h2v1h-2zM601 486h2v1h-2zM578 483h2v1h-2zM601 483h2v1h-2zM578 482h2v1h-2zM601 482h2v1h-2zM578 480h2v1h-2zM601 480h2v1h-2zM578 479h2v1h-2zM601 479h2v1h-2zM578 478h2v1h-2zM601 478h2v1h-2zM578 477h2v1h-2zM601 477h2v1h-2zM578 476h2v1h-2zM601 476h2v1h-2zM576 491h4v1h-4zM601 491h4v1h-4zM578 502h2v1h-2zM601 502h2v1h-2zM578 499h2v1h-2zM601 499h2v1h-2zM578 497h2v1h-2zM601 497h2v1h-2zM578 495h2v1h-2zM601 495h2v1h-2zM578 494h2v1h-2zM601 494h2v1h-2zM578 493h2v1h-2zM601 493h2v1h-2zM578 492h2v1h-2zM601 492h2v1h-2zM578 492h2v1h-2zM601 492h2v1h-2zM576 506h4v1h-4zM601 506h4v1h-4zM578 517h2v1h-2zM601 517h2v1h-2zM578 514h2v1h-2zM601 514h2v1h-2zM578 512h2v1h-2zM601 512h2v1h-2zM578 511h2v1h-2zM601 511h2v1h-2zM578 510h2v1h-2zM601 510h2v1h-2zM578 509h2v1h-2zM601 509h2v1h-2zM578 508h2v1h-2zM601 508h2v1h-2zM578 507h2v1h-2zM601 507h2v1h-2zM576 522h4v1h-4zM601 522h4v1h-4zM578 532h2v1h-2zM601 532h2v1h-2zM578 530h2v1h-2zM601 530h2v1h-2zM578 528h2v1h-2zM601 528h2v1h-2zM578 526h2v1h-2zM601 526h2v1h-2zM578 525h2v1h-2zM601 525h2v1h-2zM578 524h2v1h-2zM601 524h2v1h-2zM578 523h2v1h-2zM601 523h2v1h-2zM578 522h2v1h-2zM601 522h2v1h-2zM576 537h4v1h-4zM601 537h4v1h-4z" shape-rendering="crispEdges"/>
<text class="t13" x="551.9" y="469.2" text-anchor="end" letter-spacing="0.7">10</text><text font-size="12.2" x="553.5" y="462.9" textLength="9.0" lengthAdjust="spacingAndGlyphs">−</text><text font-size="12.2" x="571.6" y="462.9" text-anchor="end" letter-spacing="0.6">1</text>
<text class="t13" x="551.9" y="480.7" text-anchor="end" letter-spacing="0.7">10</text><text font-size="12.2" x="553.5" y="474.4" textLength="9.0" lengthAdjust="spacingAndGlyphs">−</text><text font-size="12.2" x="571.6" y="474.4" text-anchor="end" letter-spacing="0.6">2</text>
<text class="t13" x="551.9" y="496.1" text-anchor="end" letter-spacing="0.7">10</text><text font-size="12.2" x="553.5" y="489.8" textLength="9.0" lengthAdjust="spacingAndGlyphs">−</text><text font-size="12.2" x="571.6" y="489.8" text-anchor="end" letter-spacing="0.6">3</text>
<text class="t13" x="551.9" y="511.5" text-anchor="end" letter-spacing="0.7">10</text><text font-size="12.2" x="553.5" y="505.2" textLength="9.0" lengthAdjust="spacingAndGlyphs">−</text><text font-size="12.2" x="571.6" y="505.2" text-anchor="end" letter-spacing="0.6">4</text>
<text class="t13" x="551.9" y="526.9" text-anchor="end" letter-spacing="0.7">10</text><text font-size="12.2" x="553.5" y="520.6" textLength="9.0" lengthAdjust="spacingAndGlyphs">−</text><text font-size="12.2" x="571.6" y="520.6" text-anchor="end" letter-spacing="0.6">5</text>
<text class="t13" x="551.9" y="537.6" text-anchor="end" letter-spacing="0.7">10</text><text font-size="12.2" x="553.5" y="531.3" textLength="9.0" lengthAdjust="spacingAndGlyphs">−</text><text font-size="12.2" x="571.6" y="531.3" text-anchor="end" letter-spacing="0.6">6</text>
<rect x="80" y="556" width="421" height="1"/>
<rect x="80" y="632" width="421" height="2"/>
<rect x="80" y="556" width="1" height="78"/>
<rect x="500" y="556" width="1" height="78"/>
<path d="M71 633h9v1h-9zM501 633h8v1h-8zM75 631h5v1h-5zM501 631h4v1h-4zM75 628h5v1h-5zM501 628h4v1h-4zM75 626h5v1h-5zM501 626h4v1h-4zM75 623h5v1h-5zM501 623h4v1h-4zM71 621h9v1h-9zM501 621h8v1h-8zM75 618h5v1h-5zM501 618h4v1h-4zM75 615h5v1h-5zM501 615h4v1h-4zM75 613h5v1h-5zM501 613h4v1h-4zM75 610h5v1h-5zM501 610h4v1h-4zM71 608h9v1h-9zM501 608h8v1h-8zM75 605h5v1h-5zM501 605h4v1h-4zM75 603h5v1h-5zM501 603h4v1h-4zM75 600h5v1h-5zM501 600h4v1h-4zM75 597h5v1h-5zM501 597h4v1h-4zM71 595h9v1h-9zM501 595h8v1h-8zM75 592h5v1h-5zM501 592h4v1h-4zM75 590h5v1h-5zM501 590h4v1h-4zM75 587h5v1h-5zM501 587h4v1h-4zM75 585h5v1h-5zM501 585h4v1h-4zM71 582h9v1h-9zM501 582h8v1h-8zM75 580h5v1h-5zM501 580h4v1h-4zM75 577h5v1h-5zM501 577h4v1h-4zM75 574h5v1h-5zM501 574h4v1h-4zM75 572h5v1h-5zM501 572h4v1h-4zM71 569h9v1h-9zM501 569h8v1h-8zM75 567h5v1h-5zM501 567h4v1h-4zM75 564h5v1h-5zM501 564h4v1h-4zM75 562h5v1h-5zM501 562h4v1h-4zM75 559h5v1h-5zM501 559h4v1h-4zM71 556h9v1h-9zM501 556h8v1h-8zM80 634h1v2h-1zM80 555h1v1h-1zM115 634h1v1h-1zM150 634h1v1h-1zM185 634h1v2h-1zM185 555h1v1h-1zM220 634h1v1h-1zM255 634h1v1h-1zM290 634h1v2h-1zM290 555h1v1h-1zM325 634h1v1h-1zM360 634h1v1h-1zM395 634h1v2h-1zM395 555h1v1h-1zM430 634h1v1h-1zM465 634h1v1h-1zM500 634h1v2h-1zM500 555h1v1h-1z" shape-rendering="crispEdges"/>
<text class="t13" x="67" y="565.0" text-anchor="end" letter-spacing="0.6">30</text>
<text class="t13" x="67" y="574.6" text-anchor="end" letter-spacing="0.6">25</text>
<text class="t13" x="67" y="587.6" text-anchor="end" letter-spacing="0.6">20</text>
<text class="t13" x="67" y="600.7" text-anchor="end" letter-spacing="0.6">15</text>
<text class="t13" x="67" y="613.7" text-anchor="end" letter-spacing="0.6">10</text>
<text class="t13" x="67" y="626.2" text-anchor="end" letter-spacing="0.6">5</text>
<text class="t13" x="67" y="633.6" text-anchor="end" letter-spacing="0.6">0</text>
<text class="t13" transform="translate(37.6 596.2) rotate(-90)" text-anchor="middle" textLength="80.5" lengthAdjust="spacing">Bz freq (Hz)</text>
<rect x="580" y="556" width="21" height="78" fill="url(#cb)"/>
<rect x="580" y="556" width="1" height="78"/><rect x="600" y="556" width="1" height="78"/>
<path d="M576 556h4v1h-4zM601 556h4v1h-4zM578 567h2v1h-2zM601 567h2v1h-2zM578 564h2v1h-2zM601 564h2v1h-2zM578 562h2v1h-2zM601 562h2v1h-2zM578 561h2v1h-2zM601 561h2v1h-2zM578 559h2v1h-2zM601 559h2v1h-2zM578 558h2v1h-2zM601 558h2v1h-2zM578 557h2v1h-2zM601 557h2v1h-2zM578 557h2v1h-2zM601 557h2v1h-2zM576 571h4v1h-4zM601 571h4v1h-4zM578 582h2v1h-2zM601 582h2v1h-2zM578 579h2v1h-2zM601 579h2v1h-2zM578 578h2v1h-2zM601 578h2v1h-2zM578 576h2v1h-2zM601 576h2v1h-2zM578 575h2v1h-2zM601 575h2v1h-2zM578 574h2v1h-2zM601 574h2v1h-2zM578 573h2v1h-2zM601 573h2v1h-2zM578 572h2v1h-2zM601 572h2v1h-2zM576 587h4v1h-4zM601 587h4v1h-4zM578 598h2v1h-2zM601 598h2v1h-2zM578 595h2v1h-2zM601 595h2v1h-2zM578 593h2v1h-2zM601 593h2v1h-2zM578 591h2v1h-2zM601 591h2v1h-2zM578 590h2v1h-2zM601 590h2v1h-2zM578 589h2v1h-2zM601 589h2v1h-2zM578 588h2v1h-2zM601 588h2v1h-2zM578 588h2v1h-2zM601 588h2v1h-2zM576 602h4v1h-4zM601 602h4v1h-4zM578 613h2v1h-2zM601 613h2v1h-2zM578 610h2v1h-2zM601 610h2v1h-2zM578 608h2v1h-2zM601 608h2v1h-2zM578 607h2v1h-2zM601 607h2v1h-2zM578 606h2v1h-2zM601 606h2v1h-2zM578 605h2v1h-2zM601 605h2v1h-2zM578 604h2v1h-2zM601 604h2v1h-2zM578 603h2v1h-2zM601 603h2v1h-2zM576 618h4v1h-4zM601 618h4v1h-4zM578 628h2v1h-2zM601 628h2v1h-2zM578 626h2v1h-2zM601 626h2v1h-2zM578 624h2v1h-2zM601 624h2v1h-2zM578 622h2v1h-2zM601 622h2v1h-2zM578 621h2v1h-2zM601 621h2v1h-2zM578 620h2v1h-2zM601 620h2v1h-2zM578 619h2v1h-2zM601 619h2v1h-2zM578 618h2v1h-2zM601 618h2v1h-2zM576 633h4v1h-4zM601 633h4v1h-4z" shape-rendering="crispEdges"/>
<text class="t13" x="551.9" y="565.2" text-anchor="end" letter-spacing="0.7">10</text><text font-size="12.2" x="553.5" y="558.9" textLength="9.0" lengthAdjust="spacingAndGlyphs">−</text><text font-size="12.2" x="571.6" y="558.9" text-anchor="end" letter-spacing="0.6">1</text>
<text class="t13" x="551.9" y="576.7" text-anchor="end" letter-spacing="0.7">10</text><text font-size="12.2" x="553.5" y="570.4" textLength="9.0" lengthAdjust="spacingAndGlyphs">−</text><text font-size="12.2" x="571.6" y="570.4" text-anchor="end" letter-spacing="0.6">2</text>
<text class="t13" x="551.9" y="592.1" text-anchor="end" letter-spacing="0.7">10</text><text font-size="12.2" x="553.5" y="585.8" textLength="9.0" lengthAdjust="spacingAndGlyphs">−</text><text font-size="12.2" x="571.6" y="585.8" text-anchor="end" letter-spacing="0.6">3</text>
<text class="t13" x="551.9" y="607.5" text-anchor="end" letter-spacing="0.7">10</text><text font-size="12.2" x="553.5" y="601.2" textLength="9.0" lengthAdjust="spacingAndGlyphs">−</text><text font-size="12.2" x="571.6" y="601.2" text-anchor="end" letter-spacing="0.6">4</text>
<text class="t13" x="551.9" y="622.9" text-anchor="end" letter-spacing="0.7">10</text><text font-size="12.2" x="553.5" y="616.6" textLength="9.0" lengthAdjust="spacingAndGlyphs">−</text><text font-size="12.2" x="571.6" y="616.6" text-anchor="end" letter-spacing="0.6">5</text>
<text class="t13" x="551.9" y="633.6" text-anchor="end" letter-spacing="0.7">10</text><text font-size="12.2" x="553.5" y="627.3" textLength="9.0" lengthAdjust="spacingAndGlyphs">−</text><text font-size="12.2" x="571.6" y="627.3" text-anchor="end" letter-spacing="0.6">6</text>
<text class="t13" x="16.3" y="653.5" font-size="13" textLength="30.9" lengthAdjust="spacingAndGlyphs">SCET</text>
<text class="t13" x="47.5" y="671.7" text-anchor="end" font-size="13">R<tspan dy="3.6" font-size="8.6">E</tspan></text>
<text class="t13" x="47.5" y="689.7" text-anchor="end" font-size="13">λ<tspan dy="3.6" font-size="8.6">m</tspan></text>
<text class="t13" x="47.5" y="707.7" text-anchor="end" font-size="13">MLT</text>
<text class="t13" x="47.5" y="725.5" text-anchor="end" font-size="13">L</text>
<text x="80" y="653.5" text-anchor="middle" font-size="13" textLength="60.5" lengthAdjust="spacing">00:00 16</text>
<text x="185" y="653.5" text-anchor="middle" font-size="13" textLength="60.5" lengthAdjust="spacing">06:00 16</text>
<text x="290" y="653.5" text-anchor="middle" font-size="13" textLength="60.5" lengthAdjust="spacing">12:00 16</text>
<text x="395" y="653.5" text-anchor="middle" font-size="13" textLength="60.5" lengthAdjust="spacing">18:00 16</text>
<text x="500" y="653.5" text-anchor="middle" font-size="13" textLength="60.5" lengthAdjust="spacing">00:00 17</text>
<text x="101" y="671.7" text-anchor="end" font-size="13" letter-spacing="0.55">5.01</text>
<text x="206" y="671.7" text-anchor="end" font-size="13" letter-spacing="0.55">8.89</text>
<text x="311" y="671.7" text-anchor="end" font-size="13" letter-spacing="0.55">6.27</text>
<text x="416" y="671.7" text-anchor="end" font-size="13" letter-spacing="0.55">5.51</text>
<text x="521" y="671.7" text-anchor="end" font-size="13" letter-spacing="0.55">8.91</text>
<text x="101" y="689.7" text-anchor="end" font-size="13" letter-spacing="0.55">40.41</text>
<text x="206" y="689.7" text-anchor="end" font-size="13" letter-spacing="0.55">79.71</text>
<text x="311" y="689.7" text-anchor="end" font-size="13" letter-spacing="0.55">48.26</text>
<text x="416" y="689.7" text-anchor="end" font-size="13" letter-spacing="0.55">54.27</text>
<text x="521" y="689.7" text-anchor="end" font-size="13" letter-spacing="0.55">82.44</text>
<text x="101" y="707.7" text-anchor="end" font-size="13" letter-spacing="0.55">13.46</text>
<text x="206" y="707.7" text-anchor="end" font-size="13" letter-spacing="0.55">14.36</text>
<text x="311" y="707.7" text-anchor="end" font-size="13" letter-spacing="0.55">0.79</text>
<text x="416" y="707.7" text-anchor="end" font-size="13" letter-spacing="0.55">14.27</text>
<text x="521" y="707.7" text-anchor="end" font-size="13" letter-spacing="0.55">5.56</text>
<text x="101" y="725.5" text-anchor="end" font-size="13" letter-spacing="0.55">8.57</text>
<text x="206" y="725.5" text-anchor="end" font-size="13" letter-spacing="0.55">277.90</text>
<text x="311" y="725.5" text-anchor="end" font-size="13" letter-spacing="0.55">14.04</text>
<text x="416" y="725.5" text-anchor="end" font-size="13" letter-spacing="0.55">16.23</text>
<text x="521" y="725.5" text-anchor="end" font-size="13" letter-spacing="0.55">513.55</text>
<text x="290" y="744" text-anchor="middle" font-size="13" textLength="287" lengthAdjust="spacing">1997/03/16 00:00 to 1997/03/17 00:00</text>
<text x="570.6" y="765.4" font-size="7.8" font-weight="bold" textLength="22.8" lengthAdjust="spacingAndGlyphs">UIowa</text>
<text x="598.2" y="765.4" font-size="7.8" font-weight="bold" textLength="38.6" lengthAdjust="spacing">19980807</text>
</svg>
</body></html>
